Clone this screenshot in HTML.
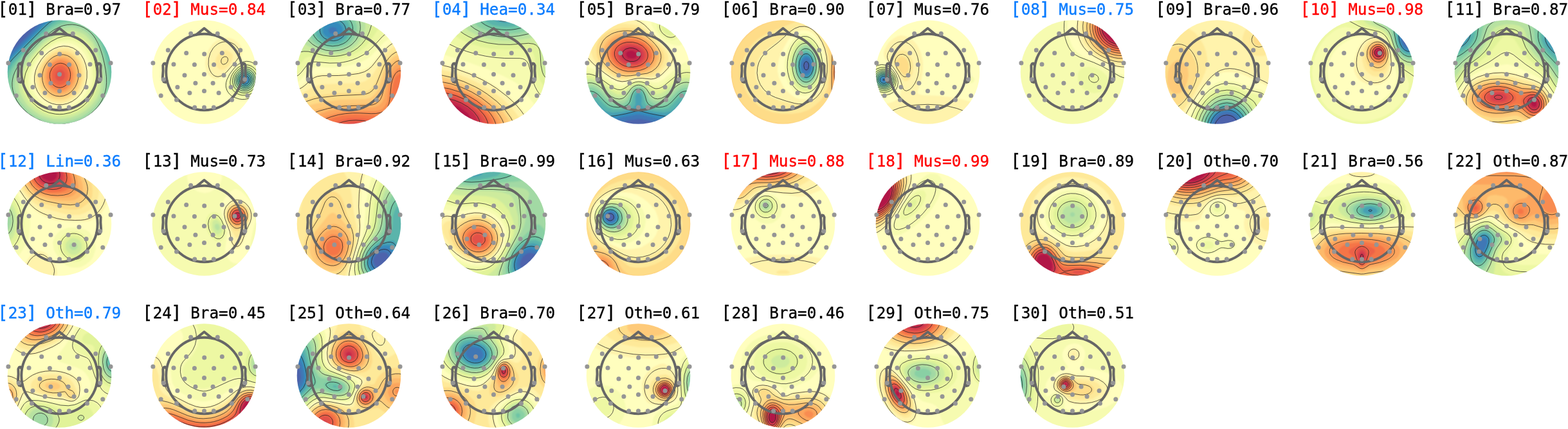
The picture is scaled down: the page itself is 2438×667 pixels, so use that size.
<!DOCTYPE html><html><head><meta charset="utf-8"><style>html,body{margin:0;padding:0;background:#fff;width:2438px;height:667px;overflow:hidden}svg{display:block}.t{font-family:"DejaVu Sans Mono",monospace;font-size:24.3px;stroke-width:0.35px}.b{font-size:27.5px}.ct{fill:none;stroke:#222;stroke-width:0.75}.hd{fill:none;stroke:#666;stroke-width:3.9;stroke-linejoin:round;stroke-linecap:round}.sn{fill:#959595}</style></head><body><svg width="2438" height="667" viewBox="0 0 2438 667"><defs><filter id="bl" x="-5%" y="-5%" width="110%" height="110%"><feGaussianBlur stdDeviation="1.3"/></filter></defs><clipPath id="c1"><circle cx="92.5" cy="112" r="80.8"/></clipPath><g clip-path="url(#c1)"><g filter="url(#bl)"><rect x="8.7" y="28.2" width="167.6" height="167.6" fill="#fffebe"/><path fill="#fff3ac" d="M93 72l9-1 7 1 8 3 6 6 6 6 4 9 2 9 1 10-1 11-2 9-4 7-6 8-6 6-8 4-7 3-9 1-8-1-7-2-8-4-6-5-5-7-4-7-2-8 0-7 0-8 3-9 4-7 5-8 5-6 8-6 7-5z"/><path fill="#f6fbb0" d="M10 28l167 0 0 168-168 0 0-168zM95 67l-8 3-8 4-7 5-8 8-6 9-5 9-3 9-2 9 1 9 2 7 4 8 6 7 6 6 8 4 7 3 9 1 9-1 9-2 9-5 8-6 6-8 4-8 3-9 1-11 0-12-3-10-4-10-6-8-7-6-8-4-9-1z"/><path fill="#fee999" d="M90 76l7-1 8 0 7 3 6 4 6 6 4 8 3 7 1 9 0 9-2 9-3 8-5 7-6 6-7 5-7 3-8 1-7-1-6-1-7-4-6-4-5-6-3-6-2-6-2-8 1-7 1-8 3-7 5-7 5-7 5-5 6-4z"/><path fill="#edf8a3" d="M10 28l167 0 0 168-168 0 0-168zM97 63l-9 2-9 5-9 7-8 8-7 9-6 11-4 10-1 9 0 9 2 8 5 8 6 8 7 6 8 4 9 4 9 1 10-1 9-2 10-4 8-7 7-7 5-9 4-10 2-11-1-12-2-13-4-11-6-10-8-7-8-4-10-2z"/><path fill="#fedc88" d="M93 79l7 0 6 1 6 3 5 4 5 6 3 6 2 7 1 9 0 8-2 7-3 8-5 6-6 5-6 4-6 2-7 1-8-1-6-2-5-3-5-5-3-4-4-6-1-6-1-8 0-6 2-7 4-8 4-6 5-5 6-5 6-3z"/><path fill="#e1f399" d="M10 28l167 0 0 168-168 0 0-168zM97 58l-10 4-9 5-9 7-9 9-9 11-6 11-4 10-2 9 0 9 3 9 4 9 6 8 8 7 9 5 9 3 10 2 12 0 11-3 10-4 9-7 8-8 5-9 4-10 2-11 0-13-3-15-4-14-7-10-8-8-9-5-10-2z"/><path fill="#feca79" d="M90 83l6-1 6 1 6 2 6 4 4 5 4 6 1 6 2 8-1 7-1 8-3 6-4 6-4 4-6 4-6 2-6 1-6 0-4-1-6-3-5-4-4-5-3-4-2-6-1-6 2-12 2-6 3-7 5-5 4-4 5-3z"/><path fill="#cdeb9d" d="M10 28l167 0 0 168-168 0 0-168zM97 54l-10 3-11 7-10 9-10 9-9 12-7 12-5 11-1 9 0 9 2 9 5 9 7 9 9 7 9 6 10 4 12 2 12-1 12-2 11-5 10-7 9-9 5-9 4-10 2-12 0-17-3-16-5-14-7-12-8-7-10-6-12-2z"/><path fill="#fdb96a" d="M91 86l6 0 5 1 4 1 5 3 4 5 3 6 2 6 1 6 0 7-2 6-2 6-3 5-4 4-5 4-5 2-6 1-6-1-4-1-5-2-4-4-4-5-2-4-2-11 0-6 1-6 5-10 8-8 5-3z"/><path fill="#b8e2a1" d="M10 28l167 0 0 168-168 0 0-168zM102 48l-11 3-10 6-11 7-12 12-12 14-9 13-6 11-2 10 0 11 2 9 5 10 6 9 9 8 10 7 11 4 12 3 13 0 12-2 12-4 12-7 9-8 8-10 5-10 2-12 1-15-3-18-5-18-6-14-8-9-4-4-6-3-12-4z"/><path fill="#fca55d" d="M94 90l5 0 4 1 5 3 3 3 3 4 2 5 2 11-2 10-5 9-5 4-4 3-9 2-5 0-4-2-8-6-5-8-1-11 2-10 5-9 8-7 5-2z"/><path fill="#a2d9a4" d="M10 28l167 0 0 168-168 0 0-168zM100 43l-10 4-11 6-12 10-13 13-14 15-9 14-5 10-3 11 0 10 3 11 5 10 9 11 9 8 12 7 12 4 12 3 14 0 13-3 14-5 11-7 10-9 7-10 6-12 2-12 0-17-4-21-5-18-8-15-9-10-10-6-12-3-6 0z"/><path fill="#f88c51" d="M90 94l4-1 5 1 7 3 3 3 2 5 3 9-1 9-1 4-3 5-6 6-4 2-5 1-7-1-7-4-4-6-3-9 1-9 3-7 5-7z"/><path fill="#89d0a4" d="M10 28l167 0 0 168-168 0 0-168zM108 37l-11 2-10 5-11 7-13 12-19 19-14 17-7 12-4 12-1 10 2 12 5 11 7 10 9 9 11 8 12 6 14 4 13 1 15-1 15-4 13-6 12-9 9-11 7-11 3-13 1-16-2-20-6-24-8-18-8-10-9-8-12-5-6-1z"/><path fill="#f57547" d="M90 98l7 0 6 2 5 6 2 8 0 9-4 7-5 5-7 2-6-1-5-3-4-4-2-8 0-7 2-7 5-5z"/><path fill="#6ec5a5" d="M10 28l167 0 0 168-64 0 13-4 12-6 10-8 8-8 7-10 4-10 3-12 1-12-2-17-5-22-6-18-7-14-7-9-9-7-12-5-12-2-11 2-10 3-11 7-12 10-25 25-16 18-8 12-4 12-1 11 2 12 4 12 8 11 9 10 11 9 13 6 12 4-63 0 0-168z"/><path fill="#ed6246" d="M90 103l6-1 4 2 4 4 2 6 0 6-2 6-4 4-6 2-4 0-5-3-3-3-1-5 0-6 1-5 3-4z"/><path fill="#5ab4ab" d="M10 28l94 0-11 3-11 6-10 8-14 13-27 29-11 12-7 12-3 6-1 7 0-96zM120 28l57 0 0 168-50 0 11-5 9-7 9-7 7-10 6-10 4-10 2-11 0-12-2-16-5-21-7-20-6-13-7-10-8-7-10-6zM9 139l2 9 4 9 4 8 6 7 7 8 8 6 9 6 9 4-49 0z"/><path fill="#e2514a" d="M91 109l3-1 3 1 3 3 1 3 0 5-2 3-2 2-3 1-3 0-3-2-2-4 0-3 1-4 1-2z"/><path fill="#47a0b3" d="M10 28l79 0-11 8-15 13-41 42-8 9-5 9 0-81zM135 28l42 0 0 76-10-32-8-19-5-8-6-6-7-6-7-5zM177 149l0 47-41 0 14-9 12-11 9-13zM9 154l6 12 10 12 11 10 13 8-40 0z"/><path fill="#358bbc" d="M10 28l72 0-16 14-48 48-9 11 0-73zM142 28l35 0 0 60-9-24-7-15-8-12zM177 161l0 35-33 0 10-7 9-8 8-10zM9 165l7 9 7 9 9 7 9 6-32 0 0-33z"/><path fill="#3f77b5" d="M10 28l65 0-66 67 0-67zM150 28l27 0 0 47-7-17-6-12-8-10-7-8zM177 169l0 27-26 0 14-12zM9 172l12 13 12 11-24 0 0-25z"/><path fill="#4e63ac" d="M10 28l58 0-29 32-30 28 0-60zM157 28l20 0 0 32-10-18-11-14zM177 179l0 17-17 0 9-8zM10 181l7 8 8 7-16 0 0-16z"/></g><path class="ct" d="M136.4 28.2l7.1 4.5 5.2 4.5 5.5 6.3 4.7 7.2 4.3 8.4 3.9 9.6 9.6 30.2M8.7 106.5l5.2-7.8 6.3-7.5 44-44.6 12-11.1 10.6-7.3M176.7 153.5l-2.9 6.7-3.3 6-4 6-4.8 5.9-4.5 4.7-6 5.2-12.2 8.2M46 196.2l-11.8-7.8-10.5-9.5-9-11.2-6-10.4M104.7 38.5l7.5-.4 6 .7 6 1.5 6 2.5 5.5 3.4 5 4.1 4.4 4.9 3.1 4.5 4.1 7.5 3.7 9 3.4 10.5 2.9 12 2 10.5 1.2 10.5.1 9-.6 7.5-1.2 6-2.1 6.8-3 6.7-3 5.2-3.9 5.3-5.1 5.6-5.6 4.9-4.9 3.6-6 3.6-6.8 3.3-6.7 2.5-7.5 2-13.5 1.7-7.5 0-7.5-.8-7.5-1.5-6-1.8-12-5.3-11.2-7.3-9.6-9-3.7-4.5-4.1-6-4.9-10.5-1.7-6-1-6-.1-6 .5-4.5 1.3-6 2.2-6 3.1-6 3.9-6 12.1-15 16.2-17.3 13.5-12.5 12-8.9 10.5-5.3 4.5-1.5 6-1.2M98.7 56.5l6-.7 4.5.1 6 .9 4.5 1.4 4.5 2.1 4.5 2.9 4.5 3.9 3.9 4.6 2.9 4.5 3.1 6 2.3 6 2.2 7.5 2.6 15 .4 7.5-.3 7.5-2 10.5-4.1 10.5-5.8 9-8.2 8.2-5 3.8-5 3-11 4.6-10.5 2.1-6 .3-6-.3-10.5-2.1-9-3.6-9-5.5-8.3-7.5-5.7-7.5-4.4-9-2.2-9-.1-9 2.3-10.5 4.6-10.5 6.5-10.5 8.8-11 9-9 10.5-8 10.5-5.5 9-2.7M98.7 71.6l7.5.6 7.5 2.5 6.8 4.5 5.6 6 4.4 7.5 3.2 9 1.5 9-.1 10.5-1.7 9-3.2 8.2-4.5 7.3-6 6.6-7.5 5.4-7.5 3.3-7.5 1.7-9 0-7.5-1.7-6-2.6-6.4-4.2-6-6-4.1-6-3.1-7.5-1.5-7.5.1-9 1.9-9 3.1-7.5 5.5-9 6-7.1 6-5.3 7.5-4.6 7.5-2.9 7.5-1.2M92.7 85.1l6-.2 6 1.5 4.5 2.5 4.4 3.8 3.4 4.5 2.9 6 1.6 6 .6 6-.6 7.5-1.6 6-2.7 6-3.5 4.9-4.2 4.1-4.8 3.2-6 2.2-6 .7-6-.7-4.5-1.6-4.5-2.7-4.5-4.1-3.3-4.5-2.2-4.5-1.6-6-.5-6 .5-6 1.6-6 2.5-5.5 3.3-5 4.2-4.6 4.5-3.5 4.5-2.3 6-1.7M91.2 98.6l3-.4 3 .4 3 1 3.2 2.1 2.7 3 1.7 3 1.4 4.4.4 3.1-.2 4.5-.6 3-2.8 6-2.8 3.3-3 2.2-3 1.4-3 .6-3 0-3-.8-3-1.4-2.8-2.3-2.3-3-1.5-3-1.3-6 .1-4.5.6-3 2.8-6 4.4-4.7 3-1.9 3-1"/></g><g class="hd"><circle cx="92.5" cy="112" r="59.2"/><path d="M80.1 54.11L92.5 43.92L104.9 54.11"/><path d="M151.34 101.64 152.88 98.65 153.83 98.54 155.24 99.04 156.66 101.64 156.44 109.95 157.26 121.89 155.49 127.08 152.88 128.04 150.4 125.53"/><path d="M33.66 101.64 32.12 98.65 31.17 98.54 29.76 99.04 28.34 101.64 28.56 109.95 27.74 121.89 29.51 127.08 32.12 128.04 34.6 125.53"/></g><g class="sn"><circle cx="71.7" cy="52.3" r="3.5"/><circle cx="113.3" cy="52.3" r="3.5"/><circle cx="36.3" cy="78" r="3.5"/><circle cx="148.7" cy="78" r="3.5"/><circle cx="64.7" cy="82.4" r="3.5"/><circle cx="92.7" cy="84" r="3.5"/><circle cx="120.3" cy="82.4" r="3.5"/><circle cx="12.9" cy="97.9" r="3.5"/><circle cx="172.1" cy="97.9" r="3.5"/><circle cx="45" cy="100" r="3.5"/><circle cx="77.4" cy="100.4" r="3.5"/><circle cx="107.6" cy="100.4" r="3.5"/><circle cx="140" cy="100" r="3.5"/><circle cx="62" cy="117" r="3.5"/><circle cx="92.5" cy="115.5" r="3.5"/><circle cx="123" cy="117" r="3.5"/><circle cx="29.2" cy="123.6" r="3.5"/><circle cx="155.8" cy="123.6" r="3.5"/><circle cx="78.9" cy="129.3" r="3.5"/><circle cx="106.1" cy="129.3" r="3.5"/><circle cx="50.9" cy="135.6" r="3.5"/><circle cx="134.1" cy="135.6" r="3.5"/><circle cx="92.5" cy="141.4" r="3.5"/><circle cx="69.9" cy="144.6" r="3.5"/><circle cx="115.1" cy="144.6" r="3.5"/><circle cx="25.2" cy="148.8" r="3.5"/><circle cx="159.8" cy="148.8" r="3.5"/><circle cx="49.5" cy="155.2" r="3.5"/><circle cx="135.5" cy="155.2" r="3.5"/><circle cx="77.7" cy="167.1" r="3.5"/><circle cx="92.5" cy="167.1" r="3.5"/><circle cx="107.3" cy="167.1" r="3.5"/></g><clipPath id="c2"><circle cx="317.5" cy="112" r="80.8"/></clipPath><g clip-path="url(#c2)"><g filter="url(#bl)"><rect x="233.7" y="28.2" width="167.6" height="167.6" fill="#fffebe"/><path fill="#fff3ac" d="M346 59l6 0 5 0 6 2 4 3 5 4 3 5 2 5 0 4-2 5-3 4-23 26-4 3-5 2-4 1-3 0-6-4-4-4-2-4-2-11 1-12 4-10 6-9 7-6z"/><path fill="#f6fbb0" d="M384 94l4 1 5 1 4 3 5 4 0 42-6 6-9 4-9 1-9-1-9-4-7-6-3-7 0-9 5-12 9-12 6-6 5-2 4-2z"/><path fill="#fee999" d="M346 79l6-1 6 3 4 4 0 5-2 6-5 7-6 5-4 1-4-1-3-3-2-5-1-4 1-6 3-5 3-3z"/><path fill="#edf8a3" d="M376 100l8-1 7 2 6 4 5 6 0 26-4 5-4 4-6 3-6 1-6 0-4-1-8-3-6-7-2-7 1-9 4-9 6-8 5-4z"/><path fill="#e1f399" d="M376 103l5-1 4 0 8 3 6 7 3 8 0 9-2 4-2 5-7 6-7 3-9 0-8-4-5-5-3-8 1-7 3-9 6-7z"/><path fill="#cdeb9d" d="M378 105l7-1 7 4 5 6 3 7-1 8-3 8-6 5-8 2-7 0-6-3-5-6-2-6 0-8 4-7 5-6z"/><path fill="#b8e2a1" d="M382 106l6 2 6 4 3 6 1 8-2 6-4 6-5 3-8 1-6-1-6-5-3-6 0-6 2-7 4-6 6-4z"/><path fill="#a2d9a4" d="M376 109l6-1 6 2 5 4 3 6 0 7-3 6-4 5-5 2-6 0-6-2-4-5-2-4 0-6 2-6 4-5z"/><path fill="#89d0a4" d="M378 110l6 0 4 2 4 3 2 6 0 6-2 5-4 4-4 2-6 0-5-2-3-3-2-4-1-6 2-5 3-4z"/><path fill="#6ec5a5" d="M378 112l4 0 5 1 4 4 2 4 0 5-2 4-3 4-4 2-5 1-4-2-4-3-2-5 0-4 2-5 2-3z"/><path fill="#5ab4ab" d="M379 113l5 1 3 1 3 3 1 5 0 4-2 3-2 3-5 2-4 0-3-2-3-3-1-4 0-5 2-3 2-3z"/><path fill="#47a0b3" d="M381 115l3 1 3 1 1 3 1 4 0 3-2 4-3 2-3 0-3 0-3-3-2-3-1-3 1-3 2-3 3-2z"/><path fill="#358bbc" d="M379 118l3-1 2 1 2 2 1 3 0 4-2 2-3 2-4-1-2-1-1-3 0-5 1-1z"/><path fill="#3f77b5" d="M379 121l3-1 3 3 0 3-3 2-3 0-2-2 0-3z"/></g><path class="ct" d="M380.7 122.1l-1 .6-.7 1.5.8 1.5.9.5 1.5-.3.7-1.7-.7-1.8-1.5-.3M379.2 117.5l-3 2.1-1 1.6-.6 1.5 0 3 1.4 3 1.6 1.5 1.6.7 3 .1 3-1.6 1.5-1.9.6-1.8.1-3-1.3-3-1.7-1.5-2.2-.9-3 .2M377.7 115.1l-3 2.1-1.8 2.5-1 3 .2 4.5 1.5 3 2.6 2.5 3 1.1 4.5-.3 3-1.7 2.4-3.1.9-3-.2-4.5-1.6-3.2-3-2.6-3-1-4.5.7M379.2 112.1l-3.9 1.6-3.2 3-2.3 4.5-.4 4.5 1.2 4.5 2.6 3.4 4.5 2.5 4.5.3 4.5-1.6 3.3-3.1 2.1-4.5.3-4.5-1.3-4.5-2.9-3.7-4.5-2.4-4.5 0M376.2 110.6l-4.5 3.1-3.2 4.5-1.1 3-.4 3 .4 4.5 2.1 4.5 3.7 3.6 4.5 1.9 3 .3 3-.4 5.2-2.4 2.3-2.2 1.6-2.3 1.3-3 .6-3-.5-6-1.2-3-1.8-2.6-4.5-3.5-4.5-1.1-3 .1-3 1M377.7 107.4l-3 1.2-3 2-4.1 4.6-2.6 6-.5 6 .6 3 1.2 3 3.9 4.7 3 2 3 1.1 6 .5 3-.6 3-1.3 3-2.1 2.5-2.8 1.8-3 1.1-3 .5-3-.2-4.5-.7-3-2-4.1-1.5-2-3-2.6-3-1.6-3-.8-3-.2-3 .5M377.7 104.6l-3 1.1-3.3 2-3.4 3-2.4 3-1.7 3-1.7 4.5-.6 4.5.1 3 1.9 6 2.1 3.2 3 2.8 3 1.9 3 1.2 3 .6 4.5.1 4.5-1.1 3-1.4 3-2.1 3-3.3 2.1-3.4 1.5-4.5.4-3-.1-4.5-1.1-4.5-1.3-3-2.1-3-3.1-3-3.8-2.3-3-.9-4.5-.4-3 .5M401.7 115.6l-3.4-6.4-2.6-3-3-2.4-3-1.6-4.5-1.3-4.5-.2-3 .5-3 1.1-4.5 2.7-5.8 5.7-3 4.5-2.1 4.5-1.5 7.5.1 3 1.1 4.5 1.4 3 2.2 3 3.1 2.9 3 2 4.5 1.8 3 .7 7.5-.1 3-.7 4.5-2 4.1-3.1 2.8-3 1.9-3 1.7-3.8M401.7 104.7l-3-3.2-3-2.3-4.5-2.4-3-1-4.5-.5-3 .3-3 .7-4.5 2-4.5 3.2-4.5 4.3-7.1 9.4-4.4 9-1.2 4.5-.3 4.5.3 3 1.5 4.5 1.8 3 2.6 3 2.3 2 4.5 2.7 7.5 2.5 4.5.6 4.5-.1 7.5-1.5 7.5-3.8 6-5.7M346.2 65.3l4.5-.5 4.5.3 4.5 1.4 4.5 2.4 3.2 2.8 3.4 4.5 1.7 4.5 0 4.5-1.8 4.5-3 4.5-15.5 17.9-4.5 3.9-3 1.8-4.5 1.3-3 0-3-.9-3-1.9-2.4-2.6-2.5-4.5-1.5-4.5-.7-4.5.3-9 2.7-9 4.5-7.5 2.8-3 4.3-3.3 3-1.6 4.5-1.5M349.2 88l3 .4 1.5 1.3.8 3-.7 3-1.6 2.3-1.5 1.2-3 1-1.5-.3-1.5-1.3-.7-1.4-.2-3 .9-2.8 1.3-1.7 3.2-1.7"/></g><g class="hd"><circle cx="317.5" cy="112" r="59.2"/><path d="M305.1 54.11L317.5 43.92L329.9 54.11"/><path d="M376.34 101.64 377.88 98.65 378.83 98.54 380.24 99.04 381.66 101.64 381.44 109.95 382.26 121.89 380.49 127.08 377.88 128.04 375.4 125.53"/><path d="M258.66 101.64 257.12 98.65 256.17 98.54 254.76 99.04 253.34 101.64 253.56 109.95 252.74 121.89 254.51 127.08 257.12 128.04 259.6 125.53"/></g><g class="sn"><circle cx="296.7" cy="52.3" r="3.5"/><circle cx="338.3" cy="52.3" r="3.5"/><circle cx="261.3" cy="78" r="3.5"/><circle cx="373.7" cy="78" r="3.5"/><circle cx="289.7" cy="82.4" r="3.5"/><circle cx="317.7" cy="84" r="3.5"/><circle cx="345.3" cy="82.4" r="3.5"/><circle cx="237.9" cy="97.9" r="3.5"/><circle cx="397.1" cy="97.9" r="3.5"/><circle cx="270" cy="100" r="3.5"/><circle cx="302.4" cy="100.4" r="3.5"/><circle cx="332.6" cy="100.4" r="3.5"/><circle cx="365" cy="100" r="3.5"/><circle cx="287" cy="117" r="3.5"/><circle cx="317.5" cy="115.5" r="3.5"/><circle cx="348" cy="117" r="3.5"/><circle cx="254.2" cy="123.6" r="3.5"/><circle cx="380.8" cy="123.6" r="3.5"/><circle cx="303.9" cy="129.3" r="3.5"/><circle cx="331.1" cy="129.3" r="3.5"/><circle cx="275.9" cy="135.6" r="3.5"/><circle cx="359.1" cy="135.6" r="3.5"/><circle cx="317.5" cy="141.4" r="3.5"/><circle cx="294.9" cy="144.6" r="3.5"/><circle cx="340.1" cy="144.6" r="3.5"/><circle cx="250.2" cy="148.8" r="3.5"/><circle cx="384.8" cy="148.8" r="3.5"/><circle cx="274.5" cy="155.2" r="3.5"/><circle cx="360.5" cy="155.2" r="3.5"/><circle cx="302.7" cy="167.1" r="3.5"/><circle cx="317.5" cy="167.1" r="3.5"/><circle cx="332.3" cy="167.1" r="3.5"/></g><clipPath id="c3"><circle cx="542.5" cy="112" r="80.8"/></clipPath><g clip-path="url(#c3)"><g filter="url(#bl)"><rect x="458.7" y="28.2" width="167.6" height="167.6" fill="#fffebe"/><path fill="#fff3ac" d="M621 63l6 0 0 133-168 0 0-58 4-1 5-2 18-16 7-3 8-1 22 0 17-1 16-3 11-3 6-3 6-6 17-21 8-8 8-5z"/><path fill="#f6fbb0" d="M460 28l167 0 0 26-11 0-10 5-9 7-20 21-7 5-8 4-15 5-16 3-15 1-21-1-6 1-4 1-4 3-13 15-5 3-4 1 0-100z"/><path fill="#fee999" d="M616 71l5-1 6 1 0 125-168 0 0-48 9-2 19-11 9-3 11-1 46-2 9-1 6-2 6-4 5-5 16-26 6-9 8-7z"/><path fill="#edf8a3" d="M460 28l167 0 0 14-12 1-6 2-6 4-9 7-21 22-9 7-9 5-14 5-15 2-13 1-23-3-6 1-4 2-3 3-12 14-6 3 0-90z"/><path fill="#fedc88" d="M621 78l6 0 0 118-168 0 0-37 9-2 19-7 11-2 24-3 39-1 7-1 5-2 4-3 5-6 13-29 8-13 4-5 5-4 4-2z"/><path fill="#e1f399" d="M460 28l167 0-9 1-8 1-7 3-6 3-8 8-13 19-7 9-10 8-10 5-14 5-15 2-12 0-21-4-7 0-6 3-11 12-4 2 0-77z"/><path fill="#feca79" d="M618 85l4-1 5 1 0 111-168 0 0-25 28-9 15-3 27-4 39-1 8-2 4-3 4-4 4-6 8-25 6-14 4-5 4-5z"/><path fill="#cdeb9d" d="M460 28l121 0-5 17-4 10-6 9-7 8-9 7-10 5-11 2-12 2-13-2-26-6-6 0-9 2-3-1-1-2 0-51z"/><path fill="#fdb96a" d="M622 91l5 1 0 104-168 0 0-12 21-9 13-5 17-4 18-3 46-2 6-2 5-2 4-4 3-6 8-29 5-13 4-6 4-4 5-3z"/><path fill="#b8e2a1" d="M466 29l0-1 101 0 1 8 0 7-2 9-5 9-6 8-6 5-9 5-9 3-11 1-10 0-11-2-11-5-12-6-7-5-3-7-2-9 0-10z"/><path fill="#fca55d" d="M619 99l5-1 3 1 0 97-163 0 10-7 12-7 12-5 12-4 13-3 15-2 41-1 6-1 4-2 5-5 3-6 6-29 4-12 6-9 3-3z"/><path fill="#a2d9a4" d="M477 28l81 0 3 11 0 6-1 6-3 7-5 7-6 6-8 4-7 3-9 2-9-1-9-1-9-3-9-6-6-5-5-6-2-7-1-8 2-9z"/><path fill="#f88c51" d="M621 106l3 0 3 1 0 89-145 0 7-6 10-6 11-4 11-3 11-2 14-2 36 0 7-1 5-2 4-4 4-7 4-29 4-12 5-8 3-3z"/><path fill="#89d0a4" d="M484 29l66-1 3 6 2 6 0 8-2 6-3 6-5 6-5 4-7 3-8 2-8 1-7-1-8-2-7-3-6-4-4-5-4-6-2-6 0-7 2-6z"/><path fill="#f57547" d="M621 115l3 0 3 1 0 80-131 0 8-6 7-4 9-3 11-3 21-2 36 2 6-1 6-3 5-4 3-6 1-7 1-20 2-10 3-9 3-3z"/><path fill="#6ec5a5" d="M492 29l51-1 4 6 3 8-1 7-1 6-4 5-4 5-6 4-6 2-6 1-8 0-7-1-6-2-5-3-5-5-3-4-3-6 0-6 1-6 3-6z"/><path fill="#ed6246" d="M622 131l2 0 1 3 1 5-1 7-1 3-2 1-1 0-2-3-1-6 1-6 2-3zM543 184l18 0 30 4 18 1 4 2 2 5-105 0 6-4 7-3 10-3z"/><path fill="#5ab4ab" d="M499 29l1-1 35 0 6 6 3 8 0 7-3 8-3 4-4 3-5 3-6 1-6 1-6-1-6-2-4-2-5-4-3-3-2-5-1-4 1-6 1-5 3-4z"/><path fill="#e2514a" d="M543 190l10-1 11 1 12 3 8 3-59 0 7-3z"/><path fill="#47a0b3" d="M510 29l5-1 10 1 7 4 4 4 3 6 0 8-3 6-5 4-9 3-9 0-9-3-6-6-2-7 1-8 2-4 3-3z"/><path fill="#358bbc" d="M514 34l6 0 5 1 4 3 3 4 1 4-1 6-3 4-4 3-6 1-8-1-6-4-3-4 0-6 2-5 4-4z"/><path fill="#3f77b5" d="M517 42l5 1 2 3 0 3-1 2-4 2-5-1-2-1-1-3 0-3 2-2z"/></g><path class="ct" d="M517.2 29.7l-4.5.5-3.5 1-4 2-3 2.4-2.5 3.1-1.5 3-.8 3-.1 3 .6 3 1.3 3.1 2.1 2.9 3.4 3 6.5 3 7.5.8 4.5-.7 3-.9 6-3.7 2.6-3 1.7-3 .9-3 .2-3-.4-3-1.1-3-1.9-3-3-3-3.5-2.2-3-1.2-7.5-1.1M493.6 28.2l-4.6 6-1.5 3-1.3 4.5-.3 4.5.2 3 1.2 4.5 1.5 3 4.8 6 7.1 5 7.5 2.9 9 1.2 9-1.1 7.5-2.8 3.7-2.2 3.6-3 4.7-6 1.4-3 1.3-4.5.3-3-.3-4.5-1.2-4.5-1.3-3-4.5-6M477.2 28.2l-3.2 9-.8 6 0 4.5 1.6 7.5 2.2 4.5 2.2 3 6.5 6 4.6 3 5.9 3 10.5 3.5 10.5 1.1 10.5-1 6-1.7 4.5-1.9 4.5-2.4 4.5-3.3 6.1-6.3 4.3-7.5 1.6-4.5.9-4.5.2-4.5-.4-4.5-1-4.5-1.6-4.5M458.7 78.9l1.5 1.8 3 .9 9-1.7 7.5.2 22.5 5.8 12 1.6 7.5-.1 7.5-.9 7.5-1.8 6-2.2 7.5-3.8 6-4.2 6.3-5.8 4.8-6 3.7-6 3.4-7.5 6.5-21M458.7 119.1l3-.9 3-1.8 4.1-4.2 8.2-10.5 3.6-3 3.6-1.7 3-.6 4.5-.2 21 1.9 13.5-.3 7.5-1 7.5-1.6 7.5-2.3 7.5-3 9-4.8 8-5.9 7-6.7 14.5-15.8 8-6.6 6-3.4 6-2.1 6-.9 6 0M458.7 140.3l4.9-1.1 5.6-2.8 4.5-3.3 12-10.5 3-1.9 4.5-1.8 7.5-1.2 25.5-.2 18-1.3 13.5-1.9 9-2.7 6-3.5 6-5.5 18-23 4.5-4.9 4.5-4 4.5-3.1 6-2.5 4.5-.9 6 .2M458.7 162.9l9-2.2 19.5-6.7 10.5-2.3 27-2.9 39-1.8 6-1 4.5-1.7 4.9-3.6 4.1-5.7 3-6.5 9.4-23.8 4-7.5 4.6-6.6 5.1-5.4 5.4-3.6 6-1.9 6 .4M458.7 189.9l13.3-7.2 12.7-6 11.5-4.2 13.5-3.7 13.5-2.5 13.5-1.5 37.5-1.1 6-1 4.5-1.8 4.7-3.7 2.2-3 2.1-4.5 1.8-6 5.5-24 3.2-8.8 3.3-6.2 4.2-5.5 4.5-3.6 4.5-1.6 3-.1 3 .7M489.4 196.2l7.2-6 7.8-4.5 9.8-4 12-3.3 10.5-1.7 12-1 10.5.1 18 .9 7.5-.2 7.1-1.3 4.9-2.3 4.5-4.2 1.6-2.5 1.8-4.5 1.4-7.5 2.3-22.5 1.4-6 2.1-6 2.9-5.1 2.3-2.4 2.2-1.5 1.5-.6 3-.1 3 1.2M518.5 196.2l7.7-4.4 7.5-2.5 9-1.8 10.5-.6 10.5.6 10.5 1.8 14.3 3.9 7.1 3"/></g><g class="hd"><circle cx="542.5" cy="112" r="59.2"/><path d="M530.1 54.11L542.5 43.92L554.9 54.11"/><path d="M601.34 101.64 602.88 98.65 603.83 98.54 605.24 99.04 606.66 101.64 606.44 109.95 607.26 121.89 605.49 127.08 602.88 128.04 600.4 125.53"/><path d="M483.66 101.64 482.12 98.65 481.17 98.54 479.76 99.04 478.34 101.64 478.56 109.95 477.74 121.89 479.51 127.08 482.12 128.04 484.6 125.53"/></g><g class="sn"><circle cx="521.7" cy="52.3" r="3.5"/><circle cx="563.3" cy="52.3" r="3.5"/><circle cx="486.3" cy="78" r="3.5"/><circle cx="598.7" cy="78" r="3.5"/><circle cx="514.7" cy="82.4" r="3.5"/><circle cx="542.7" cy="84" r="3.5"/><circle cx="570.3" cy="82.4" r="3.5"/><circle cx="462.9" cy="97.9" r="3.5"/><circle cx="622.1" cy="97.9" r="3.5"/><circle cx="495" cy="100" r="3.5"/><circle cx="527.4" cy="100.4" r="3.5"/><circle cx="557.6" cy="100.4" r="3.5"/><circle cx="590" cy="100" r="3.5"/><circle cx="512" cy="117" r="3.5"/><circle cx="542.5" cy="115.5" r="3.5"/><circle cx="573" cy="117" r="3.5"/><circle cx="479.2" cy="123.6" r="3.5"/><circle cx="605.8" cy="123.6" r="3.5"/><circle cx="528.9" cy="129.3" r="3.5"/><circle cx="556.1" cy="129.3" r="3.5"/><circle cx="500.9" cy="135.6" r="3.5"/><circle cx="584.1" cy="135.6" r="3.5"/><circle cx="542.5" cy="141.4" r="3.5"/><circle cx="519.9" cy="144.6" r="3.5"/><circle cx="565.1" cy="144.6" r="3.5"/><circle cx="475.2" cy="148.8" r="3.5"/><circle cx="609.8" cy="148.8" r="3.5"/><circle cx="499.5" cy="155.2" r="3.5"/><circle cx="585.5" cy="155.2" r="3.5"/><circle cx="527.7" cy="167.1" r="3.5"/><circle cx="542.5" cy="167.1" r="3.5"/><circle cx="557.3" cy="167.1" r="3.5"/></g><clipPath id="c4"><circle cx="767.5" cy="112" r="80.8"/></clipPath><g clip-path="url(#c4)"><g filter="url(#bl)"><rect x="683.7" y="28.2" width="167.6" height="167.6" fill="#fffebe"/><path fill="#fff3ac" d="M685 99l24 6 23 8 22 11 20 12 18 14 15 15 12 15 9 16-144 0 0-98z"/><path fill="#f6fbb0" d="M685 28l167 0 0 157-18-19-24-30-6-6-8-5-16-8-21-9-33-12-42-13 0-55z"/><path fill="#fee999" d="M685 108l21 5 21 8 21 10 18 11 16 12 14 14 10 13 7 15-129 0 0-88z"/><path fill="#edf8a3" d="M685 28l167 0 0 124-5-1-4-3-5-5-3-5-5-12-7-27-1-3-3-4-5-2-4-1-32 0-27-4-24-6-22-9-12-7-9-6 0-29z"/><path fill="#fedc88" d="M685 115l20 4 19 7 20 10 16 10 15 12 13 13 9 13 6 12-119 0 0-81z"/><path fill="#e1f399" d="M688 28l164 0 0 108-3-1-4-2-2-3-4-6-4-12-4-24-2-5-3-4-4-2-6-1-29 1-21-1-18-3-16-5-18-8-14-10-6-7-4-6-3-9z"/><path fill="#feca79" d="M685 120l18 4 18 7 18 8 17 10 13 11 12 12 8 12 6 12-111 0 0-76z"/><path fill="#cdeb9d" d="M702 28l150 0 0 94-5-3-4-7-2-10-2-23-2-6-3-3-5-2-7-1-29 2-18 0-16-2-15-4-17-7-13-8-5-5-4-6-3-6-1-3z"/><path fill="#fdb96a" d="M685 125l18 4 17 6 16 8 15 9 14 11 10 11 8 12 4 10-103 0 0-71z"/><path fill="#b8e2a1" d="M714 28l138 0 0 26-3 2-5 2-18 1-27 4-18 0-18-2-19-5-15-8-6-5-6-6-4-7 0-2z"/><path fill="#fca55d" d="M685 130l17 3 16 6 15 7 14 8 13 11 10 10 7 11 4 10-97 0 0-67z"/><path fill="#a2d9a4" d="M724 28l128 0 0 7-3 5-5 5-4 3-6 2-29 7-12 1-12 0-10-1-11-2-9-3-9-4-7-5-6-5-5-7-1-3z"/><path fill="#f88c51" d="M685 134l15 3 15 4 15 7 14 8 12 10 8 9 7 11 4 10-91 0 0-62z"/><path fill="#89d0a4" d="M733 28l111 0-2 5-3 4-5 4-7 4-8 3-11 3-10 1-11 1-19-2-17-6-7-3-5-5-5-6-2-3z"/><path fill="#f57547" d="M685 138l14 2 15 5 13 6 14 8 11 9 8 9 6 10 3 9-85 0 0-58z"/><path fill="#6ec5a5" d="M742 28l92 0-3 5-3 3-11 6-14 4-16 2-15-2-13-4-11-6-4-5z"/><path fill="#ed6246" d="M685 142l14 2 13 4 14 6 12 7 10 8 7 9 6 9 2 9-79 0 0-55z"/><path fill="#5ab4ab" d="M753 28l70 0-6 6-7 4-11 3-12 1-10-1-11-2-9-5-4-4-1-2z"/><path fill="#e2514a" d="M685 145l12 2 14 4 12 5 11 7 9 8 8 9 5 9 1 7-73 0 0-51z"/><path fill="#47a0b3" d="M765 28l45 0-3 3-6 3-6 1-8 1-7-1-6-1-6-3z"/><path fill="#d7414e" d="M685 150l11 1 12 3 12 4 10 7 9 7 7 9 4 8 0 7-66 0 0-46z"/><path fill="#c52c4b" d="M685 154l11 1 11 2 11 5 10 6 8 7 5 8 3 7-1 6-54 0-5-4 0-38z"/><path fill="#b11747" d="M687 162l7-1 9 1 11 4 7 5 7 6 4 6 2 6-2 4-3 3-26 0-12-6-7-6 0-21z"/></g><path class="ct" d="M769.6 28.2l2.6 1.8 4.5 1.9 4.5 1.1 6 .5 6-.4 4.5-1 4.5-1.8 3.2-2.1M743.8 28.2l2.9 4.3 3.3 3.2 4.4 3 5.8 2.9 6 2.1 6 1.4 7.5 1.1 7.5.4 7.5-.3 7.5-1 7.5-1.8 6-2.1 5.5-2.7 4.5-3 3.5-3.4 2.6-4.1M723.7 28.2l3 6 5 5.7 6.2 4.8 7.3 4 8.7 3.5 9.3 2.5 10.5 1.8 10.5.8 10.5-.2 12-1.3 13.5-2.8 13.6-3.8 5.9-2.5 4.9-3.5 4.1-4.8 3-5.8M701.2 28.2l2.2 6 2.6 4.5 3.7 4.5 5.5 5.2 6 4.3 7 4 8 3.6 7.5 2.7 15 3.8 16.5 2.2 18 .4 28.5-2.1 7.5.9 4.4 2 3.1 3 1.7 3 .9 3 .8 6 1 16.5 2.3 10.5 1.9 4.5 1.9 2.7 2.1 1.8 2.4 1M683.7 59.6l12 7.6 13.5 6.5 16.5 6.2 15 4.3 15 3.2 13.5 2 15 1.1 24 .2 4.5.7 3 1.2 3.7 3.1 2.5 4.5 7.2 27 2.8 7.5 3.2 6 3.1 4.6 4.5 4.7 4.5 2.9 4.5 1.4M683.7 100.6l13.5 3.1 10.5 3 22.5 8.1 21 9.9 10.5 6 10.5 6.7 16.5 12.6 7.9 7.2 7.3 7.5 6.3 7.5 6.4 9 4.4 7.5 3.4 7.5M683.7 116.3l18 4 19.5 6.6 18 8.3 9 5 9 5.8 15 11.5 7.5 7.1 5.6 6.1 8.7 12 4 7.5 2.3 6M683.7 126.8l16.5 3.2 16.5 5.4 16.5 7.5 15 9 13.5 10.5 5.5 5.3 5.4 6 4.4 6 3.6 6 2.6 6 1.4 4.5M683.7 135.5l15 2.5 15 4.7 15 6.7 12.9 7.8 11.3 9 4.5 4.5 5.1 6 4 6 2.3 4.5 1.7 4.5 1 4.5M683.7 143.8l12 1.4 13.5 3.6 13.5 5.7 12.1 7.2 9.3 7.5 8.1 9 2.9 4.5 2.1 4.5 1.4 4.5.5 4.5M683.7 152.8l10.5.3 11.8 2.6 11.4 4.5 10.2 6 9 7.5 5.8 7.5 2.3 4.5.9 3 .3 4.5-.6 3M687 196.2l-3.3-2.2"/></g><g class="hd"><circle cx="767.5" cy="112" r="59.2"/><path d="M755.1 54.11L767.5 43.92L779.9 54.11"/><path d="M826.34 101.64 827.88 98.65 828.83 98.54 830.24 99.04 831.66 101.64 831.44 109.95 832.26 121.89 830.49 127.08 827.88 128.04 825.4 125.53"/><path d="M708.66 101.64 707.12 98.65 706.17 98.54 704.76 99.04 703.34 101.64 703.56 109.95 702.74 121.89 704.51 127.08 707.12 128.04 709.6 125.53"/></g><g class="sn"><circle cx="746.7" cy="52.3" r="3.5"/><circle cx="788.3" cy="52.3" r="3.5"/><circle cx="711.3" cy="78" r="3.5"/><circle cx="823.7" cy="78" r="3.5"/><circle cx="739.7" cy="82.4" r="3.5"/><circle cx="767.7" cy="84" r="3.5"/><circle cx="795.3" cy="82.4" r="3.5"/><circle cx="687.9" cy="97.9" r="3.5"/><circle cx="847.1" cy="97.9" r="3.5"/><circle cx="720" cy="100" r="3.5"/><circle cx="752.4" cy="100.4" r="3.5"/><circle cx="782.6" cy="100.4" r="3.5"/><circle cx="815" cy="100" r="3.5"/><circle cx="737" cy="117" r="3.5"/><circle cx="767.5" cy="115.5" r="3.5"/><circle cx="798" cy="117" r="3.5"/><circle cx="704.2" cy="123.6" r="3.5"/><circle cx="830.8" cy="123.6" r="3.5"/><circle cx="753.9" cy="129.3" r="3.5"/><circle cx="781.1" cy="129.3" r="3.5"/><circle cx="725.9" cy="135.6" r="3.5"/><circle cx="809.1" cy="135.6" r="3.5"/><circle cx="767.5" cy="141.4" r="3.5"/><circle cx="744.9" cy="144.6" r="3.5"/><circle cx="790.1" cy="144.6" r="3.5"/><circle cx="700.2" cy="148.8" r="3.5"/><circle cx="834.8" cy="148.8" r="3.5"/><circle cx="724.5" cy="155.2" r="3.5"/><circle cx="810.5" cy="155.2" r="3.5"/><circle cx="752.7" cy="167.1" r="3.5"/><circle cx="767.5" cy="167.1" r="3.5"/><circle cx="782.3" cy="167.1" r="3.5"/></g><clipPath id="c5"><circle cx="992.5" cy="112" r="80.8"/></clipPath><g clip-path="url(#c5)"><g filter="url(#bl)"><rect x="908.7" y="28.2" width="167.6" height="167.6" fill="#fffebe"/><path fill="#fff3ac" d="M936 30l3-2 50 0 8 4 8 7 19 22 22 20 2 4 1 5-1 4-3 6-7 9-8 7-7 5-6 2-5 1-19-2-8 1-13 4-6 1-9-3-9-5-28-21-6-6-5-7 0-30 0-1 5-7 6-8 7-5z"/><path fill="#f6fbb0" d="M1012 30l0-2 56 0 3 8 2 9-1 9-3 7-6 7-7 3-9-1-9-3-11-8-8-10-6-10zM1065 97l6-1 6 0 0 100-168 0 0-93 7 2 8 3 31 21 6 2 5 1 6-1 13-6 8-1 7 0 15 4 8 0 9-5 24-21z"/><path fill="#fee999" d="M961 37l11 0 10 1 8 1 7 3 6 4 6 5 24 24 5 9 1 4 0 5-2 6-3 4-8 10-6 4-8 3-19 0-20 4-7 0-9-3-9-5-11-8-9-9-6-9-3-9 0-11 4-10 7-9 9-7 10-5z"/><path fill="#edf8a3" d="M1026 28l25 0 3 3 4 6 2 8-1 7-3 6-6 4-6 1-8-3-7-5-6-7-2-8 1-6zM1062 109l7-1 8 1 0 87-168 0 0-85 7 1 9 3 9 5 20 13 6 3 4 1 6-2 15-8 8-1 9 1 15 7 3 0 4 0 8-4 19-16z"/><path fill="#fedc88" d="M970 43l17 1 7 3 6 2 6 4 8 7 13 15 4 6 1 4 1 5-1 4-4 9-4 5-5 4-5 3-6 2-17 1-16 3-8 0-9-3-9-5-9-8-7-8-5-9-1-9 1-9 4-9 7-7 9-6 10-3z"/><path fill="#e1f399" d="M1035 34l4-1 5 1 3 3 3 3 1 5 0 3-1 3-3 3-5 1-4-1-5-3-3-3-1-5 0-3 3-4zM1060 116l9-1 8 2 0 79-168 0 0-78 9-1 9 3 9 6 16 12 6 3 5 1 4-1 3-1 14-10 9-2 6 0 4 2 14 9 3 1 4 0 8-3 18-15z"/><path fill="#feca79" d="M961 49l15-1 15 2 12 5 11 9 9 11 3 6 2 4 0 5-1 6-3 6-4 4-6 5-8 3-33 4-7-1-8-3-7-4-6-5-7-8-4-9-2-9 2-7 3-8 6-6 8-5z"/><path fill="#cdeb9d" d="M1065 121l6 0 6 2 0 73-168 0 0-73 9-1 9 3 9 5 15 12 9 5 4 0 5-2 13-12 5-2 6-1 4 0 5 2 4 3 9 9 3 2 5 0 4-1 6-3 15-13 6-4 6-3z"/><path fill="#fdb96a" d="M969 52l13 0 14 3 10 6 10 9 6 9 2 9-1 5-2 4-2 5-5 4-6 4-8 3-18 2-9 0-7-1-8-3-7-5-6-6-5-7-2-8-1-7 3-8 5-7 6-5 7-4z"/><path fill="#b8e2a1" d="M915 127l6 0 7 3 7 5 16 13 6 3 6 1 4-1 3-1 12-14 3-2 5-2 6 0 4 1 6 5 9 12 3 1 5 1 6-1 4-3 17-15 7-5 9-2 5 0 4 2 2 1 0 67-168 0 0-67z"/><path fill="#fca55d" d="M972 55l12 0 12 3 10 6 8 8 5 9 1 7-1 5-2 4-6 8-6 3-8 3-13 2-9 0-8-2-7-3-6-4-6-5-4-8-2-7 0-8 3-6 4-6 6-4 8-3z"/><path fill="#a2d9a4" d="M915 132l6 0 6 2 7 5 15 14 6 3 8 1 4-1 5-2 3-4 7-11 3-3 5-2 6 0 4 2 5 5 6 10 3 3 4 2 5 1 6-1 6-3 4-3 12-12 8-5 7-2 8 1 3 2 0 62-168 0 0-62z"/><path fill="#f88c51" d="M973 58l11 0 10 3 9 5 8 7 3 5 2 4 0 8-3 7-5 6-6 4-8 2-9 1-9 0-7-1-6-2-6-4-6-6-4-6-1-7 0-6 2-6 4-5 6-4 8-3z"/><path fill="#89d0a4" d="M916 136l6 0 6 3 6 5 11 11 4 3 6 3 8 0 6 0 4-3 3-3 7-14 4-4 4-1 6 0 4 3 3 5 5 11 3 3 5 3 6 0 7-1 7-3 5-4 11-11 6-4 7-2 6 1 5 3 0 56-168 0 0-57 3-2z"/><path fill="#f57547" d="M973 61l11 0 9 2 8 4 7 7 4 7 1 7-3 8-5 6-6 3-6 2-9 1-8 0-6-1-6-3-6-4-4-4-3-6-2-6 1-6 2-5 3-4 5-3 6-3z"/><path fill="#6ec5a5" d="M993 138l4 1 3 3 3 5 3 10 3 5 5 2 7 2 9-1 8-2 6-5 10-12 6-4 4-1 4 0 6 2 3 3 0 50-168 0 0-50 3-3 6-2 6 1 6 4 12 12 6 5 7 2 9 1 8-2 4-3 3-4 3-10 3-5 3-3z"/><path fill="#ed6246" d="M973 64l9 0 9 2 8 3 6 6 3 6 1 6-1 6-4 6-5 3-6 2-8 2-6 0-6-1-6-2-4-3-5-4-3-5-2-4 0-6 2-5 3-4 3-3 6-3z"/><path fill="#5ab4ab" d="M991 141l5 0 3 3 2 6 2 10 3 5 6 3 9 2 11 0 7-2 6-5 9-10 6-5 5-2 3 0 3 2 3 3 3 5 0 21-7 19-155 0-6-17 0-24 2-4 2-2 5-2 6 1 5 3 10 11 6 5 9 3 10 0 9-2 6-3 3-5 3-13 3-5z"/><path fill="#e2514a" d="M973 67l8 0 7 1 7 2 6 5 4 6 1 6-2 6-3 4-5 3-5 2-11 1-5-1-6-2-8-6-2-3-2-4 0-5 1-4 3-5 3-2z"/><path fill="#47a0b3" d="M991 144l3 1 3 3 1 5-1 9 2 4 7 5 14 3 13 1 9-2 6-4 12-13 5-2 3 1 2 2 1 3 1 9-3 11-6 16-141 0-6-15-3-10 0-9 2-4 1-2 5-2 3 2 4 3 9 10 6 4 9 2 14-1 13-3 7-5 2-4 0-12 1-3z"/><path fill="#d7414e" d="M975 70l7 0 6 1 6 2 5 4 3 5 0 5-1 4-4 5-7 4-5 0-6 0-9-2-6-5-3-6 0-5 1-3 2-3 3-3z"/><path fill="#358bbc" d="M987 173l4 0 5 0 30 6 25 3 2 2 1 3-1 9-121 0-1-6 0-4 2-3 1-1 24-2z"/><path fill="#c52c4b" d="M978 73l6 0 4 1 4 2 4 3 1 3 1 5-2 4-3 3-6 3-8 0-7-3-5-4-2-5 0-3 2-3 5-4z"/><path fill="#3f77b5" d="M981 180l9-2 6 0 25 6 9 2 6 3 3 3 2 4-98 0 3-5 7-4 11-4z"/><path fill="#b11747" d="M979 79l5 0 5 3 1 2 0 3-2 3-3 1-4 0-5-1-1-2-2-3 1-3 2-2z"/><path fill="#4e63ac" d="M985 186l11-1 12 2 12 5 5 4-65 0 3-3 5-3 9-3z"/></g><path class="ct" d="M1053 196.2l1-4.5.2-4.6-.8-2.9-2.2-1.9-16.5-1.5-9-1.3-15-2.9-13.5-3.5-4.5-.6-4.5.5-15 3.8-16.5 3.1-22.5 2.3-1.5.7-1.7 2.8-.2 4.5 1.2 6M1076.7 147.6l-3-3.2-4-2.2-3.5-.6-4.5.8-3 1.5-3 2.2-12 13-6 4.6-3 1.3-4.5 1.2-4.5.5-6-.2-7.4-1.8-4.4-3-2.6-4.5-2.5-9-2.6-5.5-1.7-2-2.8-1.9-1.5-.4-3-.1-2.3.9-2.2 1.5-2.3 3-2.1 4.5-3.1 10.4-3 4-3 1.9-3 1.1-9 1.2-7.5-.7-4.4-1.4-3.1-1.6-5.4-4.4-11.1-12-6-3.8-4.5-1.1-3 .3-4.5 2.1-3 3M908.7 195l.5 1.2M1075.8 196.2l.6-1.5.3-.8M1076.7 130.7l-4.5-2-4.5-.7-4.5.3-4.5 1.4-4.5 2.5-3.4 2.5-11.6 11.2-4.5 3.7-6 3.1-6 1.1-4.5-.6-4.5-2.6-3-3.7-5.1-7.7-2.8-3-2.6-1.9-4.5-1.8-3-.3-3 .4-4.5 1.9-3.9 3.2-8.1 11.2-3 2.9-3 1.5-4.5.7-6-.9-6-2.8-4.5-3.5-12-11-4.5-3.2-4.5-2.3-4.5-1.3-4.5-.3-4.5.8-3 1.3M1076.7 114l-4.5-1.1-4.5-.3-4.5.5-6 1.9-4.5 2.4-4.5 3-16.5 13.6-4.5 2.6-3 1-4.5.3-3-.8-14.5-8.4-5-1.4-4.5-.3-4.5.6-4.5 1.6-4.6 2.5-8.9 6.1-3 1.3-3 .5-4.5-.5-6-2.5-19.5-14-9-5-4.5-1.6-4.5-.9-7.5.2M1036.2 29.6l-3 .7-3 1.6-3.4 3.8-1.3 4.5.2 3 .9 3 1.6 3 2.3 3 5.7 4.3 3 1.2 3 .6 3-.2 3-.9 3-2.2 2.7-4.3.9-4.5-.2-3-.8-3-2.6-4.5-4.5-3.9-4.5-1.9-6-.3M970.4 28.2l10.3 1.2 9 2.2 6 2.7 6 4.1 4.5 4.3 16.5 17.8 19.6 18.7 2.1 3 1.4 3 .5 4.5-.4 3-1.7 4.5-5.8 9-8.7 9-4 3.1-4.5 2.6-4.5 1.6-4.5.5-13.5-1.3-7.5.1-6 1.1-12 3.4-6 .6-7.5-1.4-9-4.4-10.6-7.4-14.8-12-6.3-6-5-6-3.1-6-1.7-7.5-.1-4.5.6-4.5 2.7-9 4.1-7.5 6.3-7.5 6.9-5.7 9-4.8 9-2.9 11-1.6M961.2 49.2l7.5-1.2 7.5-.2 7.5.6 7.5 1.5 6 2.2 6 3.2 4.5 3.1 6 5.2 4.9 5.1 4.6 6 3.2 6 1.3 4.5.2 4.5-1.2 6-3.1 6-3.7 4.5-6.2 4.8-7.5 3.1-25.5 3.6-7.5.4-7.5-1.1-7.5-2.9-7.5-4.5-6-5-6.4-7.4-2.7-4.5-1.9-4.5-1-4.5-.3-4.5 1.2-7.5 3.6-7.5 3-3.8 3-2.8 7.5-4.8 4.5-1.9 6-1.7M970.2 58l6-.6 6 .2 6 .9 4.5 1.2 4.5 1.8 4.8 2.7 4.2 3.1 4.4 4.4 2.3 3 2.4 4.5 1.4 4.5.2 4.5-.8 4.5-1.3 3-2.6 4-3 3-6 3.9-7.5 2.6-10.5 1.7-9 .1-7.5-1.4-6-2.4-6-3.8-5.1-4.7-4.2-6-2.2-6-.5-4.5.2-3 1.8-6 4-5.8 4.5-3.8 7.5-3.8 7.5-1.8M974.7 65.7l9-.1 7.5 1.7 7.5 4 5 4.9 1.9 3 1.2 3 .5 3-.1 3-.8 3-1.5 3-4.3 4.5-4.9 2.9-6 1.9-6 .8-6-.3-6-1.3-4.5-2-4.5-3-3.4-3.5-2.7-4.5-1.2-4.5.1-4.5 1.7-4.5 2.5-3.5 4.5-3.5 4.5-2.1 6-1.4M979.2 74.5l4.5.2 4.5 1.3 3.1 1.7 2.9 3 1.4 3 .1 3.1-1.5 3.6-3 2.8-3 1.5-3 .8-6 0-6-2.2-3.9-3.6-1.8-4.5.3-3 .9-2 2.2-2.5 2.2-1.5 6.1-1.7"/></g><g class="hd"><circle cx="992.5" cy="112" r="59.2"/><path d="M980.1 54.11L992.5 43.92L1004.9 54.11"/><path d="M1051.34 101.64 1052.88 98.65 1053.83 98.54 1055.24 99.04 1056.66 101.64 1056.44 109.95 1057.26 121.89 1055.49 127.08 1052.88 128.04 1050.4 125.53"/><path d="M933.66 101.64 932.12 98.65 931.17 98.54 929.76 99.04 928.34 101.64 928.56 109.95 927.74 121.89 929.51 127.08 932.12 128.04 934.6 125.53"/></g><g class="sn"><circle cx="971.7" cy="52.3" r="3.5"/><circle cx="1013.3" cy="52.3" r="3.5"/><circle cx="936.3" cy="78" r="3.5"/><circle cx="1048.7" cy="78" r="3.5"/><circle cx="964.7" cy="82.4" r="3.5"/><circle cx="992.7" cy="84" r="3.5"/><circle cx="1020.3" cy="82.4" r="3.5"/><circle cx="912.9" cy="97.9" r="3.5"/><circle cx="1072.1" cy="97.9" r="3.5"/><circle cx="945" cy="100" r="3.5"/><circle cx="977.4" cy="100.4" r="3.5"/><circle cx="1007.6" cy="100.4" r="3.5"/><circle cx="1040" cy="100" r="3.5"/><circle cx="962" cy="117" r="3.5"/><circle cx="992.5" cy="115.5" r="3.5"/><circle cx="1023" cy="117" r="3.5"/><circle cx="929.2" cy="123.6" r="3.5"/><circle cx="1055.8" cy="123.6" r="3.5"/><circle cx="978.9" cy="129.3" r="3.5"/><circle cx="1006.1" cy="129.3" r="3.5"/><circle cx="950.9" cy="135.6" r="3.5"/><circle cx="1034.1" cy="135.6" r="3.5"/><circle cx="992.5" cy="141.4" r="3.5"/><circle cx="969.9" cy="144.6" r="3.5"/><circle cx="1015.1" cy="144.6" r="3.5"/><circle cx="925.2" cy="148.8" r="3.5"/><circle cx="1059.8" cy="148.8" r="3.5"/><circle cx="949.5" cy="155.2" r="3.5"/><circle cx="1035.5" cy="155.2" r="3.5"/><circle cx="977.7" cy="167.1" r="3.5"/><circle cx="992.5" cy="167.1" r="3.5"/><circle cx="1007.3" cy="167.1" r="3.5"/></g><clipPath id="c6"><circle cx="1217.5" cy="112" r="80.8"/></clipPath><g clip-path="url(#c6)"><g filter="url(#bl)"><rect x="1133.7" y="28.2" width="167.6" height="167.6" fill="#fffebe"/><path fill="#fff3ac" d="M1135 28l167 0 0 168-168 0 0-168zM1243 48l-6 3-6 5-6 7-5 9-5 9-4 12-2 9 0 9 2 9 3 7 4 8 6 7 7 6 6 4 6 2 8 0 7-1 6-4 6-5 6-8 4-9 2-9 1-10 0-11-1-12-3-10-5-11-5-7-6-6-6-3-8-1z"/><path fill="#f6fbb0" d="M1249 52l6 1 6 3 5 3 5 7 4 7 3 9 2 9 1 9 0 9-2 9-2 8-4 8-4 6-5 4-6 3-6 2-6-1-6-2-6-5-4-5-4-6-3-7-2-8-1-10 0-9 2-9 2-9 4-9 6-8 4-4 5-3z"/><path fill="#fee999" d="M1135 28l167 0 0 168-168 0 0-168zM1247 40l-8 2-8 4-21 18-15 11-7 6-6 6-4 7-2 8-2 9 1 10 4 10 5 8 8 8 8 5 10 4 20 5 12 2 9-1 9-3 7-5 6-6 6-9 4-9 2-10 2-12-1-14-1-12-4-12-5-10-7-9-6-6-8-4z"/><path fill="#edf8a3" d="M1246 58l5-1 6 1 6 3 4 5 5 7 3 8 2 7 1 9 1 9-1 8-2 7-3 8-4 6-5 5-4 3-6 1-5 0-6-2-4-3-4-4-4-6-3-6-2-8-1-7 0-9 0-8 5-15 3-6 4-6 5-4z"/><path fill="#fedc88" d="M1135 28l167 0 0 168-168 0 0-168zM1237 34l-45 18-13 8-8 7-7 9-6 11-4 10-1 12 1 14 3 12 5 11 8 10 10 9 11 6 12 4 13 2 15 0 14-2 12-4 10-7 9-8 7-11 4-10 2-20 0-25-2-15-5-14-4-7-6-8-5-5-6-4-6-3-6-1-6 0z"/><path fill="#e1f399" d="M1251 61l4 0 5 2 4 4 5 6 5 12 2 8 1 9-2 15-5 12-4 5-4 4-5 2-5 1-4-1-5-2-4-3-3-5-4-6-2-6-2-15 1-15 5-13 3-5 5-5 4-3z"/><path fill="#feca79" d="M1135 28l86 0-23 5-13 5-12 7-12 10-11 12-7 14-5 15-1 15 1 16 5 15 7 15 10 12 13 10 13 7 15 5 17 2 10-1 11-1 10-4 9-3 9-6 8-6 6-7 6-8 3-9 1-15 1-48-1-16-4-12-8-12-9-10-10-7 42 0 0 168-168 0 0-168z"/><path fill="#cdeb9d" d="M1248 66l4-1 5 1 4 2 4 4 6 10 2 8 2 7-1 15-4 12-3 5-4 5-5 2-4 1-5 0-4-2-7-6-5-11-2-12 0-13 3-12 6-10 3-3z"/><path fill="#fdb96a" d="M1135 28l40 0-13 8-12 10-9 11-7 12 0-41zM1273 28l29 0 0 168-42 0 15-9 11-10 6-9 2-9-1-44 2-45 0-10-2-8-5-7-7-9zM1134 156l8 12 10 11 11 10 12 7-41 0z"/><path fill="#b8e2a1" d="M1249 69l3-1 5 1 4 2 3 4 4 4 2 6 3 14-1 12-3 12-6 7-5 3-4 1-5 0-3-1-3-3-4-4-4-9-2-12 0-12 4-12 5-8 4-3z"/><path fill="#fca55d" d="M1135 28l18 0-10 9-9 10 0-19zM1287 28l15 0 0 168-20 0 8-7 6-7 3-7 2-7-5-32-1-22 1-24 5-29 0-7-1-6-3-6-4-6-8-8zM1134 177l9 10 10 9-19 0z"/><path fill="#a2d9a4" d="M1251 71l4 0 3 2 6 5 5 10 3 12-1 12-4 9-3 5-3 3-3 2-4 1-5-1-3-1-5-6-4-9-2-10 0-12 4-11 5-7z"/><path fill="#f88c51" d="M1135 28l2 0-3 3 0-3zM1299 28l3 0 0 4zM1302 75l0 74-2-5-2-9-2-21 2-23 1-9zM1302 192l0 4-4 0zM1134 193l3 3-3 0 0-3z"/><path fill="#89d0a4" d="M1251 74l4 0 3 2 6 5 4 9 2 10-1 11-3 9-3 4-3 3-6 2-6-1-6-5-3-8-3-10 1-11 3-9 5-7z"/><path fill="#f57547" d="M1302 84l0 57-3-11-1-18 1-17z"/><path fill="#6ec5a5" d="M1251 77l3 0 3 1 3 2 3 3 4 8 1 9 0 9-3 9-5 6-6 2-6-1-5-5-3-6-2-9 1-9 2-9 4-6z"/><path fill="#ed6246" d="M1302 91l0 43-2-10-1-12 1-12z"/><path fill="#5ab4ab" d="M1251 80l3 0 3 1 4 3 4 7 2 9-1 9-2 8-4 4-3 2-3 1-5-1-4-4-4-7-1-7 0-8 2-7 4-7z"/><path fill="#e2514a" d="M1302 99l0 27-2-14z"/><path fill="#47a0b3" d="M1251 83l4 0 5 3 4 7 1 7 0 8-2 6-5 6-4 1-5-1-3-3-3-5-1-7 0-8 2-6 2-4z"/><path fill="#358bbc" d="M1251 86l4 0 4 2 3 5 2 7-1 8-2 5-3 4-4 2-3-1-4-3-2-4-1-6 0-6 1-5 3-5z"/><path fill="#3f77b5" d="M1251 90l3-1 3 1 3 3 1 6 1 6-1 4-3 4-3 2-3 0-3-2-2-2-1-5-1-4 1-5 2-4z"/><path fill="#4e63ac" d="M1252 95l2 0 2 1 2 4 0 5-1 3-2 2-1 0-3-2-2-5 0-4z"/></g><path class="ct" d="M1253.7 95.7l-1.5.5-1.5 1.7-.9 3.8.9 4.9 1.5 1.7 1.5.5 1.5-.5 1.5-1.7.9-4.9-.9-3.7-1.5-1.7-1.5-.6M1252.2 83.6l-3 1.2-1.5 1.2-3 4.3-1.9 5.4-.6 7.5 1.3 7.5 2.7 5.4 3 3 1.5.8 3 .6 3-.7 1.5-.9 3.3-3.7 2.5-6 .9-7.5-1.2-7.5-2.5-5.6-1.5-1.9-3-2.4-1.5-.6-3-.1M1250.7 75.8l-3 1.3-2.6 2.1-1.9 2.1-2.3 3.9-1.8 4.5-1.1 4.5-.6 4.5 0 6 1.6 9 1.9 4.5 1.8 3 2 2.5 3 2.4 3 1.3 3 .4 3-.6 3-1.5 3-2.8 2.3-3.2 2.1-4.5 1.3-4.5.7-4.5.1-6-.7-6-1.2-4.5-1.9-4.5-2.7-4.2-3-3-3-1.7-3-.7-3 .2M1252.2 67.1l-4.5.9-3 1.7-3.8 3.5-3.1 4.5-2.8 6-1.8 6-1 6-.3 7.5.5 6 1.3 6 2.1 6 2.9 5.2 3.1 3.8 4.4 3.3 3 1.3 4.5.5 4.5-1.1 3-1.6 3-2.6 3.4-4.3 2.4-4.5 2-6 1.2-6 .5-7.5-.6-7.5-1.3-6-2.1-6-2.5-4.8-3.1-4.2-4.4-3.8-3-1.5-4.5-.8M1249.2 56.6l-3 .7-3 1.3-4.5 3.3-4.5 5.2-3.7 6.1-3 7.5-2 7.5-1.1 7.5-.3 9 .8 7.5 2.2 9 2.4 6 3.4 6 4.3 5 4.5 3.5 6 2.5 4.5.5 6-1.2 4.5-2.3 4.5-3.9 4.5-6.1 3.4-7 2.2-7.5 1.3-7.5.3-9-.7-7.5-1.9-9-2.7-7.5-4-7.5-4.9-6-5-3.9-4.5-1.9-6-.3M1243.2 41.4l-7.5 2.9-7.3 4.9-18.2 16.6-15.4 11.9-6.4 6-4.7 6-3.8 7.5-2.1 7.5-.7 9 1.4 9 3.7 9 5.5 7.7 7.5 6.5 4.5 2.8 6 2.8 17 5.7 13 3.5 6 .9 4.5 0 4.5-.4 4.5-1.1 7.5-3.4 7.5-6.1 5.6-6.9 4.8-9 3.5-10.5 1.9-12 .3-12-1-12-2.7-12-4.2-10.5-6.3-10.5-6.4-7.1-3-2.4-4.5-2.6-3-1.2-4.5-.9-7.5.4M1183.7 28.2l-9.5 4.5-7.4 4.5-7.6 5.8-6 5.6-6 6.7-5.4 7.4-4.4 7.5-3.7 8.1M1133.7 145.7l3.9 8.5 5.1 8.4 6 7.9 5.8 6.2 6.8 6 6.9 5 7.5 4.4 9.1 4.1M1251.4 196.2l8.3-3.7 7.5-4.3 7.5-5.4 6-5.3 6-6.7 3-4.5 1.9-4.6 1.2-6 .5-9-.2-37.5 1.2-34.5-.7-12-2.4-8-4.9-8.5-8.5-10.5-8.3-7.5M1301.7 144.8l-1.5-3.7-1.8-7.9-1-9-.5-10.5.3-10.5 1.1-10.5 1.9-8.9 1.5-3.9"/></g><g class="hd"><circle cx="1217.5" cy="112" r="59.2"/><path d="M1205.1 54.11L1217.5 43.92L1229.9 54.11"/><path d="M1276.34 101.64 1277.88 98.65 1278.83 98.54 1280.24 99.04 1281.66 101.64 1281.44 109.95 1282.26 121.89 1280.49 127.08 1277.88 128.04 1275.4 125.53"/><path d="M1158.66 101.64 1157.12 98.65 1156.17 98.54 1154.76 99.04 1153.34 101.64 1153.56 109.95 1152.74 121.89 1154.51 127.08 1157.12 128.04 1159.6 125.53"/></g><g class="sn"><circle cx="1196.7" cy="52.3" r="3.5"/><circle cx="1238.3" cy="52.3" r="3.5"/><circle cx="1161.3" cy="78" r="3.5"/><circle cx="1273.7" cy="78" r="3.5"/><circle cx="1189.7" cy="82.4" r="3.5"/><circle cx="1217.7" cy="84" r="3.5"/><circle cx="1245.3" cy="82.4" r="3.5"/><circle cx="1137.9" cy="97.9" r="3.5"/><circle cx="1297.1" cy="97.9" r="3.5"/><circle cx="1170" cy="100" r="3.5"/><circle cx="1202.4" cy="100.4" r="3.5"/><circle cx="1232.6" cy="100.4" r="3.5"/><circle cx="1265" cy="100" r="3.5"/><circle cx="1187" cy="117" r="3.5"/><circle cx="1217.5" cy="115.5" r="3.5"/><circle cx="1248" cy="117" r="3.5"/><circle cx="1154.2" cy="123.6" r="3.5"/><circle cx="1280.8" cy="123.6" r="3.5"/><circle cx="1203.9" cy="129.3" r="3.5"/><circle cx="1231.1" cy="129.3" r="3.5"/><circle cx="1175.9" cy="135.6" r="3.5"/><circle cx="1259.1" cy="135.6" r="3.5"/><circle cx="1217.5" cy="141.4" r="3.5"/><circle cx="1194.9" cy="144.6" r="3.5"/><circle cx="1240.1" cy="144.6" r="3.5"/><circle cx="1150.2" cy="148.8" r="3.5"/><circle cx="1284.8" cy="148.8" r="3.5"/><circle cx="1174.5" cy="155.2" r="3.5"/><circle cx="1260.5" cy="155.2" r="3.5"/><circle cx="1202.7" cy="167.1" r="3.5"/><circle cx="1217.5" cy="167.1" r="3.5"/><circle cx="1232.3" cy="167.1" r="3.5"/></g><clipPath id="c7"><circle cx="1442.5" cy="112" r="80.8"/></clipPath><g clip-path="url(#c7)"><g filter="url(#bl)"><rect x="1358.7" y="28.2" width="167.6" height="167.6" fill="#fffebe"/><path fill="#fff3ac" d="M1396 56l5-1 6 1 6 2 4 3 5 4 4 5 6 12 3 14 0 13-2 14-6 18-1 3 2 2 6 2 28 1 24 3 24 6 17 7 0 31-168 0 0-31 21-4 9-3 7-4 2-3 2-4 1-6 0-6-1-8-2-6-3-6-5-8-14-16-2-6 0-4 2-5 5-9 8-7z"/><path fill="#f6fbb0" d="M1366 100l5-1 4 1 8 3 7 8 6 10 1 9-2 8-5 6-7 4-6 1-6 0-6-2-6-2 0-42zM1507 119l5 0 3 3 0 4-3 3-5 0-3-3 0-4z"/><path fill="#fee999" d="M1398 79l6-1 6 2 5 7 4 7 1 11-1 9-4 7-2 3-3 2-3 0-2-1-3-4-10-16-4-8 0-4 2-6 3-5z"/><path fill="#edf8a3" d="M1372 103l8 2 6 4 5 6 3 9 0 8-3 6-5 4-8 3-6 0-4-1-5-1-4-3 0-32 7-4z"/><path fill="#fedc88" d="M1402 88l3 1 4 2 2 4 2 5 0 6-1 5-2 3-3 2-3-1-3-3-4-6-3-6 0-4 2-4 3-3z"/><path fill="#e1f399" d="M1369 106l8 0 6 2 5 6 3 6 2 7-2 6-4 5-6 4-6 1-6-1-6-2-4-4 0-24 4-4z"/><path fill="#cdeb9d" d="M1372 108l6 0 6 4 4 5 3 6 0 6-3 6-5 4-6 2-6-1-5-1-4-3-3-3 0-18 6-5z"/><path fill="#b8e2a1" d="M1368 110l4-1 6 1 5 2 4 5 2 6 0 6-2 4-4 4-6 2-8-1-6-3-4-5 0-2 0-8 0-2 4-4z"/><path fill="#a2d9a4" d="M1368 112l4-1 6 0 5 3 3 3 2 6 0 4-2 5-3 3-6 2-6 0-5-2-4-4-2-5 1-6 2-5z"/><path fill="#89d0a4" d="M1369 113l5-1 4 1 4 2 3 3 1 5 0 4-2 4-3 3-4 2-6-1-5-2-3-3-1-4 0-6 3-4z"/><path fill="#6ec5a5" d="M1374 114l4 0 4 3 2 3 1 4 0 3-2 4-3 2-5 1-4 0-4-2-3-3-1-5 1-4 2-3 3-2z"/><path fill="#5ab4ab" d="M1374 115l4 1 3 2 2 3 1 3-1 3-2 3-3 2-3 1-4-1-3-1-3-4 0-3 0-3 2-3 2-2z"/><path fill="#47a0b3" d="M1374 117l3 0 3 2 1 2 1 3-2 5-2 2-3 0-3 0-3-1-2-3-1-3 2-4 3-3z"/><path fill="#358bbc" d="M1371 119l4 0 3 1 1 1 1 5-2 2-4 2-3-1-2-2-1-4z"/><path fill="#3f77b5" d="M1374 121l3 1 1 2-1 2-2 1-3 0-1-3 1-3z"/></g><path class="ct" d="M1373.7 122.8l-.7 1.4.7.9 1.5-.2.4-.7-.4-.9-1.5-.5M1370.7 119.4l-1.5 1.5-.9 1.8.1 3 .8 1.5 1.6 1.5 2.9 1 3-.4 1.5-.9 1.8-2.7 0-3-.6-1.5-1.4-1.5-2.8-1.2-3 .2-1.5.7M1370.7 116.7l-3 2-1.6 2.5-.5 3 .7 3 2.4 3 2.9 1.5 3.6.4 3-.8 1.7-1.1 2.3-3 .6-3-.7-3-2.2-3-2.5-1.5-3.7-.7-3 .7M1369.2 115l-3 2.1-2.5 4.1-.3 4.5 1.1 3 2.6 3 3.6 2 4.5.5 4.5-1.3 3-2.4 1.8-3.3.2-4.5-1.1-3-2.4-3.1-4.5-2.3-4.5-.2-3 .9M1372.2 112l-4.5 1.4-4 3.3-2.3 4.5-.2 4.5 1.7 4.5 3.3 3.5 4.5 2.1 3 .5 3-.2 4.5-1.7 3.2-2.7 2.2-4.5.1-4.5-1.7-4.5-3.8-4-4.5-2-4.5-.2M1369.2 110.5l-3 1.3-2.7 1.9-3.4 4.5-1.1 3-.3 3 .4 3 1.1 2.8 1.5 2.4 2.2 2.3 5.3 2.9 6 .8 3-.5 3-1 4.5-3.4 2.1-3.3 1-4.5-.1-3-.9-3-1.6-3-2-2.4-4.5-3.2-4.5-1.2-3 0-3 .6M1358.7 132.5l1.7 2.2 2.8 2.5 4.5 2.4 4.5 1 6-.2 4.5-1.6 4.5-3.5 1.6-2.1 1.4-2.9.8-4.6-1.1-6-2.4-4.5-4.4-4.5-4.9-2.5-4.5-.7-6 1-4.5 2.3-4.5 4.7M1358.7 137.4l4.5 3.4 4.5 1.9 6 .9 6-.6 4.5-1.7 4.7-3.6 3.1-4.5 1.3-6-.7-6-2.6-6-4.3-5.2-4.5-3.3-6-1.9-6 .2-6 2.2-4.5 3.4M1358.7 143.3l6 3.1 6 1.4 7.5 0 6-1.7 4.5-2.5 4.4-4.4 2.3-4.5 1-6-.7-6-3.1-7.5-4.2-6-5.7-5.2-6-2.9-6-.7-6 1.2-6 3M1369.1 196.2l-.7-3 .4-4.5 1.3-3 2-3 6.1-5.4 9-5.1 10.5-4.1 12-3.1 16.5-2 16.5-.7 16.5.8 15 2.1 13.5 3.3 10.5 3.9 5.4 2.8 4.5 3 3.4 3 2.5 3 1.6 3 .9 3 .1 3-.7 3M1397.7 65.2l6-.6 4.5.9 4.5 2.2 4.5 3.6 4 4.9 3.2 6 2.2 6 1.6 7.5.6 7.5-.4 7.5-1.3 7.5-2 6-2.9 6-4.4 6-3.6 3.2-4.5 1.9-3-.7-1.5-1.4-1.5-3.1-3.7-11.9-3.4-7.5-4.9-8.1-9.6-12.9-1.6-3-.8-3-.1-3 1.2-4.5 4.1-7.5 5.3-5.6 4.5-2.8 3-1.1M1399.2 84.8l4.5-.5 4.5 1.8 2.2 2.1 2.2 3 2.3 6 .8 7.5-.9 6-1.1 3-1.7 3-2.3 2.1-1.5.7-3-.4-1.5-.9-3-3.1-5.9-8.9-2.6-6-.5-4.5 1.1-4.5 3.4-4.5 3-1.9"/></g><g class="hd"><circle cx="1442.5" cy="112" r="59.2"/><path d="M1430.1 54.11L1442.5 43.92L1454.9 54.11"/><path d="M1501.34 101.64 1502.88 98.65 1503.83 98.54 1505.24 99.04 1506.66 101.64 1506.44 109.95 1507.26 121.89 1505.49 127.08 1502.88 128.04 1500.4 125.53"/><path d="M1383.66 101.64 1382.12 98.65 1381.17 98.54 1379.76 99.04 1378.34 101.64 1378.56 109.95 1377.74 121.89 1379.51 127.08 1382.12 128.04 1384.6 125.53"/></g><g class="sn"><circle cx="1421.7" cy="52.3" r="3.5"/><circle cx="1463.3" cy="52.3" r="3.5"/><circle cx="1386.3" cy="78" r="3.5"/><circle cx="1498.7" cy="78" r="3.5"/><circle cx="1414.7" cy="82.4" r="3.5"/><circle cx="1442.7" cy="84" r="3.5"/><circle cx="1470.3" cy="82.4" r="3.5"/><circle cx="1362.9" cy="97.9" r="3.5"/><circle cx="1522.1" cy="97.9" r="3.5"/><circle cx="1395" cy="100" r="3.5"/><circle cx="1427.4" cy="100.4" r="3.5"/><circle cx="1457.6" cy="100.4" r="3.5"/><circle cx="1490" cy="100" r="3.5"/><circle cx="1412" cy="117" r="3.5"/><circle cx="1442.5" cy="115.5" r="3.5"/><circle cx="1473" cy="117" r="3.5"/><circle cx="1379.2" cy="123.6" r="3.5"/><circle cx="1505.8" cy="123.6" r="3.5"/><circle cx="1428.9" cy="129.3" r="3.5"/><circle cx="1456.1" cy="129.3" r="3.5"/><circle cx="1400.9" cy="135.6" r="3.5"/><circle cx="1484.1" cy="135.6" r="3.5"/><circle cx="1442.5" cy="141.4" r="3.5"/><circle cx="1419.9" cy="144.6" r="3.5"/><circle cx="1465.1" cy="144.6" r="3.5"/><circle cx="1375.2" cy="148.8" r="3.5"/><circle cx="1509.8" cy="148.8" r="3.5"/><circle cx="1399.5" cy="155.2" r="3.5"/><circle cx="1485.5" cy="155.2" r="3.5"/><circle cx="1427.7" cy="167.1" r="3.5"/><circle cx="1442.5" cy="167.1" r="3.5"/><circle cx="1457.3" cy="167.1" r="3.5"/></g><clipPath id="c8"><circle cx="1667.5" cy="112" r="80.8"/></clipPath><g clip-path="url(#c8)"><g filter="url(#bl)"><rect x="1583.7" y="28.2" width="167.6" height="167.6" fill="#fffebe"/><path fill="#fff3ac" d="M1675 28l77 0 0 77-14 0-15-5-22-11-13-10-8-10-5-14-2-13z"/><path fill="#f6fbb0" d="M1585 28l76 0-1 15 2 15 5 14 7 9 10 7 27 12 24 13 9 3 8 1 0 79-168 0 0-168z"/><path fill="#fee999" d="M1683 28l69 0 0 71-14 0-15-4-18-9-11-10-8-10-4-12-1-14 0-7z"/><path fill="#edf8a3" d="M1686 105l7-1 9 1 9 4 7 6 5 6 1 6-1 6-4 6-8 4-4 1-6 1-9-2-5-3-4-3-6-8-1-5 0-6 0-4 3-5 3-3z"/><path fill="#fedc88" d="M1687 30l1-2 64 0 0 66-14 0-13-3-14-6-12-10-7-9-5-12-1-12z"/><path fill="#feca79" d="M1692 29l0-1 60 0 0 62-14 1-12-3-13-6-11-9-6-9-5-12-1-12z"/><path fill="#fdb96a" d="M1696 28l56 0 0 59-14 0-12-2-12-6-9-8-7-10-4-10-1-12 2-8 1-3z"/><path fill="#fca55d" d="M1699 28l53 0 0 56-12 1-11-2-12-6-9-7-7-9-4-10 0-12z"/><path fill="#f88c51" d="M1702 28l50 0 0 53-12 1-11-2-10-5-9-7-6-8-4-11 0-10z"/><path fill="#f57547" d="M1705 28l47 0 0 51-12 1-11-3-10-5-8-6-6-9-2-9-1-11z"/><path fill="#ed6246" d="M1708 28l44 0 0 48-11 1-10-2-9-4-9-7-6-9-2-9 0-10 2-6z"/><path fill="#e2514a" d="M1710 30l0-2 42 0 0 46-11 1-9-2-9-3-7-7-5-6-3-9-1-9z"/><path fill="#d7414e" d="M1713 29l0-1 39 0 0 44-11 1-9-2-8-4-7-5-5-8-2-8 0-9z"/><path fill="#c52c4b" d="M1716 28l36 0 0 41-9 1-9-1-8-3-7-6-5-7-2-8 1-9z"/><path fill="#b11747" d="M1719 29l1-1 32 0 0 38-8 1-9-1-6-2-7-6-5-6-2-7 1-8z"/></g><path class="ct" d="M1697.7 114.9l-3 1.3-1.5 2-.4 3 1.1 3 2.3 2.4 3 1.4 3 .3 3-.9 1.9-1.7.8-1.5.3-1.5-.8-3-1-1.5-2.7-2.1-3-1.1-3-.1M1751.7 121.8l-6-1.4-4.5-1.7-27.4-15.5-13.1-6-22.5-8.5-6-3.4-3.9-3.1-4-4.5-2.8-4.5-2.7-6-2.4-7.5-1.4-7.5-.6-7.5.2-9 1-7.5M1751.7 104l-7.5 0-7.5-1.1-7.5-2.1-7.5-2.8-10.5-4.9-10.5-5.8-6-4-6-5.3-4-4.8-3.7-6-2.6-6-1.8-6-1.1-6-.4-7.5.5-7.5 1.1-6M1751.7 96l-7.5.4-6-.4-6-1.1-7.5-2.3-7.5-3.1-7.5-4-7-4.8-5.1-4.5-4-4.5-3.9-6-2.8-6-1.8-6-1.2-7.5-.2-6 .6-6 1.3-6M1751.7 90.4l-6 .5-7.5-.3-6-1-6-1.7-7.5-3.1-6-3.3-5.4-3.8-5-4.5-3.8-4.5-2.9-4.5-2.8-6-1.9-6-.9-6-.2-6 .6-6 1.5-6M1751.7 85.8l-6 .7-6-.1-6-.8-6-1.6-6-2.4-6-3.2-5.2-3.7-4.8-4.5-3.6-4.5-2.7-4.5-2.1-4.5-1.7-6-.9-6 .1-6 .9-6 1.3-4.5M1751.7 81.8l-6 .8-6-.1-6-.8-4.5-1.2-6-2.3-4.5-2.4-4.5-3.1-4.5-4.1-3.7-4.4-2.8-4.5-2-4.5-1.7-6-.7-6 .2-4.5 1-6 1.4-4.5M1751.7 78.2l-4.5.7-6 .2-6-.6-4.5-1.1-6-2.3-4.5-2.5-4.5-3.3-3.8-3.6-3.5-4.5-2.5-4.5-1.7-4.5-1.1-4.5-.5-4.5.4-6 .9-4.5 1.6-4.5M1751.7 74.8l-4.5.8-6 .2-9-1.4-4.5-1.6-4.5-2.2-4.5-3.1-3.6-3.3-2.5-3-2.8-4.5-1.9-4.5-1.2-4.5-.5-4.5.3-6 1-4.5 1.8-4.5M1751.7 71.5l-4.5.9-6 .3-9-1.5-4.5-1.8-4-2.2-6.5-5.6-2.7-3.4-2.5-4.5-2.2-7.5-.3-4.5.4-4.5 1.2-4.5 1.9-4.5M1751.7 68.1l-7.5 1.3-4.5-.1-4.5-.7-7.6-2.9-4.4-2.9-3.2-3.1-4.3-6.3-1.6-4.2-.9-4.5-.1-4.5.7-4.5 1.6-4.5 1.6-3"/></g><g class="hd"><circle cx="1667.5" cy="112" r="59.2"/><path d="M1655.1 54.11L1667.5 43.92L1679.9 54.11"/><path d="M1726.34 101.64 1727.88 98.65 1728.83 98.54 1730.24 99.04 1731.66 101.64 1731.44 109.95 1732.26 121.89 1730.49 127.08 1727.88 128.04 1725.4 125.53"/><path d="M1608.66 101.64 1607.12 98.65 1606.17 98.54 1604.76 99.04 1603.34 101.64 1603.56 109.95 1602.74 121.89 1604.51 127.08 1607.12 128.04 1609.6 125.53"/></g><g class="sn"><circle cx="1646.7" cy="52.3" r="3.5"/><circle cx="1688.3" cy="52.3" r="3.5"/><circle cx="1611.3" cy="78" r="3.5"/><circle cx="1723.7" cy="78" r="3.5"/><circle cx="1639.7" cy="82.4" r="3.5"/><circle cx="1667.7" cy="84" r="3.5"/><circle cx="1695.3" cy="82.4" r="3.5"/><circle cx="1587.9" cy="97.9" r="3.5"/><circle cx="1747.1" cy="97.9" r="3.5"/><circle cx="1620" cy="100" r="3.5"/><circle cx="1652.4" cy="100.4" r="3.5"/><circle cx="1682.6" cy="100.4" r="3.5"/><circle cx="1715" cy="100" r="3.5"/><circle cx="1637" cy="117" r="3.5"/><circle cx="1667.5" cy="115.5" r="3.5"/><circle cx="1698" cy="117" r="3.5"/><circle cx="1604.2" cy="123.6" r="3.5"/><circle cx="1730.8" cy="123.6" r="3.5"/><circle cx="1653.9" cy="129.3" r="3.5"/><circle cx="1681.1" cy="129.3" r="3.5"/><circle cx="1625.9" cy="135.6" r="3.5"/><circle cx="1709.1" cy="135.6" r="3.5"/><circle cx="1667.5" cy="141.4" r="3.5"/><circle cx="1644.9" cy="144.6" r="3.5"/><circle cx="1690.1" cy="144.6" r="3.5"/><circle cx="1600.2" cy="148.8" r="3.5"/><circle cx="1734.8" cy="148.8" r="3.5"/><circle cx="1624.5" cy="155.2" r="3.5"/><circle cx="1710.5" cy="155.2" r="3.5"/><circle cx="1652.7" cy="167.1" r="3.5"/><circle cx="1667.5" cy="167.1" r="3.5"/><circle cx="1682.3" cy="167.1" r="3.5"/></g><clipPath id="c9"><circle cx="1892.5" cy="112" r="80.8"/></clipPath><g clip-path="url(#c9)"><g filter="url(#bl)"><rect x="1808.7" y="28.2" width="167.6" height="167.6" fill="#fffebe"/><path fill="#fff3ac" d="M1810 28l167 0 0 111-5-5-6-3-37-17-8-1-9-1-7 0-6 1-8 4-7 5-8 8-7 9-10 15-10 17-7 13-5 12-28 0 0-168z"/><path fill="#f6fbb0" d="M1905 126l9 0 10 2 21 8 17 4 4 3 3 2 3 5 1 4-2 20 2 22-128 0 4-12 6-13 8-14 9-12 7-8 9-6 8-4z"/><path fill="#fee999" d="M1951 37l8-1 6 1 6 3 6 5 0 34-6 5-6 3-5 0-6 0-9-3-7-6-3-5-2-4-1-5 0-6 3-9 3-4 4-4zM1831 40l9 1 9 4 8 5 7 8 7 11 4 10 2 11 0 10-3 12-6 14-11 20-14 21-9 12-7 7-8 5-6 1-4-2 0-140 10-7 6-2z"/><path fill="#edf8a3" d="M1899 134l10-1 12 2 8 3 15 7 13 3 5 3 2 5-1 16 3 24-115 0 2-10 5-11 5-10 6-9 7-8 8-7 7-4z"/><path fill="#fedc88" d="M1954 53l5 0 3 1 2 1 2 3 1 3-1 4-1 3-3 2-3 1-5 0-3-2-2-3-1-5 1-3 2-3zM1830 72l6 0 6 2 6 4 4 5 4 7 3 7 2 8 0 7-2 9-3 9-4 9-6 10-6 8-6 5-6 3-4 1-5-1-3-2-4-4-3-5 0-65 4-7 5-5 6-4z"/><path fill="#e1f399" d="M1899 140l12-1 12 3 12 5 16 10 2 3 2 5 5 21 1 10-106 0 2-9 4-10 5-9 6-9 6-7 6-5 7-4z"/><path fill="#feca79" d="M1830 94l3-1 3 1 6 5 5 7 1 11-2 10-4 10-6 7-3 1-5 1-3-1-3-2-4-5-3-9 0-9 1-9 3-8 5-6z"/><path fill="#cdeb9d" d="M1900 145l11-1 10 2 11 5 10 8 5 6 4 7 4 12 2 12-98 0 2-9 3-9 5-9 5-7 7-7 6-5 6-3z"/><path fill="#b8e2a1" d="M1899 150l9-2 10 2 9 3 9 7 7 6 4 8 4 10 2 12-90 0 4-15 3-7 5-8 6-6 6-5 6-3z"/><path fill="#a2d9a4" d="M1903 153l8-1 9 2 7 4 8 5 5 6 4 8 4 9 2 10-84 0 2-9 3-7 4-8 4-6 5-4 6-5 6-2z"/><path fill="#89d0a4" d="M1899 157l7-1 9 1 8 2 7 5 7 7 5 7 3 9 2 9-78 0 3-13 7-12 9-9z"/><path fill="#6ec5a5" d="M1902 160l7-1 8 2 6 2 6 5 6 5 4 7 3 7 2 9-72 0 3-13 7-11 9-8z"/><path fill="#5ab4ab" d="M1902 163l6 0 7 1 6 2 6 4 5 5 4 6 3 8 2 7-67 0 4-12 6-9 4-5 5-3z"/><path fill="#47a0b3" d="M1903 166l6 0 6 1 6 2 5 4 4 4 4 6 2 6 2 7-61 0 3-10 6-9 8-8z"/><path fill="#358bbc" d="M1905 169l6 0 4 1 5 2 4 3 5 5 2 4 3 6 1 6-55 0 3-10 5-8 8-6z"/><path fill="#3f77b5" d="M1906 172l9 2 8 4 6 8 4 10-50 0 3-9 5-8 8-5z"/><path fill="#4e63ac" d="M1902 178l7-1 6 1 3 2 6 6 3 5 2 5-42 0 2-6 3-6 5-4z"/></g><path class="ct" d="M1926.8 196.2l-2.6-6.9-4.5-5.7-3-2.3-3-1.4-6-1.1-6 1-3 1.4-3 2.2-4.5 5.4-1.5 3-1.4 4.4M1933.9 196.2l-1.5-6-1.9-4.5-2.9-4.5-2.6-3-3.8-3.2-4.5-2.5-4.5-1.3-4.5-.5-4.5.4-4.5 1.4-4.5 2.5-3.9 3.2-2.6 3-2.9 4.5-1.9 4.5-1.6 6M1938.6 196.2l-1.3-6-2.3-6-3.3-5.7-4.2-4.8-4.8-3.8-4.5-2.4-4.5-1.5-6-.7-6 .7-4.5 1.5-4.5 2.4-4.7 3.8-4.3 5-3.3 5.5-2.3 6-1.4 6M1943.3 196.2l-1.5-7.5-2.2-6-3.4-6.3-4.5-5.7-4.5-4-6-3.7-6-2.1-7.5-1-6 .7-6 1.8-6 3.4-5.6 4.9-4.7 6-3.3 6-2.3 6-1.6 7.5M1948.2 196.2l-1.6-9-2.7-7.5-4.1-7.5-4.8-6-6.3-5.3-6-3.4-7.5-2.5-7.5-.8-7.5.9-6 2-6 3.3-6.8 5.8-4.9 6-4.3 7.5-2.9 7.5-1.9 9M1953.8 196.2l-1.8-10.5-2.9-9-3.7-7.5-4.7-6.3-6.4-5.7-8.6-5.2-9-3.2-9-1-9 1.2-7.5 2.8-7.5 4.8-5.5 5.1-5.9 7.5-5 9-3.3 9-1.8 9M1960.5 196.2l-1.6-10.5-4-16.5-1.9-6-2.8-4.5-3.3-3-4.6-3-15.1-8.4-9-3.1-6-.9-4.5-.2-9 1.1-9 3.4-7.5 4.8-6.8 6.3-7 9-5.9 10.5-4.1 10.5-2.3 10.5M1969.7 196.2l-2.8-22.5.2-4.5 1.5-9 .2-4.5-.9-4.5-1.8-3-2.9-2.6-3-1.5-15-3.4-19.5-8.3-7.5-2-9-.9-6 .4-4.5.8-9 3.3-9 5.9-7.5 7.2-8.9 11.6-7.1 12-5.8 13.5-3.2 12M1976.7 134l-4.5-3.6-4.5-2.7-13.6-6.5-14.9-7.9-10.5-4-9-2.1-7.5-.6-7.5.6-7.5 2.3-6 3.3-7.5 6.2-6 6.5-7.5 9.6-10.9 16.1-11 18-7.3 13.5-6 13.5M1808.7 84.5l3.8-5.3 3.7-3.9 3-2.4 4.5-2.5 4.5-1.4 4.5-.5 4.5.6 4.5 1.5 4.5 2.7 3.4 2.9 3.9 4.5 2.9 4.5 2.2 4.5 2.1 6 1.2 6 .5 6-.4 6-1.4 7.5-1.8 6-3.1 7.5-4.8 9-4.7 7.3-4.5 5.8-4.5 4.7-4.5 3.6-3 1.6-4.5 1.3-3 0-4.5-1.3-3-1.8-3-2.8-3-3.8M1957.2 50.6l4.5.8 3.5 2.3 1.4 1.5 1.6 3 .6 4.5-1.2 4.5-2.3 3-3.6 2.3-4.5.8-4.5-1.1-3-2-2.9-4.5-.6-4.5 1.3-4.5 2.2-3 3-2 4.5-1.1M1829.7 111.8l3-.7 1.5.6 1.8 2 1.4 4.5-.4 4.5-1.3 3.4-1.5 1.9-1.5 1-1.5.4-1.5-.3-1.5-1-1.5-2.4-.7-3-.1-3 .8-3.8 1.5-2.7 1.5-1.4"/></g><g class="hd"><circle cx="1892.5" cy="112" r="59.2"/><path d="M1880.1 54.11L1892.5 43.92L1904.9 54.11"/><path d="M1951.34 101.64 1952.88 98.65 1953.83 98.54 1955.24 99.04 1956.66 101.64 1956.44 109.95 1957.26 121.89 1955.49 127.08 1952.88 128.04 1950.4 125.53"/><path d="M1833.66 101.64 1832.12 98.65 1831.17 98.54 1829.76 99.04 1828.34 101.64 1828.56 109.95 1827.74 121.89 1829.51 127.08 1832.12 128.04 1834.6 125.53"/></g><g class="sn"><circle cx="1871.7" cy="52.3" r="3.5"/><circle cx="1913.3" cy="52.3" r="3.5"/><circle cx="1836.3" cy="78" r="3.5"/><circle cx="1948.7" cy="78" r="3.5"/><circle cx="1864.7" cy="82.4" r="3.5"/><circle cx="1892.7" cy="84" r="3.5"/><circle cx="1920.3" cy="82.4" r="3.5"/><circle cx="1812.9" cy="97.9" r="3.5"/><circle cx="1972.1" cy="97.9" r="3.5"/><circle cx="1845" cy="100" r="3.5"/><circle cx="1877.4" cy="100.4" r="3.5"/><circle cx="1907.6" cy="100.4" r="3.5"/><circle cx="1940" cy="100" r="3.5"/><circle cx="1862" cy="117" r="3.5"/><circle cx="1892.5" cy="115.5" r="3.5"/><circle cx="1923" cy="117" r="3.5"/><circle cx="1829.2" cy="123.6" r="3.5"/><circle cx="1955.8" cy="123.6" r="3.5"/><circle cx="1878.9" cy="129.3" r="3.5"/><circle cx="1906.1" cy="129.3" r="3.5"/><circle cx="1850.9" cy="135.6" r="3.5"/><circle cx="1934.1" cy="135.6" r="3.5"/><circle cx="1892.5" cy="141.4" r="3.5"/><circle cx="1869.9" cy="144.6" r="3.5"/><circle cx="1915.1" cy="144.6" r="3.5"/><circle cx="1825.2" cy="148.8" r="3.5"/><circle cx="1959.8" cy="148.8" r="3.5"/><circle cx="1849.5" cy="155.2" r="3.5"/><circle cx="1935.5" cy="155.2" r="3.5"/><circle cx="1877.7" cy="167.1" r="3.5"/><circle cx="1892.5" cy="167.1" r="3.5"/><circle cx="1907.3" cy="167.1" r="3.5"/></g><clipPath id="c10"><circle cx="2117.5" cy="112" r="80.8"/></clipPath><g clip-path="url(#c10)"><g filter="url(#bl)"><rect x="2033.7" y="28.2" width="167.6" height="167.6" fill="#fffebe"/><path fill="#fff3ac" d="M2134 58l6 0 6 1 6 4 5 6 3 6 2 7 2 21 0 6-1 6-3 5-3 4-9 6-6 2-6 0-6 0-6-2-6-3-5-3-3-4-3-5-2-6 0-6 0-7 2-8 3-9 4-7 4-5 4-4 6-3z"/><path fill="#f6fbb0" d="M2035 28l167 0 0 168-168 0 0-168zM2129 54l-11 1-14 4-10 5-8 5-7 6-7 9-4 9-3 9-1 10 1 11 3 10 5 9 7 8 8 6 9 5 10 3 9 1 11 0 10-3 9-5 9-6 8-8 5-8 3-9 1-8-2-9-7-30-5-11-6-8-6-4-7-2z"/><path fill="#fee999" d="M2137 61l5 0 4 1 5 2 3 3 4 8 3 10 0 15-3 9-3 4-3 3-4 2-5 1-4 0-5-1-7-5-4-4-2-4-3-11 0-12 2-6 2-4 6-7 5-3z"/><path fill="#edf8a3" d="M2035 28l167 0 0 168-168 0 0-168zM2086 43l-6 2-6 3-12 10-9 12-7 14-5 15-1 15 2 15 5 15 8 13 9 11 12 9 14 7 14 4 15 1 15-2 15-5 9-4 9-7 8-7 6-8 5-9 4-9 1-8-2-6-2-4-9-11-5-7-4-10-9-24-5-8-4-5-6-3-8-2-19-3-20-4-6-1z"/><path fill="#fedc88" d="M2136 64l7-1 5 2 3 1 5 7 3 8 0 10-3 11-2 4-3 3-6 2-8 0-6-4-5-7-3-9 0-9 2-7 5-7z"/><path fill="#e1f399" d="M2035 28l38 0-12 8-11 9-9 10-7 12 0-39zM2104 28l98 0 0 86-17-7-4-3-5-5-6-11-12-28-3-5-3-3-7-4-18-5-8-3-7-4zM2202 157l0 39-40 0 12-7 11-10 9-10zM2034 159l7 10 9 11 11 9 12 7-39 0 0-39z"/><path fill="#feca79" d="M2139 65l6 0 6 3 4 5 3 8 0 9-3 7-4 5-6 3-6 0-6-4-5-7-3-7 1-8 2-6 5-5z"/><path fill="#cdeb9d" d="M2035 28l11 0-12 12 0-12zM2121 28l81 0 0 76-12-1-6-3-5-3-4-5-4-7-11-27-5-7-7-5-16-6-6-3-5-4-1-5zM2034 184l12 12-12 0zM2202 183l0 13-13 0z"/><path fill="#fdb96a" d="M2139 67l6 0 6 3 4 5 2 6 0 7-3 6-3 4-6 3-6-1-5-2-4-5-2-6-1-6 2-6 4-5z"/><path fill="#b8e2a1" d="M2131 28l71 0 0 70-8 1-6-1-6-3-4-4-5-5-3-6-9-25-3-5-6-6-18-8-4-5 0-3z"/><path fill="#fca55d" d="M2139 69l6-1 4 2 5 5 1 4 1 6-2 6-3 4-5 3-6 0-4-2-5-5-1-4-1-6 1-5 4-4z"/><path fill="#a2d9a4" d="M2140 28l62 0 0 66-8 1-6-1-6-3-4-3-4-6-4-6-7-22-3-6-5-6-13-8-3-3 0-3z"/><path fill="#f88c51" d="M2139 70l4-1 5 1 4 4 2 5 1 6-2 5-2 3-5 3-4 0-5-1-4-4-2-4 0-6 1-5 2-3z"/><path fill="#89d0a4" d="M2151 28l51 0 0 62-8 2-6-1-6-3-5-4-4-6-3-6-6-24-4-6-10-9 0-3z"/><path fill="#f57547" d="M2139 71l4-1 5 2 3 3 2 4 1 5-1 4-2 3-5 3-3 0-4-1-3-2-3-4-1-5 1-4 3-5z"/><path fill="#6ec5a5" d="M2163 29l1-1 38 0 0 58-8 3-6-1-6-3-6-6-3-5-2-7-5-21-6-12 1-3z"/><path fill="#ed6246" d="M2142 72l4 0 3 2 3 4 1 3 0 4-2 3-2 3-4 2-5-1-3-1-2-3-2-4 0-5 2-3 3-3z"/><path fill="#5ab4ab" d="M2173 30l4-2 17 0 8 4 0 51-2 1-7 2-6-1-7-4-5-8-3-10-4-26 1-4z"/><path fill="#e2514a" d="M2140 73l3 0 3 0 3 2 2 4 1 5-1 3-2 2-3 2-4 0-3-1-3-2-1-3-1-4 1-3 2-3z"/><path fill="#47a0b3" d="M2185 31l9 1 8 5 0 42-8 4-7-1-6-4-5-7-3-10-1-16 1-8 2-2 3-2z"/><path fill="#d7414e" d="M2140 74l3 0 3 0 3 2 1 3 1 3-1 3-2 3-2 2-3 0-3 0-2-2-2-3-1-3 1-3 1-3z"/><path fill="#358bbc" d="M2184 35l4 0 5 1 4 2 5 4 0 34-3 2-5 2-6 0-6-4-4-6-2-6-1-10 1-11 3-5z"/><path fill="#c52c4b" d="M2140 76l5-1 3 2 1 2 0 6-3 3-3 1-3-1-3-3 0-3 0-3z"/><path fill="#3f77b5" d="M2185 40l5-1 4 2 5 3 3 3 0 24-3 4-5 2-4 0-6-2-3-4-3-7-1-7 1-9 3-5z"/><path fill="#b11747" d="M2140 78l5-1 1 1 2 2 0 4-3 3-3 0-3-3-1-3z"/><path fill="#4e63ac" d="M2187 46l4 0 5 2 3 3 2 6 0 6-2 4-2 3-4 3-5-1-3-2-3-4-1-3 0-5 1-6 2-4z"/></g><path class="ct" d="M2201.7 42.1l-4.5-4-6-2.6-6-.3-4.5 1.5-3 2.8-1.5 3.2-1 5-.4 7.5.7 7.5 1.8 6 2.4 4.5 4 4.3 4.5 2.2 4.5.4 4.5-1.2 4.5-3.1M2166.3 28.2l-2.3 1.5-1.3 1.5-.6 3 5.1 13.3 2.8 15.2 1.6 6 1.7 4.5 2.5 4.5 2.2 3 3 3 2.7 1.9 4.5 1.9 3 .5 4.5-.3 6-2.1M2133.6 28.2l.3 3 2.1 3 4.4 3 13.3 6.7 3 2.4 2.5 2.9 3 6 4.7 15 3.3 8.2 3 5.6 4.5 5.9 4.5 3.6 6 2.8 6 .9 7.5-.9M2033.7 83.5l4.5-10.8 6-10.3 7.5-9.6 8.4-8.1 9.6-6.9 9-4.3 4.5-1.4 4.5-.7 4.5.1 3 .5 4.5 1.7 12.2 6.5 5.8 2.5 7.5 2.2 18 4 4.5 1.8 4.5 3.1 3.7 4.4 3.8 6.9 3.5 8.1 5.5 15.2 3 6.3 3 4.9 3 3.8 4.5 4.3 15.7 10.5 2.6 3 1.2 2.5M2201.7 137.7l-2.9 9-4.6 9.4-6 9.1-7.2 8.5-7.8 7.1-9 6.4-9 4.9-10.4 4.1M2090.2 196.2l-10-3.9-9-4.9-8.9-6.2-6.8-6-6.8-7.5-6-8.4-5.3-9.6-3.7-9.2M2131.2 59.5l4.5-1 6 .1 4.5 1.2 4.5 2.7 4.5 4.5 2.9 4.7 2.5 6 1.7 7.5 1.3 18-.7 6-1.7 5.2-3 4.9-4.5 4.3-6 3.3-6 1.6-4.5.3-6-.8-6-2.2-4.8-3.1-4.5-4.5-3-4.5-1.9-4.5-1.5-6-.4-6 .6-7.5 1.3-6 2.9-7.5 3.4-6 3.8-4.5 4.1-3.3 6-2.9M2138.7 65.4l3-.3 3 .3 3 1 3 1.8 2.2 2 2.3 3.2 1.4 2.8 1.3 4.5.3 4.5-.4 4.5-2.6 7.1-1.5 2.4-3 3.2-3 1.9-3 .9-3 .2-3-.7-3-1.4-3-2.3-3-3.5-1.9-3.3-1.7-4.5-.6-3 .3-7.5 2.3-6 2.3-3 2.3-2.1 3-1.7 3-1M2138.7 69.7l3-.7 3 .2 4.5 1.9 3.4 3.6 2 4.5.3 6-1.4 4.5-2.8 3.8-4.5 2.7-4.5.3-4.5-1.5-4.1-3.8-2.3-4.5-.6-3 .1-3 1.3-4.5 2.6-3.7 4.5-2.8M2140.2 72.6l4.5-.2 3 1.2 2.7 2.6 1.4 3 .4 4.5-1.5 4.1-3 3-3 1.2-4.5-.4-3-1.8-2.4-3.1-1-3 .2-4.5 1.4-3 1.8-1.9 3-1.7M2140.2 76.2l3-.7 1.5.2 3.1 2 1.3 3 .1 1.7-.9 2.8-2.1 2.1-2.6.9-1.9-.2-2.3-1.3-1.3-1.5-.9-2.3-.1-2.2 1.4-3 1.7-1.5"/></g><g class="hd"><circle cx="2117.5" cy="112" r="59.2"/><path d="M2105.1 54.11L2117.5 43.92L2129.9 54.11"/><path d="M2176.34 101.64 2177.88 98.65 2178.83 98.54 2180.24 99.04 2181.66 101.64 2181.44 109.95 2182.26 121.89 2180.49 127.08 2177.88 128.04 2175.4 125.53"/><path d="M2058.66 101.64 2057.12 98.65 2056.17 98.54 2054.76 99.04 2053.34 101.64 2053.56 109.95 2052.74 121.89 2054.51 127.08 2057.12 128.04 2059.6 125.53"/></g><g class="sn"><circle cx="2096.7" cy="52.3" r="3.5"/><circle cx="2138.3" cy="52.3" r="3.5"/><circle cx="2061.3" cy="78" r="3.5"/><circle cx="2173.7" cy="78" r="3.5"/><circle cx="2089.7" cy="82.4" r="3.5"/><circle cx="2117.7" cy="84" r="3.5"/><circle cx="2145.3" cy="82.4" r="3.5"/><circle cx="2037.9" cy="97.9" r="3.5"/><circle cx="2197.1" cy="97.9" r="3.5"/><circle cx="2070" cy="100" r="3.5"/><circle cx="2102.4" cy="100.4" r="3.5"/><circle cx="2132.6" cy="100.4" r="3.5"/><circle cx="2165" cy="100" r="3.5"/><circle cx="2087" cy="117" r="3.5"/><circle cx="2117.5" cy="115.5" r="3.5"/><circle cx="2148" cy="117" r="3.5"/><circle cx="2054.2" cy="123.6" r="3.5"/><circle cx="2180.8" cy="123.6" r="3.5"/><circle cx="2103.9" cy="129.3" r="3.5"/><circle cx="2131.1" cy="129.3" r="3.5"/><circle cx="2075.9" cy="135.6" r="3.5"/><circle cx="2159.1" cy="135.6" r="3.5"/><circle cx="2117.5" cy="141.4" r="3.5"/><circle cx="2094.9" cy="144.6" r="3.5"/><circle cx="2140.1" cy="144.6" r="3.5"/><circle cx="2050.2" cy="148.8" r="3.5"/><circle cx="2184.8" cy="148.8" r="3.5"/><circle cx="2074.5" cy="155.2" r="3.5"/><circle cx="2160.5" cy="155.2" r="3.5"/><circle cx="2102.7" cy="167.1" r="3.5"/><circle cx="2117.5" cy="167.1" r="3.5"/><circle cx="2132.3" cy="167.1" r="3.5"/></g><clipPath id="c11"><circle cx="2342.5" cy="112" r="80.8"/></clipPath><g clip-path="url(#c11)"><g filter="url(#bl)"><rect x="2258.7" y="28.2" width="167.6" height="167.6" fill="#fffebe"/><path fill="#fff3ac" d="M2325 112l15 0 15 2 30 10 6 2 6 4 6 6 4 6 12 24 3 4 5 2 0 24-168 0 0-29 3-2 3-4 10-20 6-10 8-7 7-5 14-4z"/><path fill="#f6fbb0" d="M2260 28l167 0 0 134-5-2-3-4-15-23-4-6-6-5-9-5-26-12-9-4-7-1-9 1-12 3-21 7-11 6-9 8-16 25-6 6 0-128z"/><path fill="#fee999" d="M2320 118l15 0 17 2 34 9 6 3 5 3 6 6 5 9 4 10 3 15 3 5 3 3 6 2 0 11-168 0 0-14 6-2 4-5 1-4 6-23 3-7 4-6 7-7 8-4 10-4z"/><path fill="#edf8a3" d="M2260 28l167 0 0 126-5-2-3-3-16-25-8-9-23-16-19-16-4-3-5-1-4 0-5 2-20 15-22 12-6 4-7 8-15 22-6 5 0-119z"/><path fill="#fedc88" d="M2317 122l15 0 15 1 23 7 16 3 6 2 5 3 4 4 4 6 3 8 2 7-1 14-5 19-105 0 1-1-1-2-12-11-6-9-2-5-1-6 1-11 4-10 4-5 5-4 10-6z"/><path fill="#e1f399" d="M2260 28l167 0 0 119-5-2-4-5-14-22-5-7-20-17-7-7-6-8-12-19-5-3-5-1-4 0-5 3-4 5-12 15-7 8-28 21-7 7-11 17-4 5-3 2 0-111z"/><path fill="#feca79" d="M2319 126l12-1 12 1 25 7 18 3 8 3 4 3 4 5 3 6 2 6 0 6 0 6-2 6-2 5-3 3-5 4-4 2-6 0-8-2-13-7-5-2-6 0-19 3-14 0-13-3-12-5-7-6-4-7-1-9 3-9 4-6 8-6 9-4z"/><path fill="#cdeb9d" d="M2260 28l167 0 0 112-5-2-4-5-11-19-6-8-17-16-7-8-5-9-7-17-3-5-6-4-9-2-12 1-4 2-4 3-4 5-8 16-5 7-9 9-20 15-6 7-10 16-3 3-3 2 0-103z"/><path fill="#fdb96a" d="M2319 129l10-1 12 1 9 2 17 5 18 2 7 2 7 7 5 9 1 10-1 6-2 5-4 4-3 3-4 2-6 1-8-2-12-8-6-2-6 0-18 3-12 0-12-2-12-5-6-5-4-6-1-7 1-8 5-6 6-4 8-4z"/><path fill="#b8e2a1" d="M2260 28l167 0 0 104-3-1-3-3-15-23-18-18-6-8-5-10-5-18-3-6-4-3-3-2-10-2-11 0-9 2-6 2-4 3-5 6-7 16-6 10-8 8-18 14-5 6-10 14-4 3 0-94z"/><path fill="#fca55d" d="M2317 132l11-1 10 0 11 3 16 5 18 1 8 2 4 3 3 3 4 8 1 9-2 9-3 4-4 3-5 2-4 0-8-2-12-8-6-3-4 0-17 3-10 1-14-2-10-3-6-4-4-5-2-6 1-6 3-6 5-4 7-4z"/><path fill="#a2d9a4" d="M2260 28l97 0-26 4-6 2-6 3-6 7-7 20-7 11-7 7-17 14-12 12-4 2 0-82zM2367 28l60 0 0 96-3-1-3-3-12-18-17-18-5-8-6-12-3-18-2-6-3-6-7-6z"/><path fill="#f88c51" d="M2325 133l9 0 9 2 22 8 17-1 4 0 5 2 6 5 3 7 1 9-2 7-2 4-3 3-5 2-4 0-5-1-3-2-12-9-4-3-5 0-16 4-11 1-12-1-10-4-6-4-4-5-1-6 2-5 4-5 6-4 8-2z"/><path fill="#89d0a4" d="M2260 28l48 0 1 3-7 29-3 6-4 6-8 8-19 15-5 3-4 1 0-71zM2389 29l1-1 37 0 0 87-3-2-3-2-11-14-15-16-6-11-3-10-1-15 1-9 1-3z"/><path fill="#f57547" d="M2322 136l10 0 11 1 7 3 14 7 4 0 12-3 5 0 4 1 6 5 4 6 1 7-2 7-2 4-4 3-3 1-4 1-5-1-4-3-11-11-4-2-5 0-15 5-9 1-10-1-11-3-4-2-5-5-1-4 0-5 3-4 4-3 6-3z"/><path fill="#6ec5a5" d="M2260 28l36 0 3 5 1 6-1 9-1 9-3 7-4 6-7 7-10 8-8 4-6 2-1-1 0-62zM2401 30l3-2 23 0 0 77-3-1-3-2-19-20-7-9-3-7-2-11 2-12 3-7z"/><path fill="#ed6246" d="M2320 139l12-1 12 3 6 3 4 3 3 4 0 3-2 3-5 3-12 4-12 1-10-2-5-3-3-3-2-3 0-4 1-3 3-3 5-3zM2379 146l6 0 4 1 5 4 3 5 1 6-1 6-3 5-5 3-6 0-6-2-6-6-5-9 0-3 1-3 6-4z"/><path fill="#5ab4ab" d="M2260 28l25 0 4 3 3 4 1 5 1 5-1 7-1 6-3 6-3 5-5 5-6 4-6 4-6 1-4 0 0-55zM2415 31l6 0 6 1 0 64-3 0-5-3-13-12-6-9-4-11 0-10 2-6 2-5 6-5z"/><path fill="#e2514a" d="M2320 142l11-1 10 2 4 2 4 3 1 3-1 3-5 5-7 2-9 1-9-2-6-4-2-2-1-3 1-3 3-3zM2382 148l4 0 5 2 3 4 2 5 0 6-1 4-3 3-4 2-6 0-5-3-4-5-2-6 0-4 1-3 4-3z"/><path fill="#47a0b3" d="M2268 30l9 1 7 5 2 3 2 4 0 9-3 9-5 8-9 6-5 2-4 0-3-1 0-44zM2416 37l6 0 5 1 0 50-3 0-3-1-8-6-8-9-4-9 0-9 2-8 6-6z"/><path fill="#d7414e" d="M2323 145l6-1 8 1 4 3 2 2 0 3-3 3-5 2-6 0-7-1-4-3-1-3 2-4zM2379 151l4-1 5 1 3 1 2 4 2 4 0 5-3 4-3 3-3 0-4 0-4-3-3-4-2-5 1-3 1-3z"/><path fill="#358bbc" d="M2263 37l8 0 5 2 4 4 2 6-1 7-3 6-5 5-7 3-4-1-3-1 0-29zM2415 45l6-2 6 2 0 34-5 1-6-4-5-6-3-6-1-6 1-6 3-4z"/><path fill="#c52c4b" d="M2382 152l3 0 3 1 3 2 2 4 0 3-1 4-1 2-3 2-3 0-3-1-3-2-2-4-1-3 1-3 2-3z"/><path fill="#3f77b5" d="M2265 47l4 0 2 1 1 3 0 4-1 2-3 2-3 0-2-1-2-3 0-4zM2419 53l5 1 3 2 0 11-3 2-5-1-2-2-1-3-1-3 1-3z"/><path fill="#b11747" d="M2382 157l3-1 1 0 3 3 0 4-1 3-3 0-3-1-2-5z"/></g><path class="ct" d="M2426.7 39.7l-4.5-1-4.5 0-4.5 1.3-3.1 1.7-3.3 3-2.6 4.2-1.5 4.8-.3 4.5.6 4.5 1.5 4.5 2.5 4.5 3.4 4.5 4.3 4.3 4.5 3.3 4.5 1.7 3-.3M2258.7 73.6l4.5 1.2 4.5-.6 4.5-1.9 5.2-3.6 4.2-4.5 2.7-4.5 1.6-4.5.6-6-.6-4.5-1.6-4.5-3.1-4-3-2.3-4.5-1.8-4.5-.6-6 .7-4.5 1.8M2407.2 28.2l-4.5 2.2-3.3 2.3-2.9 3-2.6 4.5-1.7 6-.8 6 .1 6 1.1 6 1.6 4.5 2.3 4.5 6.7 9 16 16.8 4.5 3.3 3 .6M2258.7 88.9l3 .2 3-.6 4.5-2 6-3.8 10.5-8.1 4-4.4 3.2-4.5 2.2-4.5 1.9-6 1.5-12 0-4.5-.8-4.5-1.4-3-2.4-3M2372.3 28.2l-.2 1.5.5 1.5 3.1 5.3 2.1 5.2 1.1 4.5 2.6 16.5 1.9 6 2.8 6 6.4 9 16.1 17.4 12 17.9 3 2.9 3 1.2M2258.7 109.2l1.5-.4 3-1.9 11.2-11.2 17.3-14 6.8-7 3.3-4.5 3.2-6 6.8-19.5 2.4-4.1 3-3.3 4.5-3.2 4.5-2.1 6-1.6 12.7-2.2M2258.7 131.2l3-1.8 3-3.1 10.5-16 5.9-7.1 5.1-4.5 14.5-10.7 8.9-8.8 5.4-7.5 8.2-15.9 3.8-5.1 3.7-2.7 4.5-1.8 6-1.1 6-.2 4.5.5 4.5 1.3 3 1.6 3 2.7 3 5.2 6.7 17 5.5 9 6.4 7.5 17.4 16.5 5.5 7.5 8 14.1 3.5 5.4 4 4.3 4.5 2.2M2258.7 147.9l3-2 3-3.2 15-22.2 3-3.6 4.5-4.3 7.5-5 19.4-10.4 19.6-13 4.5-2.1 4.5-.8 4.5.8 6 3.1 19 15 17 11.3 6 4.7 7.5 8.4 16.5 24.9 3 2.9 4.5 2.3M2258.7 169.6l3-1.9 3.7-4.5 8.9-19.5 5.2-9 4.7-5.8 4.5-4.1 7.5-4.5 12-4 13.5-2.6 13.5-.7 10.5 1 10.5 2.1 28.5 8.7 9 4.2 6.9 5.7 5.9 7.5 4.1 7.5 5.6 13.4 3 5.7 3 3.1 4.5 1.9M2376.7 196.2l-13-7.6-6-1.7-4.5 0-15 2.3-9 .6-10.5-.5-9-1.5-9-2.8-6-2.9-6-4.3-4.5-5.2-2.6-4.9-1.4-4.5-.5-4.5.1-4.5.9-4.5 1.6-4.5 2.4-4.5 3.5-4.5 3.5-3.2 4.2-2.8 9.3-4 12-2.7 12-.8 9 .5 7.5 1.1 24 6.5 16.5 2.9 7.5 3.1 3 2.1 3.4 3.3 4.2 6 3.1 7.5 1.6 9-.2 7.5-1.7 7.5-3.6 7.5-3.8 4.7-5.7 4.3M2315.7 130.2l12-1.3 12 .9 9 2 18 5.9 16.5.9 4.5.9 4.5 1.9 3 2 3.3 3.3 2.9 4.5 1.8 4.5.9 4.5.1 6-.9 4.5-1.8 4.5-3.3 4.6-4.5 3.5-4.5 1.6-4.5.3-3-.4-4.5-1.6-4.5-2.6-7.5-5.4-3-1.5-3-.8-4.5 0-18 2.9-10.5.3-6-.5-7.5-1.3-6-1.8-4.5-2-6.5-4.3-2.8-3-1.9-3-1.2-3-.5-3 .7-6 3.1-6 2.7-3 3.4-2.7 7.5-3.8 9-2.5M2321.7 134.7l9-.4 10.5 1.3 7.5 2.3 12 5.7 4.5 1.3 3 0 13.5-1.9 4.5.4 3 1 3 1.5 3 2.6 2.1 2.7 2.2 4.5.8 3 .3 4.5-.6 4.5-1.1 3-2.2 3.6-3 2.9-4.5 2.1-4.5.4-4.5-1-3.9-2-3.8-3-7.3-7.1-4.5-2.4-4.5 0-15 4-10.5 1.1-10.5-.7-6-1.4-4.5-1.8-6-3.7-3.8-4.5-1.4-4.5.6-4.5 2.7-4.5 5.6-4.5 6.8-2.9 7.5-1.6M2321.7 140.4l4.5-.7 6 .1 5.8.9 4.7 1.5 5.4 3 3.1 3 1.4 3-.5 3-2.4 3-2.5 1.7-4.5 2.1-6 1.7-4.5.5-6-.1-6-1-4.5-1.7-3-1.7-3-3-1.3-3 .1-3 1.5-3 3.2-3 4-2 4.5-1.3M2378.7 147.7l6-.5 4.5 1.3 3.8 2.7 3 4.5 1.3 6-.3 3-.8 3-3 4.5-4 2.5-4.5.6-3-.6-3-1.5-3-2.5-2.6-3-3.3-6-.9-4.5.2-1.5 1.5-3 3.6-3 4.5-2M2327.7 148l4.5.2 3 1.5.7 1.5-.5 1.5-2.5 1.5-2.2.4-4.3-.4-1.7-.9-1.4-2.1.7-1.5 3.7-1.7M2380.2 152.2l4.5-.8 3 .8 3 2 1.5 2.1 1.3 3.9 0 3-1.3 3.8-3 3-3 .9-2.6-.2-1.9-.7-3-2.2-2.2-3.1-1.3-4.5.4-3 1.7-3 2.9-2"/></g><g class="hd"><circle cx="2342.5" cy="112" r="59.2"/><path d="M2330.1 54.11L2342.5 43.92L2354.9 54.11"/><path d="M2401.34 101.64 2402.88 98.65 2403.83 98.54 2405.24 99.04 2406.66 101.64 2406.44 109.95 2407.26 121.89 2405.49 127.08 2402.88 128.04 2400.4 125.53"/><path d="M2283.66 101.64 2282.12 98.65 2281.17 98.54 2279.76 99.04 2278.34 101.64 2278.56 109.95 2277.74 121.89 2279.51 127.08 2282.12 128.04 2284.6 125.53"/></g><g class="sn"><circle cx="2321.7" cy="52.3" r="3.5"/><circle cx="2363.3" cy="52.3" r="3.5"/><circle cx="2286.3" cy="78" r="3.5"/><circle cx="2398.7" cy="78" r="3.5"/><circle cx="2314.7" cy="82.4" r="3.5"/><circle cx="2342.7" cy="84" r="3.5"/><circle cx="2370.3" cy="82.4" r="3.5"/><circle cx="2262.9" cy="97.9" r="3.5"/><circle cx="2422.1" cy="97.9" r="3.5"/><circle cx="2295" cy="100" r="3.5"/><circle cx="2327.4" cy="100.4" r="3.5"/><circle cx="2357.6" cy="100.4" r="3.5"/><circle cx="2390" cy="100" r="3.5"/><circle cx="2312" cy="117" r="3.5"/><circle cx="2342.5" cy="115.5" r="3.5"/><circle cx="2373" cy="117" r="3.5"/><circle cx="2279.2" cy="123.6" r="3.5"/><circle cx="2405.8" cy="123.6" r="3.5"/><circle cx="2328.9" cy="129.3" r="3.5"/><circle cx="2356.1" cy="129.3" r="3.5"/><circle cx="2300.9" cy="135.6" r="3.5"/><circle cx="2384.1" cy="135.6" r="3.5"/><circle cx="2342.5" cy="141.4" r="3.5"/><circle cx="2319.9" cy="144.6" r="3.5"/><circle cx="2365.1" cy="144.6" r="3.5"/><circle cx="2275.2" cy="148.8" r="3.5"/><circle cx="2409.8" cy="148.8" r="3.5"/><circle cx="2299.5" cy="155.2" r="3.5"/><circle cx="2385.5" cy="155.2" r="3.5"/><circle cx="2327.7" cy="167.1" r="3.5"/><circle cx="2342.5" cy="167.1" r="3.5"/><circle cx="2357.3" cy="167.1" r="3.5"/></g><clipPath id="c12"><circle cx="92.5" cy="348" r="80.8"/></clipPath><g clip-path="url(#c12)"><g filter="url(#bl)"><rect x="8.7" y="264.2" width="167.6" height="167.6" fill="#fffebe"/><path fill="#fff3ac" d="M15 264l143 0 7 12 3 12 1 14-2 12-4 9-6 9-7 6-9 5-12 2-27-1-12-1-9-2-11-4-9-5-7-5-8-8-10-14-12-18-7-14zM57 391l6-1 6 2 4 3 6 7 6 9 3 8 1 7-2 6-49 0-1-4-1-6 1-6 2-6 4-6 4-6 5-4z"/><path fill="#f6fbb0" d="M10 281l6 6 8 9 14 24 7 16 2 8 0 7-1 9-2 11-3 7-6 11-7 10-7 8-6 5-6 2 0-134zM106 354l14 0 6 1 6 2 6 3 4 5 5 9 1 6 1 6-2 7-2 6-4 6-5 4-4 3-6 3-6 1-6 0-6-1-6-3-6-5-4-5-4-6-4-7-1-6-1-6 2-6 2-5 4-4 4-4 6-2z"/><path fill="#fee999" d="M24 264l117 0 7 12 5 11 1 12-2 10-4 9-7 8-9 5-9 3-11 0-10-1-33-9-9-4-8-5-7-7-6-7-7-10-4-9-4-10z"/><path fill="#edf8a3" d="M10 293l5 3 6 5 5 8 5 8 5 15 2 15-1 9-2 9-2 7-4 8-5 7-5 5-4 3-6 2 0-105zM111 360l9 0 9 4 6 7 4 7 0 9-4 9-6 7-5 3-4 1-9 0-5-2-4-2-4-4-4-4-3-9 0-9 4-8 7-6z"/><path fill="#fedc88" d="M30 264l101 0 8 12 4 11 1 10-1 9-4 8-6 5-7 5-8 2-9 0-9-1-22-6-12-3-9-5-6-4-6-5-5-6-5-8-4-9-2-9 0-6z"/><path fill="#e1f399" d="M10 302l5 2 4 4 7 10 4 14 2 13-2 15-2 8-3 6-7 8-5 3-4 1 0-85zM109 366l8-1 7 3 5 4 3 6 1 8-2 6-5 6-6 3-8 0-6-2-6-5-3-7 0-7 2-6 4-5z"/><path fill="#feca79" d="M34 264l90 0 8 14 3 9 1 9-1 7-3 6-5 5-6 3-7 1-9 1-12-2-18-4-11-3-7-4-6-4-5-5-5-6-4-7-2-8-2-9 0-3z"/><path fill="#cdeb9d" d="M10 310l6 4 6 9 4 10 1 12-2 12-4 11-3 4-3 3-6 3 0-69zM112 370l6 1 5 2 3 4 1 4 0 5-2 4-4 4-4 2-5 0-4-2-4-4-2-4 0-5 1-4 5-5z"/><path fill="#fdb96a" d="M37 265l0-1 82 0 6 12 3 9 1 8-1 7-3 5-4 3-5 3-7 1-9 0-13-1-12-2-9-3-6-2-6-4-9-10-4-6-2-6-2-6z"/><path fill="#b8e2a1" d="M10 318l5 3 4 7 3 8 0 9-1 9-3 8-5 5-4 2 0-52zM111 378l4-1 3 1 2 1 1 5-3 4-4 1-3-1-2-2-1-2 0-3z"/><path fill="#fca55d" d="M42 264l73 0 4 11 2 9 1 6-1 6-3 4-3 3-6 3-6 1-9 0-10 0-9-2-9-2-6-3-6-4-8-9-3-6-2-6 0-9 0-2z"/><path fill="#a2d9a4" d="M10 327l3 3 2 3 1 5 1 6-1 5-2 5-2 4-3 2 0-33z"/><path fill="#f88c51" d="M45 264l66 0 4 15 1 6-1 6-3 5-3 3-4 2-6 1-8 1-9 0-7-1-8-2-10-6-5-4-3-5-3-6-2-6 0-7 0-2z"/><path fill="#f57547" d="M48 264l59 0 2 8 2 6 0 6-2 4-1 3-3 3-5 3-6 2-13 1-8-1-6-2-9-6-7-8-4-10 0-7 0-2z"/><path fill="#ed6246" d="M51 264l53 0 1 6 1 6-1 9-2 3-3 4-4 2-5 2-12 0-10-2-9-5-6-7-3-4-1-6 0-8z"/><path fill="#e2514a" d="M54 264l46 0 2 9 0 5-1 4-4 6-7 4-11 1-10-2-8-4-6-8-3-9 1-6z"/><path fill="#d7414e" d="M57 264l40 0 2 8-1 7-4 6-6 4-9 1-9-1-7-5-5-6-3-8 1-6z"/><path fill="#c52c4b" d="M60 264l33 0 2 8-1 6-3 4-6 4-7 1-8-2-6-4-4-5-2-7 1-5z"/><path fill="#b11747" d="M64 264l24 0 1 6-1 6-3 3-3 2-4 1-6-2-5-3-3-4-1-4z"/></g><path class="ct" d="M8.7 365.6l2.4-.9 2.1-1.4 3.5-4.6 2.5-6.8 1-8.2-.7-7.5-2.5-7.5-3.8-5.4-1.5-1.1-3-1.3M8.7 390.2l4.5-1.1 4.5-2.6 4.5-4.4 4.5-6.6 2.9-6.3 2.4-7.5 1.4-7.5.6-9-.4-7.5-1.3-7.5-2.3-7.5-3.3-7.1-4.5-7.1-4.5-5.1-4.5-3.6-4.5-2M112.2 363.1l-4.5 1-3 1.2-3.6 2.4-2.9 3-1.9 3-1.7 4.5-.4 3 .3 4.5 1.3 4.5 1.5 3 2.9 3.8 3 2.7 3 1.8 4.5 1.6 3 .5 4.5-.2 4.5-1.3 3-1.6 3.5-2.8 2.5-3 1.7-3 1.5-4.5.3-3-.2-4.5-1.4-4.5-1.6-3-2.4-3-2.4-2.1-3-1.8-4.5-1.7-4.5-.6-3 .1M153.3 264.2l4.8 7.5 2.9 6 2.5 7.5 1.1 6 .4 7.5-.5 6-1.7 7.5-2.4 6-3.4 6-4.3 5.5-4.5 4.3-5.3 3.7-5.2 2.3-6 1.6-6 .7-9 .2-16.5-.7-12-2.2-9-2.9-12-4.7-6-2.9-6-3.9-6-5.2-6-6.6-6-7.9-6.6-9.8-4.5-7.5-4.6-9-2.9-7.5-1.8-7.5M44.2 432.2l-2.3-4.5-1.3-6 .5-6 2.1-6.2 3.6-5.8 5.4-5.1 4.5-2.4 6-.9 3 .4 3 1.1 4.5 3 4.5 4.9 4.1 6.5 2.3 6 .5 4.5-1 6-2.5 4.5M124.5 264.2l6.6 12 3.7 9 1.1 4.5.5 4.5-1 7.5-1.8 4.5-1.9 3-2.9 3-3.1 2.3-3 1.6-4.5 1.6-9 1-15-1.5-21-4.2-10.5-3.6-9-5.1-4.5-3.7-4.5-4.7-6.1-9.2-2.1-4.5-1.9-6-1-6-.1-6M111.4 264.2l3.4 9 1.9 9 .1 6-1.7 6-3.8 4.5-5.1 2.9-7.5 1.8-9 .7-10.5-.6-9-2-7.5-3-7.5-5-5.1-5.3-4.4-7.5-2.2-7.5-.5-4.5.2-4.5M101.5 264.2l1.8 6 .7 6-.5 4.5-1.8 4.8-3 3.6-4.5 3-6 1.9-6 .6-7.5-.6-6-1.7-6-3.2-4.5-3.8-3.5-4.6-2.5-5.7-.9-4.8.2-6M91.4 264.2l1.3 3.6.5 3.9-.5 3.9-1.6 3.6-2.8 3-2.5 1.5-3.6 1.2-4.5.4-3-.4-4.5-1.4-3-1.8-3-2.6-2.8-4.4-1-3-.4-3 .6-4.5"/></g><g class="hd"><circle cx="92.5" cy="348" r="59.2"/><path d="M80.1 290.11L92.5 279.92L104.9 290.11"/><path d="M151.34 337.64 152.88 334.65 153.83 334.54 155.24 335.04 156.66 337.64 156.44 345.95 157.26 357.89 155.49 363.08 152.88 364.04 150.4 361.53"/><path d="M33.66 337.64 32.12 334.65 31.17 334.54 29.76 335.04 28.34 337.64 28.56 345.95 27.74 357.89 29.51 363.08 32.12 364.04 34.6 361.53"/></g><g class="sn"><circle cx="71.7" cy="288.3" r="3.5"/><circle cx="113.3" cy="288.3" r="3.5"/><circle cx="36.3" cy="314" r="3.5"/><circle cx="148.7" cy="314" r="3.5"/><circle cx="64.7" cy="318.4" r="3.5"/><circle cx="92.7" cy="320" r="3.5"/><circle cx="120.3" cy="318.4" r="3.5"/><circle cx="12.9" cy="333.9" r="3.5"/><circle cx="172.1" cy="333.9" r="3.5"/><circle cx="45" cy="336" r="3.5"/><circle cx="77.4" cy="336.4" r="3.5"/><circle cx="107.6" cy="336.4" r="3.5"/><circle cx="140" cy="336" r="3.5"/><circle cx="62" cy="353" r="3.5"/><circle cx="92.5" cy="351.5" r="3.5"/><circle cx="123" cy="353" r="3.5"/><circle cx="29.2" cy="359.6" r="3.5"/><circle cx="155.8" cy="359.6" r="3.5"/><circle cx="78.9" cy="365.3" r="3.5"/><circle cx="106.1" cy="365.3" r="3.5"/><circle cx="50.9" cy="371.6" r="3.5"/><circle cx="134.1" cy="371.6" r="3.5"/><circle cx="92.5" cy="377.4" r="3.5"/><circle cx="69.9" cy="380.6" r="3.5"/><circle cx="115.1" cy="380.6" r="3.5"/><circle cx="25.2" cy="384.8" r="3.5"/><circle cx="159.8" cy="384.8" r="3.5"/><circle cx="49.5" cy="391.2" r="3.5"/><circle cx="135.5" cy="391.2" r="3.5"/><circle cx="77.7" cy="403.1" r="3.5"/><circle cx="92.5" cy="403.1" r="3.5"/><circle cx="107.3" cy="403.1" r="3.5"/></g><clipPath id="c13"><circle cx="317.5" cy="348" r="80.8"/></clipPath><g clip-path="url(#c13)"><g filter="url(#bl)"><rect x="233.7" y="264.2" width="167.6" height="167.6" fill="#fffebe"/><path fill="#fff3ac" d="M364 310l5 0 4 0 5 2 4 4 4 4 3 4 2 5 1 6-2 10-7 15-5 17-5 7-3 2-3 1-4-2-3-5-4-21-6-18-2-9 1-8 4-6 5-5z"/><path fill="#f6fbb0" d="M235 264l57 0-1 6 0 6 1 6 3 6 5 5 6 4 6 2 6 1 7-1 6-3 5-3 5-5 2-4 2-6 0-8-2-6 59 0 0 168-168 0 0-168zM361 296l-6 4-6 9-4 9-1 8 2 9 6 18 2 7-1 9-3 17 0 7 4 8 4 5 5 3 6 1 4-1 5-4 4-6 4-9 3-10 4-20 4-16 0-11-1-6-2-7-5-8-8-9-6-6-5-2-4-1z"/><path fill="#fee999" d="M363 315l4-1 5 0 7 3 7 7 2 5 1 4-1 8-3 7-12 18-4 4-3-1-3-5-10-19-2-9 0-6 2-6 4-5z"/><path fill="#edf8a3" d="M330 330l6 0 4 3 5 7 5 13 1 7-2 8-3 5-4 2-6 0-6-4-6-8-3-7-1-9 1-8 4-6z"/><path fill="#fedc88" d="M367 317l8 1 6 3 4 6 2 8-1 7-4 8-7 7-6 2-5-1-6-7-4-9-2-7 1-6 3-6 5-4z"/><path fill="#e1f399" d="M331 337l5-1 4 3 3 3 4 8 1 6 0 6-2 4-4 3-5 0-4-3-4-4-2-6-1-6 0-5 2-4z"/><path fill="#feca79" d="M364 319l8 0 6 2 5 6 2 6-1 8-3 6-5 5-6 3-3 0-3-1-4-4-4-6-2-6 0-6 1-5 4-4z"/><path fill="#cdeb9d" d="M334 342l3 0 3 2 3 4 2 3 0 5 0 4-2 2-3 2-3 0-3-2-2-3-2-5 0-7 1-3z"/><path fill="#fdb96a" d="M364 321l6-1 6 2 5 4 2 6 0 6-2 6-3 5-6 3-5 0-4-2-5-4-3-7 0-6 1-4 4-5z"/><path fill="#b8e2a1" d="M336 348l3 0 2 3 1 3-2 4-3 0-3-4 0-4z"/><path fill="#fca55d" d="M364 323l6-1 5 1 4 4 3 5 0 6-1 4-5 6-4 2-5 0-4-2-4-4-2-5-1-6 2-4 3-4z"/><path fill="#f88c51" d="M364 324l5-1 4 1 5 3 2 5 1 6-2 4-3 4-4 2-5 1-3-2-4-3-2-5 0-4 1-5 2-4z"/><path fill="#f57547" d="M364 326l3-2 5 1 4 2 3 3 1 5-1 4-2 5-4 2-4 1-3 0-3-2-3-4-1-5 0-4 2-4z"/><path fill="#ed6246" d="M369 326l4 1 3 2 2 3 1 3-1 4-2 3-3 3-4 1-3-1-3-2-2-4-1-3 1-4 1-3 4-3z"/><path fill="#e2514a" d="M367 327l3 0 3 1 3 2 1 3 0 5-1 3-3 2-3 1-3 0-3-2-3-4 0-3 1-3 2-3z"/><path fill="#d7414e" d="M367 329l5 0 2 1 2 3 0 3-1 3-2 2-3 2-4-1-3-5-1-2 1-3z"/><path fill="#c52c4b" d="M369 330l2 0 2 2 2 3-2 4-3 2-3 0-1-1-2-4 1-4z"/><path fill="#b11747" d="M369 333l2 0 1 2 0 1-2 2-2 0-1-2 0-2z"/></g><path class="ct" d="M331.2 334.5l-2.9 1.7-1.4 1.5-2.3 4.5-.9 6 1 7.5 2.5 6 1.9 3 2.7 3 2.4 1.8 3 1.5 4.5.2 3.5-2 2.9-4.5 1.1-6-1.1-7.5-3.4-8.3-4.5-6.3-1.5-1.1-3-1.4-4.5.4M362.7 311.8l4.5-.9 4.5.2 4.5 1.5 4.5 2.7 3.2 2.9 3.5 4.5 2.1 4.5 1.3 6-.1 6-1.5 6-7.2 15-5.5 15-3.3 5.3-1.5 1.5-3 1.4-3-.3-1.5-.9-3-4-1.5-4.5-2.3-13.5-7.4-19.5-1.4-7.5.5-6 2.5-6 5.1-5.8 3-2.1 3-1.5M364.2 319.3l3-.7 4.5.1 3 .9 3 1.7 3 2.6 2.3 3.3 1.9 6 0 4.5-.6 3-2.9 6-2.2 2.8-3 2.7-3 1.8-3 1-3 0-3-1.1-4.5-3.8-4.1-6.4-1.7-6 0-6 1.5-4.5 3.4-4.5 2.4-1.9 3-1.5M364.2 323.9l3-1 3-.1 4.5 1.3 3.7 3.1 2.3 4.5.6 3-.2 3-1.6 4.5-3.3 4.1-4.5 2.4-4.5.2-4.5-2.1-3-3.4-1.9-4.2-.5-4.5 1-4.5 2.9-4.2 3-2.1M365.7 327.1l3-.7 3 .3 3 1.7 2.4 3.3.8 3-.8 4.5-2.4 3.4-3 1.8-3 .5-3-.8-2.4-1.9-1.9-3-.7-4.5.7-3 2.1-3 2.2-1.6M367.2 331.2l3-.4 1.9.9 1.2 1.5.4 3-.5 1.7-1.5 1.6-3 .7-2.3-1-1.1-1.5-.5-3 .9-2.2 1.5-1.3"/></g><g class="hd"><circle cx="317.5" cy="348" r="59.2"/><path d="M305.1 290.11L317.5 279.92L329.9 290.11"/><path d="M376.34 337.64 377.88 334.65 378.83 334.54 380.24 335.04 381.66 337.64 381.44 345.95 382.26 357.89 380.49 363.08 377.88 364.04 375.4 361.53"/><path d="M258.66 337.64 257.12 334.65 256.17 334.54 254.76 335.04 253.34 337.64 253.56 345.95 252.74 357.89 254.51 363.08 257.12 364.04 259.6 361.53"/></g><g class="sn"><circle cx="296.7" cy="288.3" r="3.5"/><circle cx="338.3" cy="288.3" r="3.5"/><circle cx="261.3" cy="314" r="3.5"/><circle cx="373.7" cy="314" r="3.5"/><circle cx="289.7" cy="318.4" r="3.5"/><circle cx="317.7" cy="320" r="3.5"/><circle cx="345.3" cy="318.4" r="3.5"/><circle cx="237.9" cy="333.9" r="3.5"/><circle cx="397.1" cy="333.9" r="3.5"/><circle cx="270" cy="336" r="3.5"/><circle cx="302.4" cy="336.4" r="3.5"/><circle cx="332.6" cy="336.4" r="3.5"/><circle cx="365" cy="336" r="3.5"/><circle cx="287" cy="353" r="3.5"/><circle cx="317.5" cy="351.5" r="3.5"/><circle cx="348" cy="353" r="3.5"/><circle cx="254.2" cy="359.6" r="3.5"/><circle cx="380.8" cy="359.6" r="3.5"/><circle cx="303.9" cy="365.3" r="3.5"/><circle cx="331.1" cy="365.3" r="3.5"/><circle cx="275.9" cy="371.6" r="3.5"/><circle cx="359.1" cy="371.6" r="3.5"/><circle cx="317.5" cy="377.4" r="3.5"/><circle cx="294.9" cy="380.6" r="3.5"/><circle cx="340.1" cy="380.6" r="3.5"/><circle cx="250.2" cy="384.8" r="3.5"/><circle cx="384.8" cy="384.8" r="3.5"/><circle cx="274.5" cy="391.2" r="3.5"/><circle cx="360.5" cy="391.2" r="3.5"/><circle cx="302.7" cy="403.1" r="3.5"/><circle cx="317.5" cy="403.1" r="3.5"/><circle cx="332.3" cy="403.1" r="3.5"/></g><clipPath id="c14"><circle cx="542.5" cy="348" r="80.8"/></clipPath><g clip-path="url(#c14)"><g filter="url(#bl)"><rect x="458.7" y="264.2" width="167.6" height="167.6" fill="#fffebe"/><path fill="#fff3ac" d="M460 264l110 0-6 18-3 20-1 19 1 29-1 12-3 12-11 39-2 10 0 9-85 0 0-168z"/><path fill="#f6fbb0" d="M585 264l42 0 0 168-77 0-1-1-1-11 2-13 5-15 9-27 2-11 3-36 3-19 5-20 4-9z"/><path fill="#fee999" d="M495 265l37-1 3 4 4 7 5 14 3 14 3 27 5 24 0 12-1 11-4 13-14 42-70 0-7-9 0-77 7-17 7-29 4-12 8-13z"/><path fill="#edf8a3" d="M595 265l1-1 31 0 0 168-72 0-2-6-1-7 0-8 2-9 4-15 11-24 3-9 2-10 2-30 5-20 6-16z"/><path fill="#fedc88" d="M513 298l6 0 4 1 5 4 3 4 3 7 6 21 9 21 2 12-1 9-2 12-5 13-5 12-4 7-6 6-6 3-6 1-8-1-9-3-7-4-6-5-6-7-4-7-3-9-1-8 1-9 3-10 3-8 13-22 9-27 4-8 4-3z"/><path fill="#e1f399" d="M609 265l1-1 17 0 0 168-68 0-3-6-1-6 0-7 1-9 6-18 12-24 3-9 2-9 3-27 4-17 4-12 5-9 6-8z"/><path fill="#feca79" d="M516 331l3 0 4 3 8 7 7 9 7 12 1 6 1 6-1 9-2 9-3 9-4 8-5 6-4 4-6 2-6 1-6-1-6-2-6-3-6-5-5-6-3-6-2-6-1-7 2-12 3-8 4-6 17-21 4-5z"/><path fill="#cdeb9d" d="M621 270l6 1 0 159-3 2-61 0-3-6-3-7 0-8 1-9 6-16 14-23 4-9 2-9 3-28 4-15 6-13 7-10 8-6 4-2z"/><path fill="#fdb96a" d="M519 348l4 1 5 2 4 3 5 5 5 9 1 6 0 6-1 7-2 8-3 7-3 5-3 3-5 3-4 2-6 0-6-1-5-1-5-3-4-5-4-4-2-6-2-11 1-6 2-6 7-11 4-5 6-4 6-3z"/><path fill="#b8e2a1" d="M621 279l6 0 0 145-9 8-51 0-5-7-2-9 0-11 3-10 5-12 14-20 4-7 2-9 4-30 3-9 3-9 5-8 6-6 6-4z"/><path fill="#fca55d" d="M516 357l4 0 5 1 7 4 3 4 3 5 2 9-1 6-1 6-6 10-3 3-4 3-8 2-4-1-5-1-7-6-5-7-2-9 2-9 4-9 8-8z"/><path fill="#a2d9a4" d="M619 288l8 0 0 129-7 9-7 6-41 0-6-6-4-9 0-9 2-10 6-14 16-19 4-8 3-9 4-28 2-9 4-8 3-5 4-5 5-3z"/><path fill="#f88c51" d="M516 364l7 1 6 3 5 6 1 6-1 9-3 7-5 5-3 2-4 1-6-1-7-4-4-5-2-7 1-7 3-7 5-5z"/><path fill="#89d0a4" d="M619 297l5 0 3 0 0 113-4 7-5 6-5 5-6 4-30 0-7-6-5-8-1-10 2-10 3-8 4-6 17-18 4-6 3-9 3-24 4-13 6-11 5-4z"/><path fill="#f57547" d="M516 372l4 0 5 1 3 4 2 4 0 6-2 4-3 4-5 2-4 0-5-2-2-3-2-5 0-4 1-5 3-3z"/><path fill="#6ec5a5" d="M618 308l4-2 5 1-1 94-2 7-4 8-4 6-6 5-6 3-5 2-16 0-8-4-4-4-2-4-3-9 1-10 4-9 5-7 6-7 12-10 6-8 3-9 2-19 2-9 5-10z"/><path fill="#5ab4ab" d="M621 319l3 0 3 2 0 45-2 9-2 21-2 11-3 6-4 6-4 4-4 3-5 3-6 1-6 0-6-1-8-4-2-3-3-5-2-9 2-9 4-8 6-7 6-5 14-10 7-6 3-7 1-20 2-7 3-6z"/><path fill="#47a0b3" d="M603 375l4-1 5 0 3 3 2 3 1 6 1 7 0 8-2 7-3 6-3 5-8 6-5 2-6 1-9-2-7-4-4-6-1-8 1-9 4-7 7-8 9-5z"/><path fill="#358bbc" d="M598 381l8 0 3 2 3 3 2 4 1 5-1 10-4 9-4 5-3 3-8 3-4 0-5-1-6-2-4-5-3-7 1-8 3-7 5-6 7-5z"/><path fill="#3f77b5" d="M597 386l6 0 3 2 2 2 2 4 1 4 0 7-4 8-5 6-7 3-7 0-6-3-4-5-2-6 1-6 3-7 5-4 6-4z"/><path fill="#4e63ac" d="M591 393l4-1 6 1 3 4 1 5-1 6-3 5-4 3-5 1-4 0-4-3-2-3-1-4 0-5 2-3 3-4z"/></g><path class="ct" d="M592.2 388.4l-6 2.9-4.5 4.3-3 5.1-1.2 6 .3 3 .9 3 3 4.3 4.5 2.7 4.5.9 3-.2 3-.8 3-1.4 3.3-2.5 2.6-3 1.7-3 1.4-3.9.5-3.6-.5-6-1.5-3.3-2.3-2.7-2.2-1.5-3-.9-3-.2-4.5.8M602.7 376.6l-9 2.7-9 5.1-4.5 3.8-3 3.5-4.1 7.5-1.5 7.5.2 4.5.9 3.4 2.1 4.1 2.4 2.9 3 2.4 3 1.5 4.5 1.3 4.5.2 4.5-.6 4.6-1.7 4.4-2.7 3.7-3.3 3.4-4.5 2.3-4.5 1.9-6 .9-7.5-.3-6-1.5-6-1.4-3-3-3.3-4.5-1.5-4.5.2M626.7 309.6l-3-.9-4.5.5-4.4 3-3.1 4-2.5 5-2 6.7-1.2 6.8-2 18-2.5 7.5-2.9 4.5-2.9 3-12.5 10.2-6.5 6.3-5.3 7.5-3.2 7.3-1.4 6.2-.2 4.5.9 6 1.8 4.5 3.1 4.5 3.3 3 4.5 2.7 5.8 1.8M596.6 432.2l5.3-1.5 5.3-2.6 4.6-3.4 4.3-4.5 3.2-4.5 3.1-6 2.2-6 2.1-8.7M626.7 289.1l-3-.6-3 .1-3 .7-3 1.3-3 2-3 2.8-4.5 6.2-3.7 7.6-2.8 9-2 10.5-2.3 19.5-2.5 9-4.4 7.5-10.8 12.5-4.5 5.9-3.4 5.6-2.8 6-1.9 6-.8 4.5-.4 6 .4 4.5 1.2 4.5 2.1 4.5 2.6 3.7 4 3.8M612.2 432.2l7.3-6 3.9-4.5 3.3-4.9M626.7 270.5l-6-.3-4.5.9-4.5 1.9-4.5 3.2-4.5 4.4-3.5 4.6-3.5 6-3.4 7.5-2.9 9-2.1 9-3.4 28.5-2.1 9-4.1 9-9.5 14.8-4.1 7.7-3.4 8.1-2.4 8.4-1.3 9 .4 7.5 2.2 7.5 3.7 6M624.2 432.2l2.5-2.4M595 264.2l-4.3 6-4.2 7.5-3.3 7.5-3.2 9-2.3 9-2 10.5-2.8 31.5-1.6 9-3 9-10.1 24-4.6 15-1.8 9-.4 7.5.8 7.5 2 6M565.7 264.2l-2.9 9-1.7 7.5-1.5 9-1.2 12-.7 19.5 1.8 30-.6 12-2.9 13.5-11.2 39-1.8 9-.5 7.5M515.7 305.9l4.5.5 3 1.8 3 3.1 2.4 3.9 7.6 19.5 8 15.3 3 6.8 2 7.9.4 7.5-.9 9-3 12-4.5 12.3-4.5 8.8-4.5 6.1-3 2.7-3 2-6 2.2-6 .5-7.5-1.2-7.5-2.8-7.5-4.8-5.1-4.8-4.6-6-3.7-7.5-2.1-7.5-.7-9 1.2-9 3-9 3.8-7.5 12.6-21 8.9-22.5 1.8-3 2.9-3.3 3-2 3-1M514.2 352.6l4.5-.6 4.5.6 4.5 1.9 4.5 3.1 4 4.1 2.8 4.5 1.8 4.5 1 6-.2 6-1 6-2.4 7.2-3 5.8-3 4.1-4.5 4-4.5 2.2-4.5 1-4.5-.1-6-1.5-4.5-2.3-4.5-3.6-3-3.5-2.6-4.3-1.7-4.5-1.1-6 .2-6 1-4.5 2.3-6 2.7-4.5 3.7-4.6 4.5-4.2 4.5-3 4.5-1.8M518.7 367.6l3 .3 3 1 4.5 3.4 1.9 2.9 1.1 2.7.6 6.3-1.3 6-1.5 3-2.3 3.1-4.5 3.3-3 .9-3 .2-3-.5-3-1.2-4.5-3.9-2.6-4.9-.9-6 1.4-6 3.6-5.5 4.5-3.5 3-1.1 3-.5"/></g><g class="hd"><circle cx="542.5" cy="348" r="59.2"/><path d="M530.1 290.11L542.5 279.92L554.9 290.11"/><path d="M601.34 337.64 602.88 334.65 603.83 334.54 605.24 335.04 606.66 337.64 606.44 345.95 607.26 357.89 605.49 363.08 602.88 364.04 600.4 361.53"/><path d="M483.66 337.64 482.12 334.65 481.17 334.54 479.76 335.04 478.34 337.64 478.56 345.95 477.74 357.89 479.51 363.08 482.12 364.04 484.6 361.53"/></g><g class="sn"><circle cx="521.7" cy="288.3" r="3.5"/><circle cx="563.3" cy="288.3" r="3.5"/><circle cx="486.3" cy="314" r="3.5"/><circle cx="598.7" cy="314" r="3.5"/><circle cx="514.7" cy="318.4" r="3.5"/><circle cx="542.7" cy="320" r="3.5"/><circle cx="570.3" cy="318.4" r="3.5"/><circle cx="462.9" cy="333.9" r="3.5"/><circle cx="622.1" cy="333.9" r="3.5"/><circle cx="495" cy="336" r="3.5"/><circle cx="527.4" cy="336.4" r="3.5"/><circle cx="557.6" cy="336.4" r="3.5"/><circle cx="590" cy="336" r="3.5"/><circle cx="512" cy="353" r="3.5"/><circle cx="542.5" cy="351.5" r="3.5"/><circle cx="573" cy="353" r="3.5"/><circle cx="479.2" cy="359.6" r="3.5"/><circle cx="605.8" cy="359.6" r="3.5"/><circle cx="528.9" cy="365.3" r="3.5"/><circle cx="556.1" cy="365.3" r="3.5"/><circle cx="500.9" cy="371.6" r="3.5"/><circle cx="584.1" cy="371.6" r="3.5"/><circle cx="542.5" cy="377.4" r="3.5"/><circle cx="519.9" cy="380.6" r="3.5"/><circle cx="565.1" cy="380.6" r="3.5"/><circle cx="475.2" cy="384.8" r="3.5"/><circle cx="609.8" cy="384.8" r="3.5"/><circle cx="499.5" cy="391.2" r="3.5"/><circle cx="585.5" cy="391.2" r="3.5"/><circle cx="527.7" cy="403.1" r="3.5"/><circle cx="542.5" cy="403.1" r="3.5"/><circle cx="557.3" cy="403.1" r="3.5"/></g><clipPath id="c15"><circle cx="767.5" cy="348" r="80.8"/></clipPath><g clip-path="url(#c15)"><g filter="url(#bl)"><rect x="683.7" y="264.2" width="167.6" height="167.6" fill="#fffebe"/><path fill="#fff3ac" d="M736 330l8 0 7 1 8 3 7 4 6 5 5 5 3 6 2 6 1 8-1 7-3 8-4 7-4 6-6 6-6 3-8 3-9 1-9-2-9-2-7-4-10-8-14-12-6-7-3-7 0-25 4-6 6-2 11 2 6 0z"/><path fill="#f6fbb0" d="M685 264l167 0 0 168-168 0 0-53 4 5 7 6 13 10 10 6 8 3 7 2 8 1 7 0 8-2 6-3 6-4 6-6 4-7 5-9 2-9 1-7 0-6-2-6-6-10-9-9-12-6-9-2-9-1-28 4-18-3-5 1-4 3 0-66z"/><path fill="#fee999" d="M735 335l7-1 6 1 8 2 6 3 6 4 4 4 4 6 2 6 2 6-1 8-2 7-3 6-4 6-5 5-6 4-6 2-9 1-9-1-9-2-8-5-9-7-11-12-6-9-3-7-1-6 0-5 2-3 3-3 3-1 13-2 17-5z"/><path fill="#edf8a3" d="M685 264l167 0 0 168-168 0 0-43 6 5 9 6 12 7 10 5 9 3 8 1 7 0 8-1 7-2 6-4 6-6 5-6 5-8 4-9 3-9 1-8-1-6-1-6-5-10-9-10-12-7-9-3-9-1-9 0-21 2-6-1-15-4-5 0-4 2 0-55z"/><path fill="#fedc88" d="M732 339l7-1 6 0 6 1 6 2 6 4 5 4 3 4 3 6 2 6 1 6-1 6-2 6-4 6-4 4-4 4-6 3-8 2-7 0-9-1-8-4-7-5-7-6-6-9-4-8-1-4-1-5 1-3 2-3 18-10z"/><path fill="#e1f399" d="M685 264l167 0 0 168-168 0 0-33 9 6 16 8 11 5 9 2 10 2 9 0 8-2 7-4 6-5 5-5 10-16 8-18 2-7 0-6-2-12-6-12-9-10-11-7-9-3-9-2-10-1-23 2-6-1-16-5-5 0-4 1 0-45z"/><path fill="#feca79" d="M735 342l6-1 6 1 10 3 9 7 4 5 2 5 1 4 1 6-2 6-1 5-3 5-4 4-5 4-5 2-6 1-7 0-8-1-6-2-6-4-5-5-4-6-4-7-1-6 0-5 2-4 2-3 5-5 6-4 7-3z"/><path fill="#cdeb9d" d="M685 264l167 0 0 168-168 0 0-19 9 5 18 7 19 5 9 1 9 0 8-2 6-4 6-5 6-7 13-23 10-21 2-7 0-8 0-6-2-7-6-14-8-10-9-7-8-3-10-2-14-1-25 0-8-1-16-5-9-1 0-33z"/><path fill="#fdb96a" d="M738 345l10 0 10 5 7 6 3 4 2 5 1 4-1 6-3 9-7 7-9 5-6 1-6 0-6-2-6-3-5-3-4-5-3-4-2-6-1-5 0-4 2-5 3-4 5-5 5-3z"/><path fill="#b8e2a1" d="M685 264l167 0 0 168-81 0 6-16 23-45 6-15 0-9 0-9-5-20-3-9-2-3-3-3-6-2-6-2-18-2-46-1-12-2-21-7 0-23z"/><path fill="#fca55d" d="M741 348l9 1 9 5 6 7 3 8-1 9-5 8-6 5-9 3-11-1-9-4-7-8-2-4-1-5 0-4 1-5 5-7 4-3 5-3z"/><path fill="#a2d9a4" d="M685 264l160 0 2 5 1 6-3 13 0 5 2 4 5 8 0 127-71 0 0-1 0-11 4-15 10-18 16-27 4-9 2-9 1-21 5-18 0-3-2-3-2-2-5-2-13-2-20 0-49 1-12-1-9-2-15-5-10-6-2-3 0-10z"/><path fill="#f88c51" d="M736 352l9 0 8 2 6 5 4 6 2 7-2 7-4 6-6 4-9 2-9-2-8-4-5-7-1-7 1-8 5-6 5-3z"/><path fill="#89d0a4" d="M696 265l125-1 3 3 0 3-1 5-4 3-6 2-8 2-46 4-30 2-17-3-7-2-6-4-4-3-2-4 0-3zM835 349l3 0 3 2 5 5 6 10 0 66-64 0-2-9 0-9 3-10 6-12 7-12 9-10 17-16z"/><path fill="#f57547" d="M738 356l7-1 6 2 6 5 3 4 1 6-1 6-3 5-6 4-7 1-8-1-6-4-4-6-1-8 2-6 5-5z"/><path fill="#6ec5a5" d="M705 266l1-2 93 0 2 2 1 3-1 3-2 1-14 5-32 5-23 1-13-2-6-2-5-2-3-3-1-3 0-3zM831 366l6 1 4 2 6 5 5 6 0 52-58 0-4-9 0-9 2-10 5-11 7-10 9-9 9-5z"/><path fill="#ed6246" d="M738 360l4-1 6 1 5 3 3 3 1 5 0 4-3 5-3 3-6 2-6-1-5-3-4-4-1-6 1-5 3-4z"/><path fill="#5ab4ab" d="M715 266l3-2 56 0 3 2 1 1 0 2 0 1-4 3-12 3-17 3-15 1-10-2-7-3-1-2-1-3 2-3zM825 374l7-1 8 3 6 5 5 8 1 1 0 35-6 7-46 0-4-6-3-7 1-9 2-9 5-9 7-9 8-6z"/><path fill="#e2514a" d="M741 364l6 1 3 2 1 2 1 3-1 3-1 3-3 1-5 1-3-1-3-2-1-3-1-3 2-3 2-2z"/><path fill="#47a0b3" d="M730 267l6-1 8 1 6 2 0 1-1 2-7 2-6 1-6-1-4-1-2-1 0-2 2-1zM820 380l9-2 8 3 7 6 6 9 2 8-1 12-4 9-7 7-35 0-4-4-3-6-1-6 0-6 1-6 3-6 4-7 5-5 4-3z"/><path fill="#358bbc" d="M820 384l5-1 4 0 8 3 6 6 4 9 1 9-2 9-5 7-8 6-21 0-7-5-2-4-2-4-1-5 0-6 4-10 7-9 5-3z"/><path fill="#3f77b5" d="M825 387l7 2 7 4 4 8 1 9-1 7-5 8-7 4-9 2-8-2-6-4-4-8-1-7 2-8 5-7 7-6z"/><path fill="#4e63ac" d="M823 393l6 1 5 2 4 6 1 6-1 6-3 6-6 4-6 1-5 0-5-4-3-4-2-6 2-7 3-5 5-4z"/></g><path class="ct" d="M833.4 432.2l3.3-1.9 3.3-2.6 2.7-3 2.8-4.5 2.4-7.5.3-4.5-.4-4.5-2.3-7.5-2.7-4.5-2.7-3-3.4-2.7-3-1.6-3-1-4.5-.5-4.5.5-3 1-4.5 2.3-3 2.3-3 2.9-3.3 4.3-2.5 4.5-1.6 4.5-.9 4.5-.1 4.5.8 4.5 1.2 3 1.7 3 2.5 3 3.7 3 2.6 1.5M708.4 264.2l-3.3 3-1.3 3 .4 3 .9 1.5 2.6 2.5 4.5 2.5 6 1.9 7.5 1.2 7.5.4 12-.6 15-1.8 18-2.9 9-2.2 6.4-2.5 3.6-3 .6-1.5-.2-1.5-2.8-3M851.7 382l-4.5-5.8-4.5-4.1-4.5-2.7-6-1.5-4.5.2-6 1.8-6 3.3-6 4.7-6 6.5-5.1 7.3-4.6 9-2.6 7.5-1.1 7.5.4 6 1.9 6 2.6 4.5M851 432.2l.7-.9M683.7 282.8l16.5 6.8 13.5 3.6 13.5 1.3 39 0 19.5 1 7.5 1.2 6 1.9 3 1.7 2.9 2.9 1.5 3 .9 4.5 2.3 27 .1 9-1.1 7.5-1.9 6-2.7 6-15.5 28.5-7.9 16.5-4.1 12-.8 4.5-.1 4.5M683.7 313.2l4.5-1.6 4.5-.1 4.5 1 12 4 6 .8 19.5-1.7 10.5.1 9 1.4 9 3 6 3 6 4.1 4.5 4.1 4.5 5.4 3.4 5.5 2.6 6 1.5 6 .6 6-.7 7.5-2.5 9-3.8 9-5.8 10.5-5.8 8.1-6 6.3-6 4.2-6 2.7-7.5 1.6-7.5.4-9-1-7.5-1.8-9-3.4-12-6.1-12-6.8-7.5-5.8M683.7 345.9l1.5-3.7 2.1-3 2.4-1.9 3-1.1 3-.2 10.5 1.1 4.5-.3 18-4.6 9-1.3 7.5.2 6 1 6 1.8 6 2.9 6 4.2 4.5 4.4 3.2 4.3 3 6 1.7 6 .5 6-.9 7.5-3.2 9-4.3 7.5-5.1 6-5.6 4.5-7.3 3.6-7.5 1.8-7.5.2-7.5-1.1-7.5-2.3-7.5-3.8-8.5-5.9-11.9-10.5-7.1-7.5-4.1-6-2.9-7.5M734.7 342.1l6-.6 6 .3 6 1.5 4.5 1.9 4.5 2.7 4.5 4 3.9 5.3 2.1 4.5 1.1 4.5.3 6-1.1 6-1.8 4.5-3 4.9-3.7 4.1-5.3 3.9-4.5 2.1-6 1.5-7.5.2-7.5-1.4-6-2.4-6-3.9-4.9-4.5-4.6-6-3.7-7.5-1.3-6 .2-4.5 1.7-4.5 2.2-3 4.7-4.5 6.8-4.5 6.4-2.9 6-1.7M739.2 351l4.5-.1 4.5.7 4.5 1.6 3 1.7 3 2.3 2.7 3 1.8 3 1.5 4.1.5 3.4-.3 4.5-1.5 4.5-1.7 2.9-4.5 4.7-3 1.9-4.5 1.8-4.5.7-4.5-.1-4.5-1-4.5-1.9-4.4-3-2.9-3-2.1-3-1.9-4.5-.7-4.5.2-3 1.3-4.3 1.9-3.2 2.6-3 4.5-3.3 4.5-1.9 4.5-1M737.7 362.9l3-1 4.5.1 3.5 1.2 3.6 3 1.6 3 .4 4.5-1.1 3-2.6 3-3.9 1.9-4.5.4-4.5-1.4-3.1-2.4-1.4-1.9-1-2.6 0-4.5 1-2.2 1.5-2 3-2.1"/></g><g class="hd"><circle cx="767.5" cy="348" r="59.2"/><path d="M755.1 290.11L767.5 279.92L779.9 290.11"/><path d="M826.34 337.64 827.88 334.65 828.83 334.54 830.24 335.04 831.66 337.64 831.44 345.95 832.26 357.89 830.49 363.08 827.88 364.04 825.4 361.53"/><path d="M708.66 337.64 707.12 334.65 706.17 334.54 704.76 335.04 703.34 337.64 703.56 345.95 702.74 357.89 704.51 363.08 707.12 364.04 709.6 361.53"/></g><g class="sn"><circle cx="746.7" cy="288.3" r="3.5"/><circle cx="788.3" cy="288.3" r="3.5"/><circle cx="711.3" cy="314" r="3.5"/><circle cx="823.7" cy="314" r="3.5"/><circle cx="739.7" cy="318.4" r="3.5"/><circle cx="767.7" cy="320" r="3.5"/><circle cx="795.3" cy="318.4" r="3.5"/><circle cx="687.9" cy="333.9" r="3.5"/><circle cx="847.1" cy="333.9" r="3.5"/><circle cx="720" cy="336" r="3.5"/><circle cx="752.4" cy="336.4" r="3.5"/><circle cx="782.6" cy="336.4" r="3.5"/><circle cx="815" cy="336" r="3.5"/><circle cx="737" cy="353" r="3.5"/><circle cx="767.5" cy="351.5" r="3.5"/><circle cx="798" cy="353" r="3.5"/><circle cx="704.2" cy="359.6" r="3.5"/><circle cx="830.8" cy="359.6" r="3.5"/><circle cx="753.9" cy="365.3" r="3.5"/><circle cx="781.1" cy="365.3" r="3.5"/><circle cx="725.9" cy="371.6" r="3.5"/><circle cx="809.1" cy="371.6" r="3.5"/><circle cx="767.5" cy="377.4" r="3.5"/><circle cx="744.9" cy="380.6" r="3.5"/><circle cx="790.1" cy="380.6" r="3.5"/><circle cx="700.2" cy="384.8" r="3.5"/><circle cx="834.8" cy="384.8" r="3.5"/><circle cx="724.5" cy="391.2" r="3.5"/><circle cx="810.5" cy="391.2" r="3.5"/><circle cx="752.7" cy="403.1" r="3.5"/><circle cx="767.5" cy="403.1" r="3.5"/><circle cx="782.3" cy="403.1" r="3.5"/></g><clipPath id="c16"><circle cx="992.5" cy="348" r="80.8"/></clipPath><g clip-path="url(#c16)"><g filter="url(#bl)"><rect x="908.7" y="264.2" width="167.6" height="167.6" fill="#fffebe"/><path fill="#fff3ac" d="M910 264l167 0 0 168-168 0 0-168zM964 299l-12 2-10 4-9 7-6 6-4 8-2 9 0 9 2 9 5 9 6 8 8 6 10 5 12 5 11 2 10-1 11-2 7-4 7-4 6-6 4-6 3-8 1-7 0-8-2-7-3-8-6-7-6-6-8-6-9-5-9-3-8-1z"/><path fill="#f6fbb0" d="M952 306l8-1 7 0 8 2 6 2 7 4 5 5 5 6 3 6 3 8 0 6-1 7-2 6-3 6-4 5-5 4-7 4-7 2-8 1-7-1-9-3-8-4-7-6-6-7-4-7-3-7 0-8 2-7 2-6 4-6 6-5 8-4z"/><path fill="#fee999" d="M910 264l167 0 0 168-168 0 0-168zM963 291l-12 4-11 6-10 8-7 9-4 11-2 10 1 11 5 12 5 9 8 7 33 18 7 4 9 2 11 0 10-3 9-3 10-6 7-7 7-9 4-9 2-11 0-10-2-11-3-9-6-9-7-7-7-6-9-5-12-4-12-2-12-1z"/><path fill="#edf8a3" d="M948 311l6-1 7-1 6 2 6 2 6 3 5 4 6 9 3 10 0 6-1 6-3 6-3 5-5 4-5 3-6 2-7 1-6-1-8-2-6-3-6-4-5-5-4-6-2-6-1-6 0-6 2-6 4-6 5-4 6-4z"/><path fill="#fedc88" d="M910 264l167 0 0 168-168 0 0-168zM978 279l-15 3-14 5-12 8-10 10-7 10-5 12-2 12 1 14 5 15 3 6 4 4 6 5 16 7 7 5 20 17 6 3 7 1 9 0 9-1 12-4 12-6 11-9 8-10 7-12 3-12 2-14-2-13-3-12-6-12-9-11-11-9-10-6-14-4-13-2z"/><path fill="#e1f399" d="M946 314l11-1 10 2 9 6 6 8 3 9 0 4-1 6-1 5-3 4-4 4-4 3-6 2-6 1-6-1-6-1-6-3-5-3-4-5-3-4-2-6-1-6 1-6 1-5 3-4 4-4 4-3z"/><path fill="#feca79" d="M910 264l167 0 0 168-168 0 0-72 3 12 6 9 6 5 18 6 10 6 7 7 8 13 5 5 4 3 6 2 8 1 9 0 15-3 13-5 14-8 10-9 9-12 7-14 5-15 1-15-1-15-4-13-6-14-9-12-11-10-12-8-13-5-15-3-15-1-17 3-15 5-13 7-12 9-9 11-7 12-5 14 0-64z"/><path fill="#cdeb9d" d="M951 315l9 1 9 4 6 7 4 8 0 9-2 7-4 5-3 2-7 4-5 1-6 0-6-2-4-2-8-6-3-5-2-4 0-5 0-6 1-4 3-5 4-4 5-3z"/><path fill="#fdb96a" d="M910 264l45 0-15 8-12 9-10 12-9 14 0-43zM1030 264l47 0 0 48-8-15-11-13-13-11zM1077 384l0 48-48 0 15-8 13-11 11-14zM910 386l3 3 3 2 21 4 6 2 6 4 5 4 2 5 7 18 3 4-57 0 0-48z"/><path fill="#b8e2a1" d="M946 318l9-1 8 3 6 5 4 7 2 7-1 8-4 6-3 3-4 2-9 2-9-2-5-2-4-3-5-8-1-4 0-5 2-7 5-7 5-3z"/><path fill="#fca55d" d="M910 264l25 0-14 12-12 14 0-26zM1050 264l27 0 0 28-12-15zM910 399l5 0 18-1 6 1 6 3 5 5 3 7 2 6 0 12-46 0 0-34zM1077 404l0 28-28 0 8-6 8-7z"/><path fill="#a2d9a4" d="M946 320l8-1 7 3 6 5 3 6 1 8-1 6-4 5-6 4-8 1-9-2-6-4-5-7 0-8 2-7 5-6z"/><path fill="#f88c51" d="M910 264l11 0-12 12 0-12zM1065 264l12 0 0 13-13-13zM925 404l6-2 6 1 5 2 4 4 3 5 0 5 0 6-3 7-37 0 0-22 4 0zM1077 419l0 13-14 0z"/><path fill="#89d0a4" d="M948 321l7 0 6 3 4 5 3 6 0 7-2 6-5 4-6 3-7 0-6-2-6-6-3-6 0-6 3-7 4-4z"/><path fill="#f57547" d="M1077 264l0 1-1-1zM931 408l5 0 3 1 3 2 1 3 1 6-4 7-4 3-4 2-23 0 0-6 6 3 3-1 2-9 2-5 5-4zM1077 431l0 1-1 0z"/><path fill="#6ec5a5" d="M948 323l6 0 6 3 4 4 2 6 0 6-2 5-4 4-6 2-6 0-6-2-5-4-2-6-1-6 3-6 5-4z"/><path fill="#5ab4ab" d="M948 324l6 1 4 2 4 5 2 4-1 6-2 4-4 4-5 1-6 0-4-2-4-4-2-6 0-6 3-4 4-4z"/><path fill="#47a0b3" d="M948 326l4 0 5 2 3 4 2 4 0 5-3 4-3 3-4 2-6-1-4-2-3-3-2-5 0-4 2-5 4-3z"/><path fill="#358bbc" d="M948 327l4 0 3 2 3 3 2 4 0 5-2 3-3 3-4 1-5 0-3-2-3-3-2-4 1-4 1-3 3-3z"/><path fill="#3f77b5" d="M949 329l3 0 4 3 1 3 1 3-1 3-1 3-4 2-3 0-4-1-2-1-2-3-1-3 0-3 2-3 3-2z"/><path fill="#4e63ac" d="M948 331l3 1 2 1 2 5-1 3-1 1-4 2-4-2-2-2 0-2 0-3 1-2z"/></g><path class="ct" d="M946.2 332.4l-1.5.9-1.7 2.9.1 3 .9 1.5 1.5 1.5 2.2.8 1.5.1 2.8-.9 1.5-1.5.6-1.5.3-1.5-.7-3-1.3-1.5-1.7-.9-1.5-.4-3 .5M944.7 326.8l-3 1.7-1.5 1.4-2 3.3-.9 4.5 1 4.5 1.9 3 4.5 3.3 4.5.9 3-.2 2.7-1 3.3-2.4 2.3-3.6.8-4.5-1-4.5-2.1-3.3-4.5-3.1-4.5-.9-4.5.9M944.7 322.4l-3 1.3-2.8 2-3.5 4.5-1.3 3-.5 3 .2 4.5.9 3 1.7 3 2.3 2.8 4.5 3.1 6 1.6 4.5-.1 3-.8 3-1.4 2.8-2.2 3.3-4.5 1-3 .5-3-.9-6-1.4-3-2.2-3-4.6-3.6-6-1.9-4.5 0-3 .7M950.7 316.6l-4.5.7-4.5 1.6-4.5 2.8-3 3.1-2.5 3.9-1.6 4.5-.5 4.5.5 4.5 1.5 4.5 1.7 3 2.4 3 4.5 3.8 4.5 2.3 4.5 1.3 6 .5 4.5-.6 4-1.3 3.5-1.9 3.2-2.6 2.4-3 1.7-3 1.4-4.5.3-4.5-.6-4.5-1.7-4.5-1.7-3-2.5-3-3.5-3-3.5-2.1-4.5-1.7-7.5-.8M953.7 309.2l-6 1.1-7.5 3-5.1 3.4-4.4 4.5-3.6 6-1.8 6-.5 6 1.4 7.5 2.6 6 3.9 5.5 6 5.5 6 3.8 7.5 3.1 7.5 1.7 7.5.1 6-1.3 6-2.7 4.5-3.3 4.5-4.9 2.7-4.5 1.7-4.5 1.2-6 0-6-1.2-6-2.5-6-2.9-4.5-4.2-4.5-5.3-3.9-6-2.9-6-1.7-6-.7-6 .2M970.2 291.2l-12 2-6 1.9-6 2.7-6 3.5-4.5 3.3-4.5 4-4.5 5-3.1 4.6-2.4 4.5-1.7 4.5-1.4 6-.5 6 .4 6 2.6 10.5 2.5 6 3.5 6 3.4 4.5 4.2 4 7.5 5 28.5 14.8 9 3.3 9 1.1 10.5-.9 10.5-2.8 10.2-5 7.8-6 6.6-7.5 5.3-9 3.1-9 1.4-10.5-.7-10.5-2.4-9-4.3-8.9-5.5-7.6-6.5-6.3-9-6.2-10.5-4.8-12-3.5-12-1.7-10.5 0M962.8 264.2l-9.1 3.6-9 4.6-7.5 4.9-7.5 6-6.4 6.4-5.6 6.9-5.2 8.1-3.8 7.5M1076.7 320.7l-3.9-10-4.9-9-6.2-8.9-6-6.8-7.5-6.8-8.4-6-9.6-5.3-9.2-3.7M908.7 378.9l2.3 3.8 2.2 2.6 4.5 3.2 4.5 1.6 12 2.4 6 1.8 6 2.9 4.5 3.3 4.4 4.7 2.9 4.5 6.2 14.8 1.5 2.7 3 3.4 2.3 1.6M1019.8 432.2l10.4-4.1 9-4.9 8.5-6 8-7.2 6.8-7.8 5.2-7.5 4.9-9 4.1-10.4M914.7 264.2l-6 6M1076.7 270.8l-6.5-6.6M908.7 417.7l3-.2 1.5-.7 7.8-7.1 5.7-3.6 3-1 3-.3 3 .2 3 .9 3.6 2.3 2.4 2.8 1.5 3.2.5 3-.2 4.5-.9 3-4.4 7.5M1069.7 432.2l7-7"/></g><g class="hd"><circle cx="992.5" cy="348" r="59.2"/><path d="M980.1 290.11L992.5 279.92L1004.9 290.11"/><path d="M1051.34 337.64 1052.88 334.65 1053.83 334.54 1055.24 335.04 1056.66 337.64 1056.44 345.95 1057.26 357.89 1055.49 363.08 1052.88 364.04 1050.4 361.53"/><path d="M933.66 337.64 932.12 334.65 931.17 334.54 929.76 335.04 928.34 337.64 928.56 345.95 927.74 357.89 929.51 363.08 932.12 364.04 934.6 361.53"/></g><g class="sn"><circle cx="971.7" cy="288.3" r="3.5"/><circle cx="1013.3" cy="288.3" r="3.5"/><circle cx="936.3" cy="314" r="3.5"/><circle cx="1048.7" cy="314" r="3.5"/><circle cx="964.7" cy="318.4" r="3.5"/><circle cx="992.7" cy="320" r="3.5"/><circle cx="1020.3" cy="318.4" r="3.5"/><circle cx="912.9" cy="333.9" r="3.5"/><circle cx="1072.1" cy="333.9" r="3.5"/><circle cx="945" cy="336" r="3.5"/><circle cx="977.4" cy="336.4" r="3.5"/><circle cx="1007.6" cy="336.4" r="3.5"/><circle cx="1040" cy="336" r="3.5"/><circle cx="962" cy="353" r="3.5"/><circle cx="992.5" cy="351.5" r="3.5"/><circle cx="1023" cy="353" r="3.5"/><circle cx="929.2" cy="359.6" r="3.5"/><circle cx="1055.8" cy="359.6" r="3.5"/><circle cx="978.9" cy="365.3" r="3.5"/><circle cx="1006.1" cy="365.3" r="3.5"/><circle cx="950.9" cy="371.6" r="3.5"/><circle cx="1034.1" cy="371.6" r="3.5"/><circle cx="992.5" cy="377.4" r="3.5"/><circle cx="969.9" cy="380.6" r="3.5"/><circle cx="1015.1" cy="380.6" r="3.5"/><circle cx="925.2" cy="384.8" r="3.5"/><circle cx="1059.8" cy="384.8" r="3.5"/><circle cx="949.5" cy="391.2" r="3.5"/><circle cx="1035.5" cy="391.2" r="3.5"/><circle cx="977.7" cy="403.1" r="3.5"/><circle cx="992.5" cy="403.1" r="3.5"/><circle cx="1007.3" cy="403.1" r="3.5"/></g><clipPath id="c17"><circle cx="1217.5" cy="348" r="80.8"/></clipPath><g clip-path="url(#c17)"><g filter="url(#bl)"><rect x="1133.7" y="264.2" width="167.6" height="167.6" fill="#fffebe"/><path fill="#fff3ac" d="M1135 264l167 0 0 8-7 9-8 8-12 7-14 6-10 3-9 1-12-2-32-6-7 0-6 1-6 2-5 4-13 15-8 7-9 4-7 1-3 0 0-68zM1200 396l24 0 22 1 23 3 18 5 8 3 7 4 0 20-168 0 0-20 3-2 12-5 13-4 17-3z"/><path fill="#f6fbb0" d="M1185 303l9-1 9 2 7 5 4 8 2 9-2 9-6 7-4 3-4 2-9 1-9-2-7-5-5-8-1-4 0-5 3-9 5-8z"/><path fill="#fee999" d="M1135 264l137 0-5 8-6 6-7 5-9 5-12 4-11 2-31 0-11 2-7 4-15 13-6 3-6 1-6-1-6-2 0-50zM1213 420l10 0 4 2 1 1-1 2-5 1-10 0-4-1-1-2 1-1z"/><path fill="#edf8a3" d="M1185 306l6-1 7 1 5 3 4 6 1 8-2 6-3 4-6 4-6 1-6-1-6-5-3-5-1-6 1-6 4-6z"/><path fill="#fedc88" d="M1135 264l126 0-4 6-5 5-7 5-9 4-9 3-11 2-31 2-8 1-6 4-15 12-4 2-5 1-7-2-6-4 0-41z"/><path fill="#e1f399" d="M1189 308l5 0 4 2 4 4 2 4-1 6-2 4-4 4-5 1-4 0-5-2-3-4-2-4 0-6 3-5 4-3z"/><path fill="#feca79" d="M1135 264l118 0-3 5-5 5-6 4-8 3-9 3-10 2-30 2-8 1-7 4-12 10-3 2-5 0-4-1-3-1-3-3-3-5 0-31z"/><path fill="#cdeb9d" d="M1188 310l4 0 3 1 3 2 2 4 1 4-1 3-2 3-4 3-5 0-3-1-3-2-2-4 0-5 1-3 2-3z"/><path fill="#fdb96a" d="M1135 264l112 0-3 5-5 4-6 4-8 3-18 4-28 1-8 1-7 4-11 8-6 2-3-1-3-2-3-5z"/><path fill="#b8e2a1" d="M1188 313l3-1 3 1 3 4 1 3-1 3-3 3-3 1-3-1-4-3-1-3 1-3z"/><path fill="#fca55d" d="M1141 264l101 0-4 5-5 4-14 6-18 3-33 1-6 2-9 6-4 1-3-1-2-4-2-12-2-11z"/><path fill="#a2d9a4" d="M1189 316l3 0 2 2 0 3-2 2-3 0-2-2 0-3z"/><path fill="#f88c51" d="M1146 264l91 0-3 4-4 3-11 5-13 3-15 1-33 0-5 0-3-3-2-4-3-9z"/><path fill="#f57547" d="M1150 264l83 0-7 6-10 5-12 2-13 1-21-1-11-2-4-2-3-3-3-6z"/><path fill="#ed6246" d="M1155 264l74 0-5 5-9 4-11 2-12 1-15-1-13-2-7-4-3-5z"/><path fill="#e2514a" d="M1159 264l66 0-6 4-7 4-9 2-11 0-12 0-10-3-8-3-4-4z"/><path fill="#d7414e" d="M1164 264l56 0-4 3-7 3-8 2-9 1-9-1-9-2-7-3-4-3z"/><path fill="#c52c4b" d="M1168 264l48 0-5 3-5 2-14 2-14-2-5-2z"/><path fill="#b11747" d="M1176 264l33 0-9 3-8 1-7-1z"/></g><path class="ct" d="M1189.2 316.3l-1.8 1.9-.3 1.5.3 1.5 1.8 1.7 3 0 1.7-1.7.4-1.5-.3-1.5-1.8-1.9-1.5-.3-1.5.3M1187.7 310.3l-3.4 1.9-2.4 3-1.1 3 .2 4.5 2.2 4 3 2.3 3 1 4.5-.3 4.2-2.5 2.1-3 .9-3-.5-4.5-2.2-3.7-3-2.2-3-.9-4.5.4M1189.2 304.6l-3 .6-3 1.3-3 2.1-2.1 2.1-1.9 3-1.3 3-.7 4.5.1 3 .7 3 1.4 3 2.3 3 3 2.6 3 1.6 3 .9 6 .2 6-2.1 3-2.1 2.3-2.6 1.8-3 1.1-3 .5-3-.2-4.5-.9-3-1.5-3-4.4-4.5-3.2-1.8-3-1-6-.3M1290.3 264.2l-1.8 4.5-2.7 4.5-3.6 4.5-4.7 4.5-5.8 4.4-6 3.8-12 5.5-12 3.5-10.5 1.1-13.5-.6-22.5-2.5-6 .1-4.5.7-4.5 1.5-4.5 2.6-4.3 3.9-10.7 11.8-7.5 5.2-4.5 1.9-6 1-4.5-.3-4.5-1.2M1158.4 432.2l-5.6-4.5-1.7-3-.1-3 1.4-3 1.4-1.5 6.6-4.5 10.8-4.1 13.5-3 16.5-2 16.5-.6 18 .8 15 1.9 13.5 3 10.4 4 6.6 4.5 1.3 1.5 1.5 3-.1 3-1.7 3-5.6 4.5M1258.2 264.2l-3.9 6-6.7 6-8.9 5.2-9 3.5-9 2.3-9 1.4-27 1.4-7.7 1.2-4.1 1.5-3.2 1.9-12 10.7-3 1.8-4.5 1.5-4.5.3-4.5-.9-4.5-2.6-3-3M1245.1 264.2l-3.5 4.5-4.4 3.8-6 3.6-7.5 3.1-9 2.5-9 1.4-10.5.8-18 .2-7.5 1-4.5 1.6-2.7 1.5-9.3 7.6-4.5 1.4-3-.4-2-1.1-1.6-1.5-1.6-3-.9-4.5-.6-12-1.9-10.5M1235.3 264.2l-2.7 3-4.4 3.4-4.7 2.6-5.8 2.3-12 2.8-15 1-27-1.3-7.5-1.2-3-1.7-1.9-1.9-2.6-4.2-1.9-4.8M1226.4 264.2l-5.8 4.5-7.4 3.3-10.5 2.4-10.5.8-12-.7-12-2.3-4.5-1.7-3-1.7-2-1.6-2.4-3M1217.3 264.2l-4.9 3-5.2 1.9-7.5 1.6-7.5.4-7.5-.4-7.5-1.4-6.2-2.1-4.7-3"/></g><g class="hd"><circle cx="1217.5" cy="348" r="59.2"/><path d="M1205.1 290.11L1217.5 279.92L1229.9 290.11"/><path d="M1276.34 337.64 1277.88 334.65 1278.83 334.54 1280.24 335.04 1281.66 337.64 1281.44 345.95 1282.26 357.89 1280.49 363.08 1277.88 364.04 1275.4 361.53"/><path d="M1158.66 337.64 1157.12 334.65 1156.17 334.54 1154.76 335.04 1153.34 337.64 1153.56 345.95 1152.74 357.89 1154.51 363.08 1157.12 364.04 1159.6 361.53"/></g><g class="sn"><circle cx="1196.7" cy="288.3" r="3.5"/><circle cx="1238.3" cy="288.3" r="3.5"/><circle cx="1161.3" cy="314" r="3.5"/><circle cx="1273.7" cy="314" r="3.5"/><circle cx="1189.7" cy="318.4" r="3.5"/><circle cx="1217.7" cy="320" r="3.5"/><circle cx="1245.3" cy="318.4" r="3.5"/><circle cx="1137.9" cy="333.9" r="3.5"/><circle cx="1297.1" cy="333.9" r="3.5"/><circle cx="1170" cy="336" r="3.5"/><circle cx="1202.4" cy="336.4" r="3.5"/><circle cx="1232.6" cy="336.4" r="3.5"/><circle cx="1265" cy="336" r="3.5"/><circle cx="1187" cy="353" r="3.5"/><circle cx="1217.5" cy="351.5" r="3.5"/><circle cx="1248" cy="353" r="3.5"/><circle cx="1154.2" cy="359.6" r="3.5"/><circle cx="1280.8" cy="359.6" r="3.5"/><circle cx="1203.9" cy="365.3" r="3.5"/><circle cx="1231.1" cy="365.3" r="3.5"/><circle cx="1175.9" cy="371.6" r="3.5"/><circle cx="1259.1" cy="371.6" r="3.5"/><circle cx="1217.5" cy="377.4" r="3.5"/><circle cx="1194.9" cy="380.6" r="3.5"/><circle cx="1240.1" cy="380.6" r="3.5"/><circle cx="1150.2" cy="384.8" r="3.5"/><circle cx="1284.8" cy="384.8" r="3.5"/><circle cx="1174.5" cy="391.2" r="3.5"/><circle cx="1260.5" cy="391.2" r="3.5"/><circle cx="1202.7" cy="403.1" r="3.5"/><circle cx="1217.5" cy="403.1" r="3.5"/><circle cx="1232.3" cy="403.1" r="3.5"/></g><clipPath id="c18"><circle cx="1442.5" cy="348" r="80.8"/></clipPath><g clip-path="url(#c18)"><g filter="url(#bl)"><rect x="1358.7" y="264.2" width="167.6" height="167.6" fill="#fffebe"/><path fill="#fff3ac" d="M1360 264l57 0 1 11-1 10-5 12-26 45-6 8-6 6-8 6-7 3 0-100z"/><path fill="#f6fbb0" d="M1446 270l6 0 6 1 4 4 3 6 0 7-2 9-3 9-5 9-7 11-9 10-10 10-9 7-9 6-9 5-7 2-3 0-3-1-2-1-1-4 1-9 6-15 9-17 12-18 14-18 9-8 4-3z"/><path fill="#fee999" d="M1366 265l1-1 42 0 3 9 0 9-2 9-4 12-9 17-10 14-6 8-7 8-8 5-7 3 0-86z"/><path fill="#edf8a3" d="M1432 296l3 0 2 1 2 3 1 3-2 8-5 9-8 10-9 7-9 5-3 0-3 0-2-4 1-6 4-9 6-9 6-8 6-6 6-3z"/><path fill="#fedc88" d="M1372 265l2-1 29 0 3 5 2 6 0 6 0 7-3 9-4 11-7 12-8 13-8 8-6 5-6 4-7 3 0-76 6-6z"/><path fill="#e1f399" d="M1422 310l3 1 0 1 0 3-1 3-7 8-3 2-3 0-1-2 3-8 4-5z"/><path fill="#feca79" d="M1378 265l3-1 15 0 4 3 3 5 2 7 0 8-1 7-3 8-4 10-7 11-6 8-6 7-6 5-7 4-6 2 0-68 9-9z"/><path fill="#fdb96a" d="M1383 267l6-1 4 1 3 2 3 4 3 6 0 6 0 6-2 8-3 9-5 9-11 15-6 6-6 4-6 3-4 1 0-61 6-7 6-5 6-4z"/><path fill="#fca55d" d="M1381 270l5-1 5 1 4 2 3 4 1 5 1 6 0 6-2 7-7 15-4 8-7 7-5 5-6 4-6 3-4 1 0-55 10-11 6-4z"/><path fill="#f88c51" d="M1380 273l4-1 5 1 4 2 2 3 2 4 1 6-1 6-1 8-6 13-10 14-6 5-5 3-6 2-4 1 0-49 4-6 6-6 6-4z"/><path fill="#f57547" d="M1378 276l5-1 4 0 3 2 3 3 2 4 1 6-2 12-6 13-10 13-6 5-4 2-5 2-4 0 0-44 9-10 6-5z"/><path fill="#ed6246" d="M1381 278l5 0 3 1 3 3 1 3 1 9-3 12-7 12-9 10-9 6-4 1-3-1 0-38 4-6 6-6 6-4z"/><path fill="#e2514a" d="M1378 281l5-1 3 1 3 2 2 2 1 5 0 4-3 12-6 12-8 8-4 4-5 1-4 1-3-1 0-32 4-6 5-6 6-4z"/><path fill="#d7414e" d="M1377 283l4-1 3 1 3 2 2 2 1 7-2 11-5 10-8 9-7 5-5 1-3-1-1-1 0-26 7-11 5-4z"/><path fill="#c52c4b" d="M1380 285l3 0 2 2 3 4 0 8-2 8-5 8-7 8-6 3-3 1-3-1-3-2 0-18 1-3 4-7 5-6 5-3z"/><path fill="#b11747" d="M1375 290l3-1 3 0 3 3 1 5-1 8-4 9-6 6-5 3-3 0-3 0-3-3 0-3 0-6 2-6 6-10 4-4z"/></g><path class="ct" d="M1424.7 304.3l-3 1.4-4.5 3.4-4.5 4.9-3 4.2-3.2 6-1.5 4.5.2 4 1.5 1.4 1.5.2 3-.6 6-3.4 6-5.4 5.1-6.7 2.7-6 .5-4.5-.8-2.2-1.5-1.2-1.5-.4-3 .4M1439.7 280.3l-3 .9-4.5 2.3-4.5 3.3-4.5 4.4-9 11-10.5 15.8-7.5 13.7-4.9 12-1 4.5-.1 3.6.7 2.4.8 1.3 1.5 1 4.5.5 7.5-2.2 7.5-4 7.5-5.2 7.5-6.3 7.5-7.6 5-6 6.3-9 4.1-7.5 2.9-7.5 1.3-6 0-6-1.6-4.5-3-3.3-4.5-1.8-6 .2M1415.4 264.2l1 4.5.4 6-.5 6-.8 4.5-3.8 10.5-7 13.5-15.3 25.5-9.7 13.6-4.5 4.8-6 5-4.5 2.8-6 2.6M1358.7 266.5l2.3-2.3M1405.4 264.2l2.3 4.5 1.2 4.5.7 6-.3 6-2.3 10.5-5.8 13.5-11 18.4-5.1 7.1-5.4 6.5-4.5 4.4-6 4.6-6 3.1-4.5 1.5M1358.7 275.4l6-6.1 6.3-5.1M1395.5 264.2l3.7 2.6 2.6 3.4 2 4.5.9 4.5.3 6-.6 6-1.5 6-2.7 7.5-3.6 7.5-5.2 9-5.7 8.1-6 7.1-6 5.5-4.5 3.1-4.5 2.3-6 1.7M1358.7 281.2l4.5-5 6-5.3 6-4.1 5.7-2.6M1358.7 285.8l7.5-8.2 7.5-5.7 7.5-3.5 6-.9 3 .4 3 1 3 2.2 1.5 1.7 1.9 3.4 1 3 .8 7.5-1.1 9-2.8 9-5.1 10.5-6.7 10.2-6 7.1-7.5 6.6-7.5 4-6 1.3M1358.7 290l6-7.2 6-5.3 7.5-4.3 6-1.5 3 .1 3 .8 3 1.8 1.5 1.6 2.5 4.7 1.1 7.5-.7 7.5-2.6 9-4.2 9-6.6 10.1-6 6.8-7.5 6-6 2.8-6 .9M1358.7 293.9l6-7.7 6-5.4 6-3.7 6-1.6 3 0 2.5.7 2 1.1 2 1.9 2.5 5.1.8 6.9-1 7.5-2.4 7.5-4.5 9-5.2 7.5-5.7 6.2-6 4.5-6 2.6-3 .5-3-.1M1358.7 297.9l4.6-6.7 5.9-6.1 6-4.1 6-2 4.5.4 2.5 1.3 1.6 1.5 2.3 4.5.7 6-1 7.5-2.5 7.5-4 7.5-5.6 7.5-4.5 4.5-6 4-6 1.8-4.5-.6M1358.7 302.4l3.9-6.7 5.1-6.2 6-4.7 4.5-1.9 4.5-.4 3 1.1 1.5 1.3 2 3.3 1 6-.7 6-2.5 7.5-4 7.5-4.8 6.1-4.9 4.4-5.6 3.1-4.5.7-3-.7-1.5-.9M1358.7 308.7l2.8-7 3.2-5.1 4.8-5.4 5.7-3.8 4.5-1.2 2.9.5 1.6 1 1.5 1.6.9 1.9.8 4.5-.8 6-2.4 6.9-4.5 7.4-4.5 4.9-4.6 3.3-2.9 1.1-3 .5-1.5-.3-2.6-1.3-1.9-2.6"/></g><g class="hd"><circle cx="1442.5" cy="348" r="59.2"/><path d="M1430.1 290.11L1442.5 279.92L1454.9 290.11"/><path d="M1501.34 337.64 1502.88 334.65 1503.83 334.54 1505.24 335.04 1506.66 337.64 1506.44 345.95 1507.26 357.89 1505.49 363.08 1502.88 364.04 1500.4 361.53"/><path d="M1383.66 337.64 1382.12 334.65 1381.17 334.54 1379.76 335.04 1378.34 337.64 1378.56 345.95 1377.74 357.89 1379.51 363.08 1382.12 364.04 1384.6 361.53"/></g><g class="sn"><circle cx="1421.7" cy="288.3" r="3.5"/><circle cx="1463.3" cy="288.3" r="3.5"/><circle cx="1386.3" cy="314" r="3.5"/><circle cx="1498.7" cy="314" r="3.5"/><circle cx="1414.7" cy="318.4" r="3.5"/><circle cx="1442.7" cy="320" r="3.5"/><circle cx="1470.3" cy="318.4" r="3.5"/><circle cx="1362.9" cy="333.9" r="3.5"/><circle cx="1522.1" cy="333.9" r="3.5"/><circle cx="1395" cy="336" r="3.5"/><circle cx="1427.4" cy="336.4" r="3.5"/><circle cx="1457.6" cy="336.4" r="3.5"/><circle cx="1490" cy="336" r="3.5"/><circle cx="1412" cy="353" r="3.5"/><circle cx="1442.5" cy="351.5" r="3.5"/><circle cx="1473" cy="353" r="3.5"/><circle cx="1379.2" cy="359.6" r="3.5"/><circle cx="1505.8" cy="359.6" r="3.5"/><circle cx="1428.9" cy="365.3" r="3.5"/><circle cx="1456.1" cy="365.3" r="3.5"/><circle cx="1400.9" cy="371.6" r="3.5"/><circle cx="1484.1" cy="371.6" r="3.5"/><circle cx="1442.5" cy="377.4" r="3.5"/><circle cx="1419.9" cy="380.6" r="3.5"/><circle cx="1465.1" cy="380.6" r="3.5"/><circle cx="1375.2" cy="384.8" r="3.5"/><circle cx="1509.8" cy="384.8" r="3.5"/><circle cx="1399.5" cy="391.2" r="3.5"/><circle cx="1485.5" cy="391.2" r="3.5"/><circle cx="1427.7" cy="403.1" r="3.5"/><circle cx="1442.5" cy="403.1" r="3.5"/><circle cx="1457.3" cy="403.1" r="3.5"/></g><clipPath id="c19"><circle cx="1667.5" cy="348" r="80.8"/></clipPath><g clip-path="url(#c19)"><g filter="url(#bl)"><rect x="1583.7" y="264.2" width="167.6" height="167.6" fill="#fffebe"/><path fill="#fff3ac" d="M1585 264l167 0 0 168-168 0 0-168zM1656 288l-9 3-10 5-7 6-7 8-5 8-2 9-1 11 2 9 4 7 5 6 16 11 14 8 6 2 7 1 9-1 8-2 9-4 7-5 7-7 5-7 4-8 2-9 0-9-2-9-3-7-5-8-8-7-7-5-9-4-9-2-11-1z"/><path fill="#f6fbb0" d="M1660 296l9-1 8 1 7 2 8 4 6 4 5 6 4 6 3 8 1 7-1 8-2 7-4 6-5 6-5 5-7 4-7 2-9 2-8-1-7-1-8-3-9-6-7-6-4-6-3-8-1-7 1-8 2-7 5-8 5-6 7-5 7-3z"/><path fill="#fee999" d="M1585 264l167 0 0 168-168 0 0-168zM1654 276l-13 4-12 6-11 9-8 10-6 12-3 13 0 14 3 10 3 5 4 2 24 11 9 6 13 11 6 2 9 1 14-1 13-2 9-3 8-6 7-8 5-9 4-10 2-11 0-10-2-11-4-10-5-9-7-8-9-7-9-5-11-4-10-2-12-1z"/><path fill="#edf8a3" d="M1663 302l8-1 6 1 6 2 6 4 5 4 4 5 3 6 2 6 0 6 0 6-3 6-2 4-5 5-5 4-7 4-6 1-7 1-6-1-8-2-6-2-6-5-5-5-3-6-2-6 0-7 1-6 2-6 4-6 5-5 6-3 6-3z"/><path fill="#fedc88" d="M1585 264l24 0-14 12-11 14 0-26zM1726 264l26 0 0 26-12-14zM1609 372l11-1 6 1 6 3 10 6 14 14 7 3 9 1 62 0 10-1 8-2 0 36-168 0 0-43 14-12 5-3z"/><path fill="#e1f399" d="M1662 308l10-1 11 4 4 3 5 4 2 5 2 4 1 5 0 6-4 9-7 7-9 5-6 1-6 0-11-3-5-3-5-4-3-5-2-4-1-5 0-6 2-6 2-4 4-5 5-4z"/><path fill="#feca79" d="M1612 376l5-1 6 0 10 4 9 7 11 12 3 3 4 1 35 1 18 1 19 3 20 5 0 20-164 0-2-6-1-6 4-13 4-12 3-6 5-6 5-4z"/><path fill="#cdeb9d" d="M1662 313l9 0 7 2 8 6 4 6 1 8-3 7-4 6-7 4-9 2-9-1-8-5-5-7-1-5-1-4 3-8 6-6 4-3z"/><path fill="#fdb96a" d="M1614 379l4-1 6 1 9 3 8 6 10 14 6 3 8 1 33 1 24 3 10 3 8 4 5 5 0 4-2 3-5 3-138 0-5-6-1-6-1-7 2-11 3-7 4-8 6-5z"/><path fill="#b8e2a1" d="M1663 320l6-1 6 2 5 3 3 5 0 6-1 4-4 5-4 2-6 2-6-1-6-4-4-5 0-6 1-5 4-5z"/><path fill="#fca55d" d="M1618 381l9 1 8 3 6 6 8 13 5 3 8 2 33 0 19 3 10 4 5 3 2 3 1 3-1 1-3 3-5 3-117 0-6-6-2-6-1-9 1-9 3-7 5-8 6-4z"/><path fill="#a2d9a4" d="M1666 330l3 0 2 2 0 3-2 2-3 0-2-2 0-3z"/><path fill="#f88c51" d="M1615 384l5-1 4 0 5 1 4 3 6 6 9 13 6 4 8 1 27 0 15 2 8 3 6 3 3 3 1 3-3 3-2 1-7 3-99 0-6-4-4-6-1-6 0-8 1-7 3-8 5-5z"/><path fill="#f57547" d="M1618 385l8 0 7 4 6 6 8 13 6 5 6 1 24 0 15 1 7 2 5 3 2 2 0 3-2 2-4 2-12 3-33 0-10-1-9 1-27 0-6-4-4-5-3-7 0-8 2-9 3-6 5-5z"/><path fill="#ed6246" d="M1620 387l7 1 6 3 5 5 9 16 6 5 6 1 18-2 12 1 11 3 1 2 1 1 0 2-2 1-5 2-12 2-12 0-20-2-18 3-7 1-6-1-5-1-6-5-3-5-2-6 0-7 2-8 3-6 5-4z"/><path fill="#e2514a" d="M1617 390l4-1 5 0 4 2 4 4 4 6 9 18 1 3-1 1-8 5-12 2-9-1-4-3-3-2-3-4-2-4-1-5 1-6 1-4 2-5 3-3zM1671 421l10 0 5 1 2 1-2 2-2 0-9 1-6-1-1-2 1-1z"/><path fill="#d7414e" d="M1618 391l5-1 4 1 5 3 4 5 4 9 3 9-1 5-3 3-8 3-8 0-8-3-5-5-3-7 1-9 3-8 3-3z"/><path fill="#c52c4b" d="M1618 393l6-1 5 2 4 4 3 5 3 8 1 6-2 5-5 3-6 1-7-1-6-3-4-5-1-6 0-7 3-6 3-3z"/><path fill="#b11747" d="M1618 396l5-1 4 1 3 2 3 4 3 8 0 6-1 4-3 2-5 2-6-1-5-3-4-4-1-6 1-6 2-5z"/></g><path class="ct" d="M1661.7 313.4l-4.5 1.5-4.5 2.6-3 2.7-2.9 4-1.6 3.8-.7 3.7.1 4.5 1.3 4.5 2.3 4 3 3.3 3 2.3 4.5 2.2 4.5 1.2 4.5.4 4.5-.4 4.5-1.3 3-1.4 3.9-2.8 2.9-3 1.9-3 1.3-3 .9-4.5-.3-4.5-.8-3-1.3-3-2.5-3.5-3-2.9-4.2-2.6-3.3-1.3-4.5-1-4.5-.2-4.5.7M1658.7 301.7l-7.5 2.4-6 3.4-5.5 4.7-4.6 6-2.7 6-1.4 6 .1 7.5 1.5 6 3 6 5.1 6 5.7 4.5 6.3 3.3 6 2 7.5 1 7.5-.4 7.5-1.9 6-2.8 6-4.2 4.2-4.5 3-4.5 2.5-6 1.2-6-.1-6-1.4-6-2.7-6-3.7-5.1-4.5-4.2-6-3.9-6-2.4-7.5-1.6-7.5-.2-6 .9M1666.2 285.2l-10.5 1.1-10.5 3.2-6 2.8-4.5 2.8-7.5 6.1-6.6 8-4.6 9-2.5 9-.6 4.5 0 6 1.3 7.5 2.2 6 2.9 4.5 4.6 4.5 25.8 16.6 7.5 4.2 7.5 2.3 9 .3 10.5-1.8 9-3.3 9-5.4 7.5-6.8 5.7-7.6 4.2-9 2.2-9 .3-9-1.6-9-3.5-9-4.8-7.5-7.2-7.5-8.8-6.2-9-4-10.5-2.6-10.5-.7M1589.6 264.2l-5.9 5.9M1751.7 270.5l-6.3-6.3M1583.7 400l8-12.8 3.7-4.5 3.3-3.1 4.5-3.2 4.5-2.1 4.5-1.3 6-.5 4.5.4 4.5 1.1 4.5 1.8 4.5 2.4 7.5 6 10.5 11.7 3 2.1 4.5 1.5 7.5.7 34.5.1 37.5 2.2 10.5 0M1602.3 432.2l-2.7-3-2-3-1.3-3-1.1-4.5-.3-4.5.4-6 2.6-10.5 3.8-7.5 2.3-3 3.2-3 3.5-2.3 3-1.3 4.5-1.1 3-.2 7.5 1.4 4.5 2.2 3 2 5.2 5.3 8.3 11.5 3 2.6 3 1.5 7.5 1.3 24 .1 18 1.5 15 2.9 11.3 4.1 3.7 2.2 2.5 2.3 1 1.5.5 3-1.4 3-1.5 1.5-4.7 3M1613.3 432.2l-4.1-2.5-2.2-2-2.5-3-1.7-3-2-7.5.3-9 1.1-4.5 1.7-4.5 4.1-6 2.7-2.4 3-1.9 3-1.2 4.5-.7 4.5.5 3 .9 6 3.8 4.9 5.5 5.6 9.2 3 4 3 2.4 3 1.4 6 1 19.5-.4 13.5.9 12 2.3 8 3.2 3.3 3 .5 1.5-.3 1.5-.9 1.5-4.2 3-8.9 3M1618.2 388.5l3-.5 4.5.5 4.2 1.7 3.3 2.5 4.5 5.6 6 11.5 3 4.8 4.5 4.9 3 2 3 .1 15-2.9 10.5 0 7.5 1.4 3 1.3 1.5 1.8-.7 1.5-2.5 1.5-4.3 1.2-10.5.8-9-.9-4.8-1.1-7.2-2.6-1.5-.1-17.2 5.7-5.3 1.2-4.5.4-6-.4-6-2.1-4.8-3.6-3.3-4.5-2-6-.4-6 1.5-7.5 3-5.8 4.5-4.3 4.5-2.1M1616.7 393.1l4.5-1.3 3 .1 3 .9 4.5 3.1 3 3.8 3.4 7 2.4 9-.6 4.5-.9 1.5-2.8 2.3-3 1.5-4.5 1.2-4.5.2-3-.5-3-1-3-1.7-2.3-2-2.2-2.9-1.5-3.3-.9-4.3.1-4.5.5-3 2.7-6 2.1-2.5 3-2.1"/></g><g class="hd"><circle cx="1667.5" cy="348" r="59.2"/><path d="M1655.1 290.11L1667.5 279.92L1679.9 290.11"/><path d="M1726.34 337.64 1727.88 334.65 1728.83 334.54 1730.24 335.04 1731.66 337.64 1731.44 345.95 1732.26 357.89 1730.49 363.08 1727.88 364.04 1725.4 361.53"/><path d="M1608.66 337.64 1607.12 334.65 1606.17 334.54 1604.76 335.04 1603.34 337.64 1603.56 345.95 1602.74 357.89 1604.51 363.08 1607.12 364.04 1609.6 361.53"/></g><g class="sn"><circle cx="1646.7" cy="288.3" r="3.5"/><circle cx="1688.3" cy="288.3" r="3.5"/><circle cx="1611.3" cy="314" r="3.5"/><circle cx="1723.7" cy="314" r="3.5"/><circle cx="1639.7" cy="318.4" r="3.5"/><circle cx="1667.7" cy="320" r="3.5"/><circle cx="1695.3" cy="318.4" r="3.5"/><circle cx="1587.9" cy="333.9" r="3.5"/><circle cx="1747.1" cy="333.9" r="3.5"/><circle cx="1620" cy="336" r="3.5"/><circle cx="1652.4" cy="336.4" r="3.5"/><circle cx="1682.6" cy="336.4" r="3.5"/><circle cx="1715" cy="336" r="3.5"/><circle cx="1637" cy="353" r="3.5"/><circle cx="1667.5" cy="351.5" r="3.5"/><circle cx="1698" cy="353" r="3.5"/><circle cx="1604.2" cy="359.6" r="3.5"/><circle cx="1730.8" cy="359.6" r="3.5"/><circle cx="1653.9" cy="365.3" r="3.5"/><circle cx="1681.1" cy="365.3" r="3.5"/><circle cx="1625.9" cy="371.6" r="3.5"/><circle cx="1709.1" cy="371.6" r="3.5"/><circle cx="1667.5" cy="377.4" r="3.5"/><circle cx="1644.9" cy="380.6" r="3.5"/><circle cx="1690.1" cy="380.6" r="3.5"/><circle cx="1600.2" cy="384.8" r="3.5"/><circle cx="1734.8" cy="384.8" r="3.5"/><circle cx="1624.5" cy="391.2" r="3.5"/><circle cx="1710.5" cy="391.2" r="3.5"/><circle cx="1652.7" cy="403.1" r="3.5"/><circle cx="1667.5" cy="403.1" r="3.5"/><circle cx="1682.3" cy="403.1" r="3.5"/></g><clipPath id="c20"><circle cx="1892.5" cy="348" r="80.8"/></clipPath><g clip-path="url(#c20)"><g filter="url(#bl)"><rect x="1808.7" y="264.2" width="167.6" height="167.6" fill="#fffebe"/><path fill="#fff3ac" d="M1810 264l167 0 0 35-4 7 1 3 3 2 0 72-9 1-8-2-7-3-6-4-7-9-5-10-1-9 2-15 0-3-3-2-9-2-14-11-8-4-6-1-6 1-6 2-4 3-4 5-3 4-6 15-3 3-3 1-9 2-13-1-14-1-16-3 0-76z"/><path fill="#f6fbb0" d="M1891 313l6 0 5 2 3 3 2 5 0 4-2 5-5 4-4 1-5 1-5-2-3-3-3-4 0-5 2-4 5-5zM1812 368l7 0 6 3 6 6 2 6 0 7-3 6-5 5-7 3-5 1-4-1 0-36zM1873 368l5-1 6 1 15 5 10-1 6 1 3 1 3 3 1 4-3 5-5 2-15 0-12 5-6 2-6 0-5-1-5-2-4-4-2-4-1-4 2-5 3-3 4-3z"/><path fill="#fee999" d="M1810 264l154 0 0 5-1 9-5 9-8 8-11 6-9 3-10 2-21-1-8 1-9 3-18 10-7 2-12 1-20-3-16-4 0-51zM1968 338l4-1 5 2 0 18-3 1-5 1-4-2-3-3-2-3 0-4 1-5 3-3z"/><path fill="#edf8a3" d="M1893 318l3 0 2 2 1 1 1 3-1 3-2 2-4 1-5-2-1-4 2-4zM1810 375l5-1 4 1 4 3 2 3 1 5-1 4-3 5-3 2-6 1-4-2 0-20zM1875 375l6 0 4 2 2 3 0 3-1 1-2 2-5 1-4 0-4-1-2-3 0-3 2-3z"/><path fill="#fedc88" d="M1810 264l146 0 0 5-1 7-5 8-6 6-9 5-15 4-23 2-7 2-27 10-9 1-9 0-20-2-16-6 0-42z"/><path fill="#e1f399" d="M1813 382l3 1 2 1 0 3-2 2-3 1-2-3 0-3z"/><path fill="#feca79" d="M1810 264l140 0 0 5-2 7-4 6-6 6-8 3-10 3-27 4-29 9-9 2-10 0-18-2-9-3-9-4 0-36z"/><path fill="#fdb96a" d="M1810 264l135 0 0 5-2 6-4 6-6 4-6 3-9 2-24 4-31 10-9 1-9 0-11-1-9-2-9-3-7-4 0-31z"/><path fill="#fca55d" d="M1810 264l130 0 0 5-1 4-3 5-4 3-6 3-8 2-24 4-30 10-9 1-10 1-11-2-9-2-9-3-7-5 0-26z"/><path fill="#f88c51" d="M1810 264l124 0 1 5-1 4-3 3-4 3-4 2-27 5-32 11-9 1-10 1-11-2-9-2-9-4-7-6 0-21z"/><path fill="#f57547" d="M1810 264l119 0 0 3 0 3-2 3-3 3-4 2-24 4-32 12-9 1-9 1-10-1-9-3-8-3-7-5-3-3 0-17z"/><path fill="#ed6246" d="M1810 264l110 0 1 3-1 3-4 3-20 5-27 12-11 2-12 1-9-1-7-2-8-3-6-4-4-4-3-4 0-11z"/><path fill="#e2514a" d="M1810 264l90 0 1 2-2 3-3 3-24 13-12 4-14 2-7-1-8-2-6-2-6-4-4-4-4-5-2-7 0-2z"/><path fill="#d7414e" d="M1813 264l77 0 0 3-3 5-5 4-7 5-14 5-13 2-14-2-6-2-6-3-5-5-3-4-2-6 0-2z"/><path fill="#c52c4b" d="M1816 264l68 0-1 3-2 5-9 7-11 5-6 1-7 1-12-2-11-5-3-3-4-4-2-5 0-3z"/><path fill="#b11747" d="M1821 264l56 0-2 6-6 6-10 5-11 1-11-1-7-3-7-6-2-5z"/></g><path class="ct" d="M1808.7 390.9l1.5 1.3 3 1.3 3-.1 1.5-.5 3.1-2.7.8-1.5.5-3-.8-3-.9-1.5-1.7-1.5-2.5-1.1-3-.1-1.5.5-3 2.1M1808.7 402.1l3 .8 4.5.1 4.5-1.1 3-1.5 3-2.5 2.5-3.2 1.9-4.5.6-4.5-.7-4.5-1.3-3-3-4.2-3-2.4-3-1.5-4.5-1.1-3 0-4.5.9M1889.7 314.6l-3.8 2.1-2.8 3-1.7 4.5.4 4.5 1.9 3.3 1.5 1.5 3 1.8 4.5.9 4.5-.8 3.9-2.2 2.7-3 1.6-4.5-.4-4.5-1.6-3-1.5-1.5-3.2-2-4.5-.9-4.5.8M1873.2 369.1l-5 1.6-4.5 3-2.3 3-1.1 4.5 1.3 4.5 2.5 3 3.1 2.1 4.5 1.8 6 .7 6-.8 4.5-1.6 7.5-4.4 3-1.2 3-.1 7.5 1.2 4.5-.4 3.7-1.8 2-3-.3-3-.8-1.5-1.8-1.5-2.8-1.1-4.5-.3-7.5 1.6-3 .3-3-.9-7.5-3.8-4.5-1.5-6-.8-4.5.4M1976.7 277.4l-2.2 6.3-3.2 6-4.5 6-5.1 5.1-6 4.7-4.5 2.8-7.5 3.5-7.5 2.5-7.5 1.9-6 .3-4.5-1-10.6-4.8-4.4-1.5-6-.9-4.5.2-6 1.6-6.4 3.6-4.8 4.5-9.8 12.2-3 2-3 1-9 1.1-15-.4-13.5-1.9-13.5-3.2M1976.7 374.2l-6 .7-6-.6-6-2.1-4.5-2.8-4.5-4.3-3.2-4.9-2.2-6-.8-6 .6-6 2-6 3.6-5.9 4.5-4.5 4.5-2.7 6-1.9 6-.4 6 .8M1958.9 264.2l.2 4.5-.9 6-2.5 6-3 4.5-4.4 4.5-4.6 3.4-6 3.3-7.5 2.8-7.5 1.9-6 .9-18 .7-7.5 1-8 2.5-17.5 8.1-4.5 1.2-6 .8-12 .3-12-1.2-12-2.7-10.5-3.8M1949.8 264.2l.4 4.5-.8 4.5-1.8 4.5-3.2 4.5-3.7 3.5-4.5 3-6 2.7-6 1.9-7.5 1.4-22.5 3.1-9 2.5-18 6.3-7.5 1.6-7.5.7-12-.1-10.5-1.5-10.5-2.9-10.5-4.6M1942.6 264.2l.2 6-.8 3-1.4 3-4.4 5-6 3.9-4.5 1.8-6 1.5-18 2.5-7.5 1.5-22.5 7.5-7.5 2-7.5 1.2-7.5.5-7.5-.2-7.5-.9-7.5-1.7-6-1.9-6-2.7-6-3.5M1935.5 264.2l.5 4.5-1.3 4.5-3.7 4.5-5.3 3.3-9 2.6-15 1.9-6 1.2-7.5 2.3-16.5 6.2-12 3-7.5.9-7.5.1-7.5-.7-6-1.2-6-1.8-6-2.4-6-3.4-4.5-3.4M1927.2 264.2l.8 3-.8 3.5-1.7 2.5-4.6 3-5.7 1.7-13.5 1.9-6 1.4-25.5 10.2-7.5 2.2-6 1.1-6 .6-7.5-.1-7.5-1-6-1.5-6-2.2-6-3.2-5-3.6-4-4.1M1909.2 264.2l1.6 1.5.3 1.5-1.1 1.5-15.8 6.4-19 10.1-6.5 2.7-6 1.9-6 1.3-6 .6-7.5-.1-6-.8-6-1.5-6.4-2.6-5.6-3.3-4.5-3.8-3.9-4.9-2.1-4.1M1890.1 264.2l-.4 3-3 4.5-5 4.5-6.7 4.5-6.3 3.2-7.5 2.6-6 1.2-7.5.6-7.5-.6-6-1.3-6-2.2-4.5-2.5-5-4-3.6-4.5-2.1-4.5-.8-4.5M1881.5 264.2l-.8 3.6-2.4 3.9-4.7 4.5-4.6 3-6.3 2.8-4.5 1.4-4.5.8-6 .4-6-.4-4.5-.9-4.5-1.4-5.3-2.7-3.9-3-2.8-3.1-2.4-4.4-1-4.5"/></g><g class="hd"><circle cx="1892.5" cy="348" r="59.2"/><path d="M1880.1 290.11L1892.5 279.92L1904.9 290.11"/><path d="M1951.34 337.64 1952.88 334.65 1953.83 334.54 1955.24 335.04 1956.66 337.64 1956.44 345.95 1957.26 357.89 1955.49 363.08 1952.88 364.04 1950.4 361.53"/><path d="M1833.66 337.64 1832.12 334.65 1831.17 334.54 1829.76 335.04 1828.34 337.64 1828.56 345.95 1827.74 357.89 1829.51 363.08 1832.12 364.04 1834.6 361.53"/></g><g class="sn"><circle cx="1871.7" cy="288.3" r="3.5"/><circle cx="1913.3" cy="288.3" r="3.5"/><circle cx="1836.3" cy="314" r="3.5"/><circle cx="1948.7" cy="314" r="3.5"/><circle cx="1864.7" cy="318.4" r="3.5"/><circle cx="1892.7" cy="320" r="3.5"/><circle cx="1920.3" cy="318.4" r="3.5"/><circle cx="1812.9" cy="333.9" r="3.5"/><circle cx="1972.1" cy="333.9" r="3.5"/><circle cx="1845" cy="336" r="3.5"/><circle cx="1877.4" cy="336.4" r="3.5"/><circle cx="1907.6" cy="336.4" r="3.5"/><circle cx="1940" cy="336" r="3.5"/><circle cx="1862" cy="353" r="3.5"/><circle cx="1892.5" cy="351.5" r="3.5"/><circle cx="1923" cy="353" r="3.5"/><circle cx="1829.2" cy="359.6" r="3.5"/><circle cx="1955.8" cy="359.6" r="3.5"/><circle cx="1878.9" cy="365.3" r="3.5"/><circle cx="1906.1" cy="365.3" r="3.5"/><circle cx="1850.9" cy="371.6" r="3.5"/><circle cx="1934.1" cy="371.6" r="3.5"/><circle cx="1892.5" cy="377.4" r="3.5"/><circle cx="1869.9" cy="380.6" r="3.5"/><circle cx="1915.1" cy="380.6" r="3.5"/><circle cx="1825.2" cy="384.8" r="3.5"/><circle cx="1959.8" cy="384.8" r="3.5"/><circle cx="1849.5" cy="391.2" r="3.5"/><circle cx="1935.5" cy="391.2" r="3.5"/><circle cx="1877.7" cy="403.1" r="3.5"/><circle cx="1892.5" cy="403.1" r="3.5"/><circle cx="1907.3" cy="403.1" r="3.5"/></g><clipPath id="c21"><circle cx="2117.5" cy="348" r="80.8"/></clipPath><g clip-path="url(#c21)"><g filter="url(#bl)"><rect x="2033.7" y="264.2" width="167.6" height="167.6" fill="#fffebe"/><path fill="#fff3ac" d="M2092 264l51 0 1 3-2 3-2 2-6 2-10 2-11 0-10-1-8-3-3-3-1-2zM2184 351l18 0 0 81-168 0 0-60 4 0 5-3 16-14 6-2 6-1 62 2z"/><path fill="#f6fbb0" d="M2082 285l15-1 51 0 16 3 15 5 12 6 11 8 0 29-10 6-14 4-15 4-17 2-27 1-48-5-7 1-8 3-13 13-5 2-4 1 0-75 7-2 17 0z"/><path fill="#fee999" d="M2068 357l17-1 84 1 18 1 15 3 0 61-15 6-17 4-105 0-16-4-15-6 0-43 4-2 5-3 16-14z"/><path fill="#edf8a3" d="M2110 294l18 0 17 2 16 5 12 5 9 8 4 7 0 5 0 3-3 4-3 3-8 5-11 4-12 3-15 1-13 0-15-1-17-3-19-4-6-1-5 2-3 2-13 14-5 3-4 0 0-53 7-2 14 1 4 0 27-9 12-3z"/><path fill="#fedc88" d="M2082 360l33 0 43 1 20 2 16 5 8 4 0 38-8 4-7 4-18 6-21 4-27 3-23-2-16-2-15-3-14-4-11-6-8-7 0-19 7-6 14-13 6-4 8-3z"/><path fill="#e1f399" d="M2109 302l13-1 12 0 14 3 10 3 9 5 6 6 3 6-1 6-5 6-9 6-10 3-14 2-13 0-15-1-16-4-12-4-8-5-4-3-2-3 0-4 3-5 7-6 8-4 12-4zM2037 318l6-1 6 2 5 5 1 5-2 7-6 11-5 6-5 2-3-1 0-34z"/><path fill="#feca79" d="M2092 363l24-1 26 1 18 2 15 3 12 5 9 7 2 3 2 4 0 8-3 4-3 5-10 7-15 6-18 5-35 4-30-4-16-4-14-5-9-6-2-3-2-5-1-4 2-5 8-12 6-6 4-3 11-4z"/><path fill="#cdeb9d" d="M2113 306l11-1 10 1 11 1 9 3 7 4 6 6 2 4-1 6-3 5-7 4-9 4-10 2-11 0-12-1-11-2-10-3-7-4-5-5-2-4 1-5 4-5 8-4 9-4zM2038 330l3 0 2 1 1 5-2 6-4 3-1-1-2-1-1-5 1-5z"/><path fill="#fdb96a" d="M2100 366l19 0 20 0 15 2 13 3 10 4 7 6 4 6 0 3 0 5-3 4-4 5-6 4-8 3-15 5-22 3-11 4-4-1-9-2-20-3-12-3-12-6-8-6-2-3-1-4 0-5 2-4 6-8 5-4 4-2 14-4z"/><path fill="#b8e2a1" d="M2119 309l9 0 9 0 8 2 7 3 5 3 5 4 1 5 0 4-3 5-5 3-7 3-9 2-9 0-11 0-9-2-8-3-5-3-5-5-1-4 1-5 5-4 6-4 7-2z"/><path fill="#fca55d" d="M2107 369l15 0 17 1 13 2 9 3 9 4 5 5 2 5-1 6-4 6-11 6-13 5-18 3-11 5-4-1-11-4-15-3-12-3-10-5-6-6-1-3-1-5 2-4 2-3 5-5 9-4 14-3z"/><path fill="#a2d9a4" d="M2119 312l8-1 9 1 7 1 6 3 5 2 4 5 1 4-1 3-3 4-4 3-6 3-8 1-7 0-9 0-8-2-6-2-6-4-2-3-1-3 1-4 2-3 5-3 6-3z"/><path fill="#f88c51" d="M2100 374l13-1 11 0 13 1 12 2 8 4 6 4 3 5 0 4-2 3-3 3-7 5-8 3-16 4-11 6-4 0-11-7-15-3-10-4-7-5-2-5-1-3 1-3 2-3 3-3 10-4z"/><path fill="#89d0a4" d="M2119 315l14-1 7 1 6 2 4 3 3 3 2 3-1 4-2 3-4 3-11 3-13 0-12-3-5-3-2-3-1-3 0-3 2-3 4-3z"/><path fill="#f57547" d="M2112 377l7-1 8 1 10 2 8 2 5 3 3 3 1 3-1 3-2 3-4 3-17 7-9 8-3 1-3-1-11-9-12-4-6-3-4-3-1-3 1-5 6-5 9-3z"/><path fill="#6ec5a5" d="M2124 317l12 0 9 2 3 2 2 3 1 3-1 3-5 5-9 2-11 0-10-2-5-5-1-3 0-3 5-4z"/><path fill="#ed6246" d="M2113 381l6 0 6 1 9 4 3 2 1 2-1 3-7 6-8 12-4 2-5-2-7-11-7-5-2-3 1-3 2-2z"/><path fill="#5ab4ab" d="M2122 320l9-1 9 1 6 4 0 2 0 3-3 3-6 3-9 1-7-2-5-2-1-2-1-3 1-3 1-1z"/><path fill="#e2514a" d="M2115 385l4 0 3 1 2 3 2 4 0 6-2 6-3 4-3 2-3-1-3-3-2-6-1-5 1-6 2-3z"/><path fill="#47a0b3" d="M2124 322l7-1 6 2 4 3 1 3-3 2-5 2-6 0-4-1-4-2-1-3 2-3z"/><path fill="#d7414e" d="M2115 390l1-1 3 0 3 3 1 3 0 4-1 5-1 3-3 2-4-2-2-6 0-6z"/><path fill="#358bbc" d="M2128 327l3-1 2 1-1 2-2 0-2-1z"/><path fill="#c52c4b" d="M2118 393l2 2 1 4-1 5-2 2-2-1-1-1-1-5 1-4 1-2z"/></g><path class="ct" d="M2128.2 326.9l-.3.3.3.5 1.5 1 2 0 1.7-1.5-2.2-1.1-1.5 0-1.5.8M2120.7 317.8l-4.5 1.6-3.1 1.8-1.6 1.5-1.7 3 .1 3 1.8 2.8 2.1 1.7 3.9 1.9 4.5 1.4 4.5.7 6 .1 4.5-.6 4.5-1.2 4.5-2.2 1.9-1.6 1.8-3 0-3-1.8-3-3.4-2.6-3-1.4-4.5-1.3-6-.7-6 .3-4.5.8M2117.7 310.6l-7.5 1.7-7.3 2.9-4.7 3.1-3.5 4.4-.6 1.5-.1 3 1.1 3 4.4 4.5 5.2 3 7 2.5 9 1.8 9 .6 9-.6 7.5-1.6 6.9-2.7 4.5-3 3.4-4.5.6-4.5-1.8-4.5-3.1-3.2-6-3.7-7.5-2.7-7.5-1.4-9-.4-9 .8M2033.7 356.6l1.5.5 3 0 4.5-2.3 4.9-5.1 8.6-11.9 3-2.7 3-1 4.5.6 11.3 4.5 9.3 3 13.9 3.2 18 2.4 9 .3 9-.3 9-1 7.5-1.5 7.5-2.2 5.5-2.4 5-3 4.7-4.5 1.9-3 1-4.5-.7-4.5-2.4-4.5-4.3-4.5-6.2-4.2-7.5-3.5-7.5-2.5-10.5-2.2-10.5-1.2-9-.3-10.5.6-9 1.1-9 1.9-7.5 2.2-6 2.4-5.2 2.7-9.8 6-4.5 1.6-4.5-.5-7.5-2.8-4.5-.9-4.5.4-4.5 2.2M2137.3 264.2l1.1 1.5.3 1.5-.5 1.5-1.3 1.5-2.3 1.5-3.9 1.5-4 .9-9 .8-9-.7-4.4-1-3.9-1.5-2.3-1.5-1.3-1.5-.5-1.5.3-1.5 1.1-1.5M2033.7 373.6l4.5-1 4.5-2.5 12-10.7 4.5-3.2 4.5-1.9 4.5-1 10.5-.2 51 1.6 16.5-.4 36-1.7 19.5.5M2092.2 363.1l24-.6 26.1.7 17.4 1.7 15 3.1 6 2 6 2.8 4.5 2.8 4.6 4.1 2.2 3 1.9 4.5.3 3-.6 4.5-2.2 4.5-3.8 4.5-3.9 3.3-6 3.8-7 3.4-8 3-9 2.6-9 1.9-22.5 2.8-7.5 1.4-4.5.2-30-4.1-16.5-3.8-7.4-2.5-6.1-2.7-5.5-3.3-3.5-3-2.5-3-2.1-4.5-.3-4.5 1.3-4.5 3.5-6 4.6-6 6-6 4.5-3.1 4.5-2 6-1.7 9-1.4 10.5-.9M2107.2 372.1l12-.4 13.5.8 10.5 1.5 10.1 2.7 6.8 3 5.7 4.5 2.4 4.5-.2 4.5-1.5 3-2.7 3-4.1 3-4.5 2.3-10.5 3.7-15 3.3-7.5 4.9-3 1.2-1.5.2-3-.5-7.5-4.8-3-1.4-16.5-3.7-10.5-4.2-4.1-2.5-3.2-3-2-3-.8-3 .7-4.5 1.8-3 3.2-3 5.2-3 5.2-2 7.5-2 16.5-2.1M2113.2 384l4.5-1 4.6 1.2 3.8 3 1.1 1.5.9 3-.5 4.5-3.2 9-3 4.5-2.2 1.7-1.5.3-3-1-3.3-4-2.1-4.5-2.2-7.5-.3-3 1-3 2.7-3 2.7-1.7M2116.2 396l1.5-.6 1.5 1.2.3 1.1-.2 4.5-1.6 1.6-1.5-.8-.8-2.3.1-3 .7-1.7"/></g><g class="hd"><circle cx="2117.5" cy="348" r="59.2"/><path d="M2105.1 290.11L2117.5 279.92L2129.9 290.11"/><path d="M2176.34 337.64 2177.88 334.65 2178.83 334.54 2180.24 335.04 2181.66 337.64 2181.44 345.95 2182.26 357.89 2180.49 363.08 2177.88 364.04 2175.4 361.53"/><path d="M2058.66 337.64 2057.12 334.65 2056.17 334.54 2054.76 335.04 2053.34 337.64 2053.56 345.95 2052.74 357.89 2054.51 363.08 2057.12 364.04 2059.6 361.53"/></g><g class="sn"><circle cx="2096.7" cy="288.3" r="3.5"/><circle cx="2138.3" cy="288.3" r="3.5"/><circle cx="2061.3" cy="314" r="3.5"/><circle cx="2173.7" cy="314" r="3.5"/><circle cx="2089.7" cy="318.4" r="3.5"/><circle cx="2117.7" cy="320" r="3.5"/><circle cx="2145.3" cy="318.4" r="3.5"/><circle cx="2037.9" cy="333.9" r="3.5"/><circle cx="2197.1" cy="333.9" r="3.5"/><circle cx="2070" cy="336" r="3.5"/><circle cx="2102.4" cy="336.4" r="3.5"/><circle cx="2132.6" cy="336.4" r="3.5"/><circle cx="2165" cy="336" r="3.5"/><circle cx="2087" cy="353" r="3.5"/><circle cx="2117.5" cy="351.5" r="3.5"/><circle cx="2148" cy="353" r="3.5"/><circle cx="2054.2" cy="359.6" r="3.5"/><circle cx="2180.8" cy="359.6" r="3.5"/><circle cx="2103.9" cy="365.3" r="3.5"/><circle cx="2131.1" cy="365.3" r="3.5"/><circle cx="2075.9" cy="371.6" r="3.5"/><circle cx="2159.1" cy="371.6" r="3.5"/><circle cx="2117.5" cy="377.4" r="3.5"/><circle cx="2094.9" cy="380.6" r="3.5"/><circle cx="2140.1" cy="380.6" r="3.5"/><circle cx="2050.2" cy="384.8" r="3.5"/><circle cx="2184.8" cy="384.8" r="3.5"/><circle cx="2074.5" cy="391.2" r="3.5"/><circle cx="2160.5" cy="391.2" r="3.5"/><circle cx="2102.7" cy="403.1" r="3.5"/><circle cx="2117.5" cy="403.1" r="3.5"/><circle cx="2132.3" cy="403.1" r="3.5"/></g><clipPath id="c22"><circle cx="2342.5" cy="348" r="80.8"/></clipPath><g clip-path="url(#c22)"><g filter="url(#bl)"><rect x="2258.7" y="264.2" width="167.6" height="167.6" fill="#fffebe"/><path fill="#fff3ac" d="M2260 264l167 0 0 118-26 0-12-1-9-3-6-3-10-10-7-5-22-12-12-9-6-2-6 1-16 6-20 6-16 8 0-94z"/><path fill="#f6fbb0" d="M2311 340l5 0 4 2 13 9 15 8 6 4 4 5 2 4 4 17 4 3 8 2 10 1 41 1 0 36-168 0 0-63 11-9 11-8 12-5z"/><path fill="#fee999" d="M2260 264l167 0 0 107-11 1-10 0-11-2-10-3-39-17-9-6-11-9-6-2-6 1-13 6-8 3-7 1-17 0-10 3 0-83z"/><path fill="#edf8a3" d="M2308 343l6 0 5 2 12 8 15 9 6 6 1 4 0 6-2 5-6 9-2 4 0 5 4 5 8 4 12 2 60 0 0 20-168 0 0-50 10-13 14-13 12-8z"/><path fill="#fedc88" d="M2260 264l167 0 0 98-12 2-12-1-24-7-20-4-7-3-6-4-6-4-10-11-7-3-6 1-15 10-10 3-9 0-17-6-7 0 0-71z"/><path fill="#e1f399" d="M2305 346l8 0 6 2 23 15 5 6 1 5-2 4-11 14-2 4-1 5 0 7 2 8 2 4 4 4 7 3 12 2 18 1 50 0 0 2-168 0 0-29 8-20 9-14 10-12 9-6z"/><path fill="#feca79" d="M2260 264l167 0 0 90-9 2-9 0-9-2-16-4-17-1-9-1-8-4-5-5-11-17-5-3-4-2-3 0-3 2-11 13-9 5-9 2-4 0-5-2-5-4-10-10-3-1-4-1 0-57z"/><path fill="#cdeb9d" d="M2308 348l6 1 6 3 18 13 2 3 2 3 0 3-1 3-10 12-3 7-5 26-1 10-55 0 2-33 2-10 4-11 8-12 7-9 9-6z"/><path fill="#fdb96a" d="M2260 264l167 0 0 82-8 2-7 1-9-1-17-6-4 1-14 3-6-1-4-1-8-5-4-6-2-7 0-12-1-5-3-2-3-2-12-2-8 1-4 2-1 3-2 14-3 6-3 3-5 3-6 2-4 0-5-2-4-3-4-6-1-6-1-9-1-3-2-2-3-1-9 0 0-41z"/><path fill="#b8e2a1" d="M2304 351l7 0 8 3 15 12 2 3 1 5-3 4-8 12-9 27-4 8-5 6-1 1-23 0-5-9-3-10-2-12 2-12 5-14 7-12 7-7z"/><path fill="#fca55d" d="M2260 264l167 0 0 73-8 3-9 1-7-1-11-6-4-1-5 1-8 5-5 3-6 0-6-1-4-3-3-5-2-4 1-6 3-6 5-5 4-2 10-2 3-2 1-3 0-3-2-3-3-3-4-2-6-2-15-2-27-1-60 0 0-23zM2292 306l6 1 4 2 4 5 1 6-1 6-3 4-4 3-6 2-4 0-5-3-3-5-2-4 1-6 3-5 4-4z"/><path fill="#a2d9a4" d="M2308 353l8 2 9 7 5 6 2 3 0 3-9 16-7 18-5 9-3 4-4 4-5 1-4 1-5-2-3-3-3-4-3-5-2-12 1-12 4-14 7-12 4-4 4-3 5-3z"/><path fill="#f88c51" d="M2260 264l167 0 0 11-9 2-6 1-29-6-19-2-105-1 0-5zM2410 294l5 0 4 2 5 5 3 7 0 12-2 3-4 6-3 1-5 1-6-1-5-3-3-4-2-6 1-8 3-7 5-6zM2290 312l5-1 4 2 3 2 2 5 0 4-2 4-3 3-4 2-3 0-4-1-3-3-2-3 0-5 1-4 3-3zM2362 318l5-1 4 2 3 2 3 5-1 4-1 3-4 3-4 2-5 0-4-2-3-3-1-3 0-4 1-3 3-3z"/><path fill="#89d0a4" d="M2305 355l5 0 3 1 7 4 6 8 2 3 0 3-13 30-4 6-3 4-4 4-5 2-3 0-6-3-5-7-2-9 0-12 3-12 5-11 7-7z"/><path fill="#f57547" d="M2290 316l3-1 3 1 3 2 2 2 0 3 0 3-2 2-3 2-3 1-3-1-2-1-2-3 0-3 1-3zM2361 326l3-2 4 2 1 3-1 3-4 1-3-1-2-3z"/><path fill="#6ec5a5" d="M2304 358l6 0 3 1 4 2 6 7 1 6-2 6-11 25-6 7-3 1-4 1-5-1-5-6-2-8 0-10 2-11 4-9 6-7z"/><path fill="#ed6246" d="M2292 321l3-1 2 1 0 3-1 2-3 1-2-1-1-3z"/><path fill="#5ab4ab" d="M2307 360l6 1 5 4 2 4 1 6-5 14-6 12-6 7-3 1-3 0-5-2-3-6-2-8 1-9 2-9 5-7 5-6z"/><path fill="#47a0b3" d="M2305 363l5 0 4 2 3 4 1 6-3 11-6 12-5 5-5 1-4-2-3-4-1-6 0-8 2-7 3-6 5-6z"/><path fill="#358bbc" d="M2305 366l5 0 3 2 2 4 0 5-2 7-5 9-4 5-5 1-3-2-1-4-1-4 0-6 2-6 2-5 4-4z"/><path fill="#3f77b5" d="M2304 371l3-1 3 1 2 3 0 4-2 6-3 5-3 3-3 1-2-1-1-3-1-6 2-7z"/></g><path class="ct" d="M2305.2 366l-3.2 1.7-4 4.5-2.2 4.5-1.6 6-.4 6 .8 4.5 1.6 3.5 1.5 1.5 1.5.7 1.5.2 3-1 2.2-1.9 2.3-2.9 4.5-9 2.3-7.6 0-4.5-.8-2.1-1.5-2.1-3-1.9-1.5-.3-3 .2M2305.2 358.3l-3 1.1-3 1.9-3 2.8-2.7 3.6-4.5 9-2.6 10.5-.1 9 .7 4.5 1.5 4.5 1.7 3 2.8 3 1.7 1.1 3 .8 3-.2 3-1.3 3-2.4 3.3-4 3.3-6 7.9-18 1.7-4.5.6-3-.1-3-1.1-3-2.1-3-3-3-3-2-3-1.3-3-.4-3 .3M2298.4 432.2l3.8-1.4 3-1.9 4.5-4.4 3-4.2 4.6-9.1 7.5-21 2.9-5.3 5.7-8.2 1.1-3 0-3-1.3-3-5.8-6-7.2-5.8-4.5-2.8-3-1.2-4.5-.6-4.5.8-6 2.9-4.6 3.7-3.9 4.5-4 6-3.1 6-2.8 7.5-1.9 7.5-.9 7.5.1 6 1.1 7.5 1.8 6 2.9 6 3.3 4.3 3 2.6 4.7 2.1M2426.7 423l-45 0-18-.7-12-1.8-4.5-1.6-4.5-2.5-3.6-3.7-2.4-4.3-1.2-4.7 0-4.5 1.1-4.5 1.6-3 7.9-9 2.9-4.5 1-4.5-1-4.5-3.3-4.4-3.9-3.1-11.1-6.6-10.5-7.6-3-1.6-3-1.1-6 0-6.6 1.9-9.3 4.5-6.2 4.5-7.5 7.5-8.5 10.5-6 9-5.4 10.1M2426.7 379.4l-12 .7-12-.3-12-1.5-9-2.3-7.5-4.1-8.6-7.2-6.4-4.5-22.4-12-12.1-9.1-3-1.8-3-1-3-.1-3 .6-19.5 7.4-19.5 4.5-6.2 2.5-8.8 4.7M2426.7 354l-9 1.9-9 .1-9-1.6-15.3-4.7-4.2-.4-13.5.2-4.5-.6-4.5-1.3-6-2.8-5.3-4.1-4.8-6-6.9-12-4-3.4-4.5-1.8-4.5-.1-3 1.4-3 3-5.2 6.9-4.7 4.5-6.6 3.9-7.5 1.8-6-.4-4.5-1.7-5-3.6-7-7.8-3-2.6-3-1.3-4.5-.5M2426.7 285.9l-.7 3.8.7 3.5M2426.7 326l-3 3.4-3 2.2-3.8 1.6-3.7.6-4.5-.4-3-1-3.8-2.2-3.7-3.4-3.5-5.6-.9-3-.3-4.5 1.3-9 4-13.5-.1-4.5-1.8-3-1.6-1.5-4.6-2.7-4.7-1.8-13.3-2.9-18-1.4-28.5-.4-67.5 0M2293.2 310.6l4.5.6 3 1.6 1.5 1.4 2.3 4 .4 4.5-1.5 4.5-2.7 3.1-4.5 2.5-4.5.6-4.5-1.5-3-2.8-1.6-3.4-.4-4.5 1.5-4.5 2-2.6 3-2.3 4.5-1.2M2362.2 316.5l3-.4 3 .2 4.5 1.5 4.1 3.4 1.4 3 0 4.5-2.2 4.5-2.9 3-1.9 1.2-4.5 1.7-4.5 0-4.5-1.8-3-3-1.8-4.1.1-4.5 1.7-4 3-3.1 4.5-2.1"/></g><g class="hd"><circle cx="2342.5" cy="348" r="59.2"/><path d="M2330.1 290.11L2342.5 279.92L2354.9 290.11"/><path d="M2401.34 337.64 2402.88 334.65 2403.83 334.54 2405.24 335.04 2406.66 337.64 2406.44 345.95 2407.26 357.89 2405.49 363.08 2402.88 364.04 2400.4 361.53"/><path d="M2283.66 337.64 2282.12 334.65 2281.17 334.54 2279.76 335.04 2278.34 337.64 2278.56 345.95 2277.74 357.89 2279.51 363.08 2282.12 364.04 2284.6 361.53"/></g><g class="sn"><circle cx="2321.7" cy="288.3" r="3.5"/><circle cx="2363.3" cy="288.3" r="3.5"/><circle cx="2286.3" cy="314" r="3.5"/><circle cx="2398.7" cy="314" r="3.5"/><circle cx="2314.7" cy="318.4" r="3.5"/><circle cx="2342.7" cy="320" r="3.5"/><circle cx="2370.3" cy="318.4" r="3.5"/><circle cx="2262.9" cy="333.9" r="3.5"/><circle cx="2422.1" cy="333.9" r="3.5"/><circle cx="2295" cy="336" r="3.5"/><circle cx="2327.4" cy="336.4" r="3.5"/><circle cx="2357.6" cy="336.4" r="3.5"/><circle cx="2390" cy="336" r="3.5"/><circle cx="2312" cy="353" r="3.5"/><circle cx="2342.5" cy="351.5" r="3.5"/><circle cx="2373" cy="353" r="3.5"/><circle cx="2279.2" cy="359.6" r="3.5"/><circle cx="2405.8" cy="359.6" r="3.5"/><circle cx="2328.9" cy="365.3" r="3.5"/><circle cx="2356.1" cy="365.3" r="3.5"/><circle cx="2300.9" cy="371.6" r="3.5"/><circle cx="2384.1" cy="371.6" r="3.5"/><circle cx="2342.5" cy="377.4" r="3.5"/><circle cx="2319.9" cy="380.6" r="3.5"/><circle cx="2365.1" cy="380.6" r="3.5"/><circle cx="2275.2" cy="384.8" r="3.5"/><circle cx="2409.8" cy="384.8" r="3.5"/><circle cx="2299.5" cy="391.2" r="3.5"/><circle cx="2385.5" cy="391.2" r="3.5"/><circle cx="2327.7" cy="403.1" r="3.5"/><circle cx="2342.5" cy="403.1" r="3.5"/><circle cx="2357.3" cy="403.1" r="3.5"/></g><clipPath id="c23"><circle cx="92.5" cy="584" r="80.8"/></clipPath><g clip-path="url(#c23)"><g filter="url(#bl)"><rect x="8.7" y="500.2" width="167.6" height="167.6" fill="#fffebe"/><path fill="#fff3ac" d="M10 500l107 0-4 9-7 11-6 8-7 6-12 7-17 7-10 4-9 0-9-1-8-3-6-4-6-8-4-7-3-11 0-17 0-1zM75 575l13 1 12 2 12 4 9 7 4 6 1 6-2 12-1 4-3 3-5 4-6 0-12-3-22-2-30-8-5 0-3 2-3 4-8 18-5 9-6 6-6 2 0-68 4-1 5 1 12 5 4 1 5-2 9-5 7-4 9-3z"/><path fill="#f6fbb0" d="M123 501l0-1 54 0 0 168-168 0 0-6 6-4 6-7 5-8 8-17 3-4 3-3 5-1 7 0 36 7 18 2 6 0 5-1 4-3 19-16 1-5 0-7-4-9-5-7-5-4-6-3-29-10-2-2-2-3 2-4 7-10 8-11zM10 559l1 4 0 2-2 2 0-10z"/><path fill="#fee999" d="M16 500l96 0-4 9-4 8-7 7-6 5-9 5-15 6-12 3-9 1-7-1-6-2-6-5-4-4-4-8-2-7-1-9zM72 583l10-1 11 1 9 3 7 4 5 6 6 12 0 6-2 4-4 3-5 1-12-5-15-1-13-2-9-3-8-4-3-3-1-3 0-3 2-5 4-4 4-2 6-3zM10 590l8 1 7 5 5 6 1 8-3 15-6 12-6 6-3 2-4 1 0-56z"/><path fill="#edf8a3" d="M136 502l5-1 6 1 16 8 14 4 0 98-6 0-5-2-4-3-3-3-6-8-4-9-7-23-3-6-4-4-14-6-4-4-2-3-1-5 0-4 2-6 4-8 7-10 5-4zM48 623l7 0 9 1 29 6 10 1 12-1 17-7 6 0 6 1 7 5 3 3 3 5 2 10 0 6-2 6-4 9-129 0-1-6 2-6 4-10 5-12 6-8 3-2z"/><path fill="#fedc88" d="M22 500l86 0-3 8-3 6-6 7-6 4-8 4-12 5-12 3-9 1-6 0-6-2-6-4-4-5-4-7-2-8 0-10 0-2zM72 589l6-1 7 0 8 1 5 3 5 4 5 6 7 6 2 5-1 3-2 3-5 0-3-2-4-4-3-1-12 0-8 0-9-2-7-3-4-5-1-3 1-3 5-4zM10 594l6 1 6 5 4 7 1 7-2 11-4 9-6 6-6 2 0-47z"/><path fill="#e1f399" d="M135 518l3-1 3 1 7 6 3 2 17-3 9 1 0 78-6 0-6-3-5-4-5-8-3-7-2-8-3-27-1-6-2-2-2-1-10-2-4-4 0-3 1-4 3-3zM51 627l9 0 12 2 11 3 13 6 6 1 4 0 20-6 4-1 5 1 6 3 3 5 2 6-1 8-2 4-4 5-4 3-6 1-8 0-15-3-4 1-5 2-63 0-2-6-1-6 1-6 3-7 3-6 3-5 4-3z"/><path fill="#feca79" d="M25 500l80 0-3 8-4 6-5 5-6 4-9 5-9 3-9 2-9 1-6-1-5-2-4-2-5-5-2-4-3-6-1-8zM76 595l6-1 6 1 5 3 1 3 0 1-3 3-4 1-6 1-6-2-4-3-1-3 2-3zM10 598l6 2 5 4 2 6 1 6-1 7-3 8-5 5-5 2-1 0 0-39z"/><path fill="#cdeb9d" d="M171 530l6 1 0 65-2 1-4-1-3-1-4-3-4-5-5-10-2-12 1-14 2-10 3-4 3-3 4-3zM52 632l9-1 11 2 9 4 7 6 4 6 0 6-3 7-5 6-42 0-2-4-2-6-1-5 1-6 2-5 3-4 5-4zM126 646l3 0 1 3 0 3-2 1-2 1-3-2-2-2 1-3z"/><path fill="#fdb96a" d="M30 500l71 0-2 6-3 6-5 4-6 5-7 4-8 2-9 2-7 1-6-1-5-1-4-3-5-4-2-4-2-6-1-9 0-2zM10 602l5 1 3 4 3 4 0 6-1 6-2 6-3 3-5 2-1 0 0-31z"/><path fill="#b8e2a1" d="M169 536l3-1 5 1 0 55-2 1-6-2-6-5-4-8-2-9 0-11 2-10 4-7zM55 636l8 0 7 1 8 4 3 5 2 6-1 6-3 6-5 4-22 0-6-6-2-7 0-8 4-6 3-3z"/><path fill="#fca55d" d="M33 500l65 0-2 6-3 5-4 4-5 4-14 5-7 2-8 0-9-1-4-2-4-3-3-5-2-4-1-8 0-3zM10 606l3 1 3 2 2 4 0 4 0 5-2 4-3 3-3 1-1 0 0-23z"/><path fill="#a2d9a4" d="M171 540l6 0 0 47-2 0-6-1-4-5-4-6-1-9 0-9 2-7 4-6zM57 643l4-2 5 1 4 2 4 3 1 3 0 5-2 4-3 3-6 2-4 0-4-2-3-3-2-4 0-5 2-4z"/><path fill="#f88c51" d="M36 500l59 0-1 5-3 4-4 4-5 4-12 5-12 1-6 0-4-1-7-5-5-8-1-6 0-3zM10 612l3 1 2 4 0 3-2 3-3 2-1 0 0-13z"/><path fill="#89d0a4" d="M171 545l3-1 3 1 0 38-2 0-4-1-4-4-3-6-2-6 1-7 1-6 3-5z"/><path fill="#f57547" d="M39 500l54 0-2 5-3 3-7 7-11 4-10 2-9-2-7-4-3-3-2-4-1-6 0-2z"/><path fill="#6ec5a5" d="M172 550l5 0 0 28-2 0-3 0-3-3-3-4-1-5 0-6 2-4 2-5z"/><path fill="#ed6246" d="M42 500l48 0-4 8-7 5-9 4-9 1-9-2-6-3-4-7-1-4 0-2z"/><path fill="#5ab4ab" d="M172 556l3-1 2 1 0 16-2 0-2 0-2-1-2-5 0-6z"/><path fill="#e2514a" d="M45 500l42 0-4 6-5 5-8 3-9 1-7-1-5-3-4-6-1-5z"/><path fill="#d7414e" d="M48 500l36 0-3 5-5 4-6 2-7 1-6 0-5-3-4-4z"/><path fill="#c52c4b" d="M52 500l28 0-2 3-3 3-5 3-6 1-4-1-5-2-3-4-1-3z"/><path fill="#b11747" d="M58 500l16 0-4 4-6 1-5-2-2-3z"/></g><path class="ct" d="M176.7 550.8l-3-.6-1.5.4-3 2.2-2.4 4.4-1 6 .8 6 2.6 5.2 3 2.4 3 .4 1.5-.4M176.7 540.9l-3-.5-3 .5-3 1.5-3 2.9-1.9 2.9-1.8 4.5-1 4.5-.4 6 1.3 9 1.5 4.5 2.3 4.1 3 3.3 3 1.9 3 .8 3-.2M59.7 642.4l-4.2 1.8-2.7 3-1.4 4.5.6 4.5 1.7 3 3.8 3 3.7 1.1 4.5-.3 4.5-2.3 2.6-3 1.2-3-.1-4.5-2.2-4.1-3-2.4-4.5-1.5-4.5.2M176.7 530.6l-4.5-.5-6 1.1-4.5 2.6-3 3.1-2.3 3.8-2 6-1 6-.3 7.5.4 7.5 1.5 7.5 2 6 3.1 6 3.1 3.9 4.5 3.6 4.5 1.6 4.5.1M84.1 668.2l4.8-6 2.7-6 .6-3-.2-3-1.7-4.5-2.2-3-3.1-3-7-4.5-9.3-3.2-9-1-6 .6-6 2.3-4.5 3.7-3.3 5.1-2 6-.4 7.5 1.4 6 3.4 6M125.7 645.5l-1.5.4-2 1.3-.9 1.5-.1 1.5 1.5 2.2 3 1.1 2-.3 2-1.5.8-1.5 0-1.5-.7-1.5-1.1-1-3-.7M136 500.2l-4.3 2.5-4.5 4.1-4.5 5.6-4.5 7.3-3.4 7.5-1.7 6-.4 4.5.8 4.5 2.7 4.5 3.5 3 4.5 2.3 10.5 4.1 3 2.4 1.3 1.7 2.1 4.5 5.1 16.5 4 10.5 4 7.8 4.5 6.6 3 3 4.5 2.8 4.5 1.3 6 0M176.7 512.6l-13.5-4.6-14.6-7.8M154.7 668.2l4-7.5 1.9-7.5.3-4.5-.4-4.5-1.9-7.5-3.1-6-4.3-4.5-6-3.2-7.5-1.2-4.5.3-3 .8-10.5 5-4.5 1.6-9 1.3-12-.8-22.5-5.3-12-1.9-10.5-.3-6 1.3-3 1.7-3 3-3 4.6-3.3 6.6-4.7 10.5-2.7 7.5-1.2 6 .1 4.5M115.8 500.2l-3.9 9-5.7 9.4-6 7.5-7.5 6.7-10.5 6.2-16.5 7-10.5 3.3-9 1.2-7.5-.7-7.5-2.5-4.5-2.7-3-2.4-5.3-6-4-7.5-2.8-9-1.3-9 .2-10.5M8.7 585.1l4.5-.3 4.5.9 4.5 1.8 9 4.8 3 .8 1.5 0 3-1.3 7.5-5.8 4.5-2.8 6-2.7 6-1.9 7.5-1.4 7.5-.5 9 .2 7.5 1.1 7.5 1.9 6 2.3 6 3.4 4 3.1 2.6 3 2.4 4.5 1 4.5.3 6-.6 6-.9 3-1.7 3-4.1 3.6-3 1.2-3 .4-4.5-.7-9-2.7-13.5-1-12-2-13.7-3.3-14.8-4.9-3-.4-1.5.3-1.5 1-1.5 1.7-1.5 2.7-7.2 17.6-5 9-2.8 3.4-3 2.7-3 1.9-4.5 1.1M106.9 500.2l-2.8 7.5-3.9 6.3-5.1 5.7-6.9 5.3-9 4.6-10.5 3.7-10.5 2.6-9 .9-6-.7-6-2.2-4.5-3-3.5-3.7-3.6-6-2.1-6-1.2-7.5 0-7.5M8.7 595.9l3-.3 3 .5 3 1.4 3 2.4 2.8 3.8 1.3 3 .7 3 .4 4.5-1.3 9-1.5 4.5-2.4 4.8-3 4-3 2.4-3 1.3-3 .3M73.2 590.1l6-.8 6 .2 6 1.3 5.5 2.4 2.1 1.5 2.6 3 3.3 6.5 1.3 1 6.2 2.5 2.2 2 1.4 3-.6 3-1.3 1.5-1.7.7-3-.2-3-2-4.5-6.3-1.5-.5-12 1.9-6 .1-7.6-1.2-7.8-3-2.6-1.8-2.3-2.7-.5-1.5.2-3 2.1-3 1.9-1.5 3.1-1.7 4.5-1.4M100.1 500.2l-2.2 6-2.8 4.5-4.1 4.5-5.8 4.4-6 3.1-7.5 2.8-9 2.1-7.5.7-6-.4-4.5-1.2-4.5-2.3-3.6-3.2-3.2-4.5-1.9-4.5-1.3-6-.1-6M8.7 604.3l3-.4 1.5.4 3.5 2.4 2.6 4.5.8 6-.9 6-3 5.9-3 2.6-1.5.6-3 .1M94 500.2l-1.7 4.5-2.6 3.9-3.4 3.6-4.1 3-6 3.1-6 2-6 1.2-6 .4-4.5-.4-4.5-1.1-3-1.4-3.1-2.3-2.9-3.3-2.2-4.2-1.1-4.5-.3-4.5M10.2 617.4l.5 1.3-.5.5 0-1.8M88 500.2l-1.2 3-2 3-3 3-4.1 2.8-7.5 3-4.5 1-4.5.2-7.5-1.1-5.2-2.9-3.8-4.6-1.2-2.9-.7-4.5M81.4 500.2l-3 4.5-3.7 2.8-4.5 2-6 1-6-.7-4.2-2.1-2.8-3-1.6-4.5"/></g><g class="hd"><circle cx="92.5" cy="584" r="59.2"/><path d="M80.1 526.11L92.5 515.92L104.9 526.11"/><path d="M151.34 573.64 152.88 570.65 153.83 570.54 155.24 571.04 156.66 573.64 156.44 581.95 157.26 593.89 155.49 599.08 152.88 600.04 150.4 597.53"/><path d="M33.66 573.64 32.12 570.65 31.17 570.54 29.76 571.04 28.34 573.64 28.56 581.95 27.74 593.89 29.51 599.08 32.12 600.04 34.6 597.53"/></g><g class="sn"><circle cx="71.7" cy="524.3" r="3.5"/><circle cx="113.3" cy="524.3" r="3.5"/><circle cx="36.3" cy="550" r="3.5"/><circle cx="148.7" cy="550" r="3.5"/><circle cx="64.7" cy="554.4" r="3.5"/><circle cx="92.7" cy="556" r="3.5"/><circle cx="120.3" cy="554.4" r="3.5"/><circle cx="12.9" cy="569.9" r="3.5"/><circle cx="172.1" cy="569.9" r="3.5"/><circle cx="45" cy="572" r="3.5"/><circle cx="77.4" cy="572.4" r="3.5"/><circle cx="107.6" cy="572.4" r="3.5"/><circle cx="140" cy="572" r="3.5"/><circle cx="62" cy="589" r="3.5"/><circle cx="92.5" cy="587.5" r="3.5"/><circle cx="123" cy="589" r="3.5"/><circle cx="29.2" cy="595.6" r="3.5"/><circle cx="155.8" cy="595.6" r="3.5"/><circle cx="78.9" cy="601.3" r="3.5"/><circle cx="106.1" cy="601.3" r="3.5"/><circle cx="50.9" cy="607.6" r="3.5"/><circle cx="134.1" cy="607.6" r="3.5"/><circle cx="92.5" cy="613.4" r="3.5"/><circle cx="69.9" cy="616.6" r="3.5"/><circle cx="115.1" cy="616.6" r="3.5"/><circle cx="25.2" cy="620.8" r="3.5"/><circle cx="159.8" cy="620.8" r="3.5"/><circle cx="49.5" cy="627.2" r="3.5"/><circle cx="135.5" cy="627.2" r="3.5"/><circle cx="77.7" cy="639.1" r="3.5"/><circle cx="92.5" cy="639.1" r="3.5"/><circle cx="107.3" cy="639.1" r="3.5"/></g><clipPath id="c24"><circle cx="317.5" cy="584" r="80.8"/></clipPath><g clip-path="url(#c24)"><g filter="url(#bl)"><rect x="233.7" y="500.2" width="167.6" height="167.6" fill="#fffebe"/><path fill="#fff3ac" d="M237 552l4-1 3 1 3 2 3 5 5 14 3 26 2 5 3 4 5 5 8 4 17 9 10 4 7 2 8 0 7 0 8-3 14-7 22-16 10-5 11 0 12 3 0 64-168 0 0-114z"/><path fill="#f6fbb0" d="M235 500l167 0 0 100-17-3-6 0-6 1-10 5-26 16-9 3-7 2-8 0-9-2-9-4-13-7-9-7-5-8-2-12-2-21 1-7 2-5 3-4 9-9 4-6 2-8-2-7-3-5-6-4-6-1-7 0-6 3-5 4-16 19 0-33z"/><path fill="#fee999" d="M235 570l5 0 3 2 1 3 3 9 1 18 2 5 3 4 4 3 8 5 29 14 12 4 9 1 7 0 8-2 7-2 14-8 18-16 10-5 11-1 6 1 6 2 0 61-168 0 0-96z"/><path fill="#edf8a3" d="M303 500l99 0 0 95-11-2-16-7-8 0-13 4-27 12-11 2-6-1-6-2-8-5-5-4-4-5-2-4-1-6 1-6 4-7 10-11 4-6 4-8 2-9 1-7-1-8-2-7z"/><path fill="#fedc88" d="M382 606l5 0 6 0 9 3 0 59-168 0 0-40 4-4 5-3 7 0 11 2 13 6 20 9 9 3 10 1 9 0 12-3 12-5 8-6 16-16 6-4z"/><path fill="#e1f399" d="M397 539l5 0 0 51-8-2-6-4-4-6-2-9 0-10 3-9 6-8z"/><path fill="#feca79" d="M385 608l9 1 8 3 0 56-168 0 0-32 6-5 4-2 8-1 7 0 12 4 21 9 9 3 12 2 12 0 12-4 12-5 8-7 9-11 5-5 7-4z"/><path fill="#cdeb9d" d="M399 547l3 0 0 37-2 0-4-1-5-3-3-6-1-8 1-7 2-6 4-5z"/><path fill="#fdb96a" d="M387 610l7 0 8 4 0 54-168 0 0-25 6-6 6-3 9-1 10 1 9 3 20 9 12 3 10 1 12-1 11-3 12-6 7-7 9-11 5-6 7-5z"/><path fill="#b8e2a1" d="M399 553l3 0 0 26-2 0-3-1-3-2-2-4-1-4 0-6 2-5 3-3z"/><path fill="#fca55d" d="M381 613l4-2 6 0 6 2 5 3 0 52-168 0 0-20 7-6 6-3 9-2 9 1 9 3 20 8 12 3 12 1 12-1 13-5 11-6 6-5 12-17 4-4z"/><path fill="#a2d9a4" d="M399 560l3 0 0 11-2 1-3-1-2-3 1-5 1-2z"/><path fill="#f88c51" d="M382 614l5-1 6 0 4 2 5 3 0 50-168 0 0-14 9-8 4-3 6-2 6 0 8 1 27 10 13 3 17 1 9-2 7-2 11-5 7-6 4-4 10-16 4-4z"/><path fill="#f57547" d="M382 615l5-1 6 1 4 2 5 3 0 48-168 0 0-8 6-7 7-6 9-2 6 0 6 1 26 9 13 3 17 1 9-2 7-2 12-5 8-6 4-6 8-15 5-4z"/><path fill="#ed6246" d="M388 616l8 1 6 6-1 33 1 12-168 0 4-7 6-7 6-4 8-2 10 1 26 10 13 2 17 1 9-2 7-2 12-5 9-6 5-6 5-12 4-6 6-5z"/><path fill="#e2514a" d="M388 617l5 1 3 1 3 3 3 4 0 18-4 9 0 5 1 10-160 0 3-6 5-5 6-4 6-1 11 1 24 9 13 3 18 0 17-4 13-6 9-6 3-5 5-13 3-6 6-6z"/><path fill="#d7414e" d="M388 619l5 0 4 3 3 4 2 4-1 10-6 13-1 5 0 10-70 0 10-1 9-3 12-5 9-6 5-6 4-15 3-6 6-6zM262 656l9 2 24 8 14 2-65 0 3-5 4-4 5-2z"/><path fill="#c52c4b" d="M388 620l5 1 3 2 3 3 1 6 0 5-1 4-10 15 0 5 1 7-47 0 18-8 6-4 4-3 2-4 1-14 2-6 5-6 3-2zM258 662l6-1 6 1 19 6-39 0 3-4z"/><path fill="#b11747" d="M385 623l5 0 5 2 2 3 1 6-1 4-4 7-5 3-4 1-3-2-2-1-1-5-1-6 1-3 2-4 2-3zM372 664l4 0 2 1 2 3-21 0 7-3z"/></g><path class="ct" d="M401.7 546.9l-3-.3-3 .9-3 2-1.5 1.6-2 3.1-1.7 4.5-.9 7.5 1.2 7.5 1.2 3 2.2 3.3 4.5 3.5 3 .8 3-.1M233.7 500.9l.7-.7M297 500.2l3.9 6 2.6 6 1.6 7.5.2 7.5-1.9 9-3.4 7.5-4.2 6-11.1 12.4-2.4 4.1-1.5 4.5-.4 7.5 1.3 7.2 3 6.1 4.3 4.7 6.3 4.5 8.6 4.5 6.3 2.1 6 .9 4.5-.3 6-1.5 30-14 7.5-2.7 6-1.2 3-.1 4.5.7 15 4.8 9 2M233.7 556.9l4.5-1.7 4.5.6 3 2 3 4 2.6 5.9 1.9 7.3 2.4 19.7 1.2 6 1.8 4.5 3.4 4.5 5.7 4.5 7.9 4.5 17.7 9 10.9 4.2 7.5 1.5 7.5.2 7.5-1.1 7.5-2.4 6-2.7 7.5-4.5 19.5-15.2 6-3.4 4.5-1.7 6-1.2 6 0 6 1.1 6 2M233.7 631l4.5-4.2 4.5-2.6 4.5-1.1 6 .3 7.5 1.7 9 3 22.5 10.1 9 3.2 10.5 2 6 .2 6-.4 6-1.1 6-1.9 6-2.5 6-3.4 7.5-5.8 13.5-14.3 4.5-3.3 4.5-2.4 6-1.7 6-.3 6 1 6 2.7M233.7 645l6-5.3 6-3.5 6-1.6 6-.2 6 .9 6 1.7 22.5 9.3 10.5 3.1 6 1.1 7.5.4 12-1 6-1.4 7.5-2.7 6-2.9 5-3.2 6.4-6 7.4-10.5 3.7-4.5 4.5-3.9 4.5-2.6 6-1.7 6-.1 6 1.7 4.5 2.7M233.7 657.1l6-6.7 6-4.4 6-2.4 6-.9 6 .5 6 1.4 22.5 8.7 12 3 7.5.9 7.5.1 7.5-.6 6-1.1 7.5-2.2 6-2.5 7-3.7 5-3.7 4.5-5.2 8.5-15.1 3.5-3.9 4.5-3.3 6-2.2 6-.1 6 2 4.5 3.5M401.7 646.3l-1.7 5.4-.9 4.5.1 4.5 1.3 7.5M236.9 668.2l3.1-6 5.7-6.3 6-3.6 3-1 4.5-.7 4.5.2 6 1.2 22.5 8.1 12 2.8 7.5.7 9 .1 7.5-.8 7.5-1.5 7.5-2.3 7.5-3.3 7.4-4.1 4.6-3.5 2.2-2.5 1.8-3 4.3-12 2.3-4.5 3.5-4.5 3.9-3 3-1.3 3-.7 3-.1 3 .5 3 1.3 2.6 1.8 3.4 4.1M247.9 668.2l3.3-4.5 3.5-2.4 4.5-1.6 4.5-.4 9 1.7 20.8 7.2M338.7 668.2l7.5-2.6 9-4.1 9-4.8 4.7-3.5 2.3-3 1.1-3 1.4-12 1-3.9 1.6-3.6 2-3 3.5-3 3.4-1.6 3-.4 4.5.7 4.3 2.8 2.8 4.5 1 4.5-.2 4.5-1.4 4.5-8.3 15-.6 4.5.9 7.5"/></g><g class="hd"><circle cx="317.5" cy="584" r="59.2"/><path d="M305.1 526.11L317.5 515.92L329.9 526.11"/><path d="M376.34 573.64 377.88 570.65 378.83 570.54 380.24 571.04 381.66 573.64 381.44 581.95 382.26 593.89 380.49 599.08 377.88 600.04 375.4 597.53"/><path d="M258.66 573.64 257.12 570.65 256.17 570.54 254.76 571.04 253.34 573.64 253.56 581.95 252.74 593.89 254.51 599.08 257.12 600.04 259.6 597.53"/></g><g class="sn"><circle cx="296.7" cy="524.3" r="3.5"/><circle cx="338.3" cy="524.3" r="3.5"/><circle cx="261.3" cy="550" r="3.5"/><circle cx="373.7" cy="550" r="3.5"/><circle cx="289.7" cy="554.4" r="3.5"/><circle cx="317.7" cy="556" r="3.5"/><circle cx="345.3" cy="554.4" r="3.5"/><circle cx="237.9" cy="569.9" r="3.5"/><circle cx="397.1" cy="569.9" r="3.5"/><circle cx="270" cy="572" r="3.5"/><circle cx="302.4" cy="572.4" r="3.5"/><circle cx="332.6" cy="572.4" r="3.5"/><circle cx="365" cy="572" r="3.5"/><circle cx="287" cy="589" r="3.5"/><circle cx="317.5" cy="587.5" r="3.5"/><circle cx="348" cy="589" r="3.5"/><circle cx="254.2" cy="595.6" r="3.5"/><circle cx="380.8" cy="595.6" r="3.5"/><circle cx="303.9" cy="601.3" r="3.5"/><circle cx="331.1" cy="601.3" r="3.5"/><circle cx="275.9" cy="607.6" r="3.5"/><circle cx="359.1" cy="607.6" r="3.5"/><circle cx="317.5" cy="613.4" r="3.5"/><circle cx="294.9" cy="616.6" r="3.5"/><circle cx="340.1" cy="616.6" r="3.5"/><circle cx="250.2" cy="620.8" r="3.5"/><circle cx="384.8" cy="620.8" r="3.5"/><circle cx="274.5" cy="627.2" r="3.5"/><circle cx="360.5" cy="627.2" r="3.5"/><circle cx="302.7" cy="639.1" r="3.5"/><circle cx="317.5" cy="639.1" r="3.5"/><circle cx="332.3" cy="639.1" r="3.5"/></g><clipPath id="c25"><circle cx="542.5" cy="584" r="80.8"/></clipPath><g clip-path="url(#c25)"><g filter="url(#bl)"><rect x="458.7" y="500.2" width="167.6" height="167.6" fill="#fffebe"/><path fill="#fff3ac" d="M504 500l123 0 0 168-168 0 0-2 10-16 6-9 9-9 9-6 6-2 8 0 30 5 6 0 3-1 3-4 5-14 7-14 0-4-3-3-6-3-29-11-7-4-5-6-2-6-1-9 4-27 0-8-2-7zM587 524l1 3 1 0 1-1-1-2-1-1z"/><path fill="#f6fbb0" d="M460 500l29 0 6 3 4 4 5 7 3 7 0 8-2 24 1 7 3 6 3 5 7 4 32 14 4 3 2 4-1 5-7 17-2 4-3 2-4 1-6 0-30-4-6 1-5 1-6 3-7 7-21 24 0-157z"/><path fill="#fee999" d="M525 500l34 0 0 5 3 6 24 40 5 5 3 1 3 1 7-2 10-6 5-6 3-8 1-9-2-10-4-9-6-8 16 0 0 168-163 0 5-13 8-12 9-10 9-5 7-2 8 0 10 2 21 5 5 1 3-1 2-2 1-14 3-7 4-6 11-11 0-3-3-3-6-3-21-5-12-4-9-5-5-7-3-9 1-12 3-12 9-22z"/><path fill="#edf8a3" d="M460 502l11 0 10 2 9 4 6 5 4 5 3 8 0 7-1 23 2 7 3 6 4 5 5 2 24 10 7 4 5 5 2 4-1 5-4 9-3 5-3 3-5 2-4 0-29-4-6 0-6 2-6 3-6 4-22 23 0-149z"/><path fill="#fedc88" d="M537 515l9 0 4 1 6 3 9 8 7 11 6 13 1 11-1 4-2 5-2 3-4 3-5 2-7 1-8-1-9-1-8-3-7-3-6-4-3-5-3-6-1-7 1-8 3-7 3-7 5-6 6-5zM612 572l7 0 8 0 0 74-11 1-9-2-7-3-11-7-3-1-16 4-6-1-5-2-4-6-2-7 2-9 4-7 3-3 5-3 12-2 3-1 6-11 6-6 9-5zM498 629l9-1 10 1 14 5 11 6 6 6 2 6 1 7-1 9-81 0 3-12 7-12 8-9 5-3z"/><path fill="#e1f399" d="M463 508l9-1 8 2 7 3 6 5 4 6 2 6 0 30 2 6 3 6 4 4 5 3 21 8 9 4 5 5 2 3 1 3-1 4-3 7-3 4-3 3-4 1-6 1-27-4-6 0-5 1-4 2-6 4-24 22 0-138z"/><path fill="#feca79" d="M537 521l9 0 9 3 9 8 6 9 3 10 0 9-2 5-2 4-7 5-6 2-6 1-13-3-6-2-6-3-4-4-3-5-2-6 0-6 1-6 2-6 4-6 3-4 5-3zM615 581l6 0 6 1 0 54-9 1-9-1-8-4-10-9-3 1-9 7-6 2-5 1-4-1-6-4-3-6 0-6 3-7 4-5 5-2 6-1 4 0 8 3 3 0 1-1 6-11 5-6 7-4zM501 630l9 0 9 2 10 4 7 5 4 6 2 6 0 8-1 7-68 0 1-6 1-6 3-6 3-6 9-9 5-3z"/><path fill="#cdeb9d" d="M469 512l8 1 6 2 6 4 4 5 2 5 1 6 0 27 3 7 2 5 4 3 5 2 19 7 11 5 6 5 1 3 1 5-2 4-2 5-4 3-5 2-10 0-24-4-6 1-5 1-9 6-15 14-7 6 0-129z"/><path fill="#fdb96a" d="M535 525l9 0 9 2 8 6 5 8 3 9 0 9-3 7-7 6-4 1-6 1-12-2-10-4-4-4-3-4-1-4-1-6 1-6 2-5 5-8 5-4zM613 588l8 0 6 2 0 38-5 1-7 1-8-3-6-5-4-8-1-4 1-5 3-7 6-6zM565 605l5-1 6 1 5 3 3 5 0 6-1 4-4 5-6 3-6 1-5-2-3-2-2-5-1-4 2-6 3-5zM507 632l7 1 8 3 6 4 5 4 2 5 2 6-1 7-1 6-58 0 0-6 2-7 2-6 5-6 4-5 5-3 6-2z"/><path fill="#b8e2a1" d="M460 518l9-1 8 1 6 2 4 4 3 5 2 6 1 27 1 6 3 6 4 4 4 3 24 7 8 4 4 3 3 4 1 5-2 4-3 5-5 2-7 1-8 0-19-4-9 1-9 5-17 14-7 6 0-120z"/><path fill="#fca55d" d="M537 528l7 0 8 2 6 5 6 7 2 9 0 8-4 6-6 5-9 2-10-2-9-4-6-7-1-5 0-4 2-9 5-8 4-3zM612 596l7-1 4 1 4 2 0 22-3 2-5 1-6-1-4-2-4-4-2-6 1-5 3-6zM565 606l5-1 4 1 5 3 2 4 1 4-1 5-4 4-4 3-5 1-4-1-3-2-3-4-1-4 1-5 3-4zM502 635l8 0 7 2 6 3 5 4 3 5 1 6 0 7-2 6-49 0-1-4 1-6 2-6 2-5 4-4 4-4 5-3z"/><path fill="#a2d9a4" d="M460 522l8-1 6 1 5 2 4 3 3 4 2 5 2 29 2 7 3 6 3 3 4 3 23 5 10 5 4 4 2 4 0 5-3 3-5 3-7 1-9-1-16-4-5-1-4 1-9 5-17 15-7 5 0-111z"/><path fill="#f88c51" d="M537 531l7 0 8 2 6 5 4 6 1 7 0 6-3 6-6 5-7 2-9-1-8-4-5-6-2-8 0-4 2-5 4-6 3-3zM616 606l3 0 2 1 0 3-2 2-3 0-1-1-1-3zM565 608l5-1 4 1 3 2 2 4 1 5-2 4-3 3-4 2-4 0-3-1-3-2-2-3 0-3 0-5 3-4zM501 638l6-1 7 1 6 3 4 5 3 4 1 6-1 6-2 6-41 0-1-4 0-5 3-9 6-7 4-3z"/><path fill="#89d0a4" d="M460 527l8-1 5 1 5 3 3 3 3 8 2 19 2 11 3 7 4 7 6 3 19 2 11 4 4 3 2 4 0 4-2 3-6 3-7 0-8-1-15-6-6 0-4 2-5 3-16 15-9 6 0-103z"/><path fill="#f57547" d="M537 534l6-1 6 2 6 3 4 6 2 7-1 6-4 6-4 3-8 2-7-2-6-3-4-6-2-6 2-7 4-6zM568 608l5 1 3 2 2 3 0 3 0 3-2 3-3 3-5 1-3-1-3-2-2-2 0-3 0-5 2-3 3-2zM501 641l6-1 6 1 4 2 4 4 2 5 1 6-1 6-2 4-33 0-1-7 0-5 2-4 4-7z"/><path fill="#6ec5a5" d="M460 532l6-1 5 1 4 3 3 4 3 8 4 25 7 23-2 4-18 17-7 7-6 3 0-94zM514 593l8 1 6 2 4 5 1 3-1 1-4 3-6 0-7-1-6-3-3-3-2-3 1-2 2-1z"/><path fill="#ed6246" d="M541 536l6 1 5 2 4 5 2 4 0 6-2 5-4 4-5 2-6 0-6-2-5-4-2-6 0-6 3-5 4-4zM568 609l3 1 3 2 2 2 1 3-1 3-2 3-3 2-3 0-3 0-2-2-2-3 0-3 1-3 2-3zM501 644l6-1 4 1 5 3 2 3 2 5 0 4-1 5-3 4-23 0-1-1-2-6 1-8 4-5z"/><path fill="#5ab4ab" d="M460 537l5 0 4 1 3 3 3 4 3 11 6 30 1 6-1 6-7 9-9 9-9 7 0-86zM519 599l3 0 2 2 0 1-2 1-3-1-2-1z"/><path fill="#e2514a" d="M540 539l4 0 5 1 3 4 3 4 0 5-1 4-3 3-4 2-6 1-4-2-3-2-3-5-1-4 2-5 3-4zM567 611l4 0 2 2 2 3-1 4-1 2-3 2-5-1-2-1-1-3 1-5zM505 647l5 1 3 2 2 5 0 4-1 5-4 3-3 1-6 0-3-1-3-3-1-3 0-5 4-6 3-2z"/><path fill="#47a0b3" d="M460 542l5 1 3 2 4 6 5 18 4 20-2 7-4 8-8 9-8 6 0-77z"/><path fill="#d7414e" d="M541 542l3 0 4 2 2 2 2 3 0 4-1 3-2 2-3 1-5 1-3-1-3-3-1-3 0-4 1-3 3-3zM568 612l2 1 2 1 1 3-1 3-1 2-3 0-3-1-1-4 1-3zM502 654l3-1 3 2 0 4-1 2-3 1-2-1-2-3z"/><path fill="#358bbc" d="M460 548l6 3 5 8 4 15 2 13-1 8-4 7-6 8-7 5 0-68z"/><path fill="#c52c4b" d="M541 547l3 0 3 3 0 3-3 2-3 0-3-2 0-4zM567 615l1 0 3 1 0 1-1 3-2 0-2-1 0-2z"/><path fill="#3f77b5" d="M460 554l5 4 4 8 3 11 1 9-1 7-3 7-4 6-6 4 0-57z"/><path fill="#4e63ac" d="M460 563l3 4 3 7 2 12-1 6-2 4-3 5-3 2 0-41z"/></g><path class="ct" d="M458.7 614.8l7-5.1 6.3-7.5 3.5-7.5 1.1-7.5-.3-6-1.3-7.5-2.3-9-2.1-6-2.3-4.5-2.3-3-2.8-2.3-4.5-1.6M458.7 625.7l4.5-2.7 5.5-4.3 15.1-15 5.1-6 .7-1.5.5-3-.5-3-5.4-17.8-4.5-25.7-1.3-4.5-1.4-3-3.3-3.9-4.1-2.1-4.9-.8-6 .3M511.2 594.6l-3.2 1.6-1.1 1.5 0 1.5 2.1 3 4.6 3 5.1 1.8 6 .5 4.5-1.4 2.2-2.4.2-1.5-1.1-3-1.4-1.5-2.9-1.8-3.1-1.2-4.4-.7-4.5 0-3 .6M458.7 636.2l7.5-5.3 16.5-14.5 7.5-4.5 4.5-1.2 4.5-.2 21 4.2 6 .5 4.5-.3 4.5-1 4.5-2.7 2.3-3 1.3-4.5-.2-3-1.4-3-2.5-3-4.2-3-4.3-2.2-6-2.1-19.5-4.8-4.5-2.3-3.7-3.6-3.2-6-2-7.5-.7-7.5-.3-15-.8-6-2.1-6-3.4-4.5-4.8-3.3-6-1.8-7.5-.4-7.5 1.1M458.7 648.1l22.8-21.9 5.7-4.2 6-2.9 4.5-1.1 6-.1 19.5 2.9 7.5.6 6-.3 4.5-1.3 3-2.1 3-4 3.1-7 1.5-6-.3-3-1.5-3-4.9-4.5-8.7-4.5-23.4-9-4.8-3.1-3.9-4.4-2.7-6-1.1-6-.2-7.5.7-15-.7-7.5-1.1-4.2-1.5-3.3-4.5-5.8-3-2.4-3.8-2.3-8.2-2.9-9-1-10.5.7M458.9 668.2l9.4-16.5 7.4-10.5 8.5-9 4.5-3.5 4.5-2.5 6-1.8 6-.5 9 .9 24 4.6 6-.2 3-1.5 1.9-3 3.1-10.5 1.9-4.5 7.5-12 1.2-3-.4-3-1-1.5-3.7-2.7-6-2.6-18-5.9-9.3-3.8-7.3-4.5-3.1-3-2.1-3-1.5-3-1.2-4.5-.5-9 1.1-9 3.4-16.5.5-7.5-.7-4.5-1.1-3-2.2-3.8-3-3.7M581.7 514.6l-2.2 2.1-.8 3 .9 4.5 2.1 4.6 3 4.2 3 2.6 3 1.3 1.5.1 2.4-.8 2.1-2 1.6-4 .1-4.5-1.7-4.7-3-3.8-4.5-2.7-4.5-.7-3 .8M626.7 635.6l-4.5 1.2-4.5.4-4.5-.4-4.5-1.1-4.5-1.9-3-1.9-7.5-6.8-3-2-1.5 0-1.5.7-6.3 5.4-5.7 3.3-6 1.4-4.5-.4-4.5-1.9-3-2.8-2.1-4.1-.7-4.5.5-4.5 2.3-5.5 3-3.9 4.5-3.1 4.5-1.4 3-.1 4.5.8 7.5 2.8 1.5.3 1.4-.4 1.6-1.6 3.6-7.4 2.8-4.5 2.6-3 4.5-3.5 6-2.8 6-1.3 6 0 6 1.3M473.4 668.2l.6-7.5 1.8-6 3.7-7.5 4.4-6 4.8-4.8 6-3.9 6-2 6-.6 7.5.8 9.8 3 8.4 4.5 5.1 4.5 2.8 4.5 1.8 6 .2 7.5-1.5 7.5M536.7 520.9l4.5-.5 4.5.3 4.5 1.2 4.5 2.1 4.5 3.1 4.5 4.4 3.5 4.7 2.5 4.5 2.4 6 .9 4.5.3 4.5-.4 4.5-1.4 4.5-2.7 4.5-3 3-3.6 2.2-6 1.9-6 .4-6-.5-7.5-1.7-6-2.3-6-3.6-4.1-3.9-2.8-4.5-1.7-6-.2-6 1.1-6 2.1-6 3.6-6 3.5-3.9 4.5-3.2 6-2.2M483.7 668.2l-.9-4.5.3-6 1.9-6 2.5-4.5 4-4.5 4.7-3.4 4.5-1.9 6-.8 6 .8 5.8 2.3 4.2 3 3.6 4.5 1.9 4.5.7 6-1 6-1.8 4.5M541.2 530.1l4.5.3 3 .7 3 1.3 3.5 2.3 3.1 3 2.3 3 1.6 3.1 1.4 4.4.5 4.5-.3 3-2.2 6-2.3 3-3.1 2.6-6 2.4-4.5.5-4.5-.3-4.5-1.1-4.5-2.1-3-2-3-3.1-1.8-2.9-1.6-4.5-.3-4.5.6-4.5 1.6-4.1 2.1-3.4 2.8-3 4.1-2.7 3-1.2 4.5-.7M617.7 602.2l3 .8 1.5 1.1 1.7 2.6.4 3-.6 2.1-1.5 2.2-1.5 1-3 .8-3-.6-1.6-1-1.4-1.6-.9-2.9.3-3 2.1-3 1.5-.9 3-.6M568.2 606.5l4.5.4 2.7 1.3 1.8 1.5 2.1 3 .9 4.5-1.1 4.5-2.1 3-4.3 3-4.5.9-4.5-1.1-3-2.4-1.9-3.4-.5-3 .8-4.5 1.6-3.1 3-2.8 4.5-1.8M496.7 668.2l-2.7-3-1.3-3-.4-3 .8-4.5 1.6-3.3 3-3.2 3-1.8 4.5-1 4.5.6 3 1.6 2.7 2.6 1.5 3 .6 3-.5 4.5-2.2 4.5-3.1 3M541.2 537.7l4.5.4 4.5 2 3.7 3.6 2.1 4.5.4 4.5-1.4 4.5-3.3 3.9-4.5 2.2-3 .4-3-.1-5.3-1.9-2.2-1.5-2.5-3-1.7-4.5-.2-3 .6-3 2.3-4.2 4-3.3 5-1.5M566.7 610.6l3-.3 2.6.9 1.9 1.6 1.3 2.9 0 3-1.3 2.8-1.8 1.7-2.7 1.2-3-.1-2.4-1.1-1.5-1.5-1.2-3 .3-3 .6-1.5 1.2-1.7 3-1.9M568.2 616.5l1 .7-1 1-.7-1 .7-.7"/></g><g class="hd"><circle cx="542.5" cy="584" r="59.2"/><path d="M530.1 526.11L542.5 515.92L554.9 526.11"/><path d="M601.34 573.64 602.88 570.65 603.83 570.54 605.24 571.04 606.66 573.64 606.44 581.95 607.26 593.89 605.49 599.08 602.88 600.04 600.4 597.53"/><path d="M483.66 573.64 482.12 570.65 481.17 570.54 479.76 571.04 478.34 573.64 478.56 581.95 477.74 593.89 479.51 599.08 482.12 600.04 484.6 597.53"/></g><g class="sn"><circle cx="521.7" cy="524.3" r="3.5"/><circle cx="563.3" cy="524.3" r="3.5"/><circle cx="486.3" cy="550" r="3.5"/><circle cx="598.7" cy="550" r="3.5"/><circle cx="514.7" cy="554.4" r="3.5"/><circle cx="542.7" cy="556" r="3.5"/><circle cx="570.3" cy="554.4" r="3.5"/><circle cx="462.9" cy="569.9" r="3.5"/><circle cx="622.1" cy="569.9" r="3.5"/><circle cx="495" cy="572" r="3.5"/><circle cx="527.4" cy="572.4" r="3.5"/><circle cx="557.6" cy="572.4" r="3.5"/><circle cx="590" cy="572" r="3.5"/><circle cx="512" cy="589" r="3.5"/><circle cx="542.5" cy="587.5" r="3.5"/><circle cx="573" cy="589" r="3.5"/><circle cx="479.2" cy="595.6" r="3.5"/><circle cx="605.8" cy="595.6" r="3.5"/><circle cx="528.9" cy="601.3" r="3.5"/><circle cx="556.1" cy="601.3" r="3.5"/><circle cx="500.9" cy="607.6" r="3.5"/><circle cx="584.1" cy="607.6" r="3.5"/><circle cx="542.5" cy="613.4" r="3.5"/><circle cx="519.9" cy="616.6" r="3.5"/><circle cx="565.1" cy="616.6" r="3.5"/><circle cx="475.2" cy="620.8" r="3.5"/><circle cx="609.8" cy="620.8" r="3.5"/><circle cx="499.5" cy="627.2" r="3.5"/><circle cx="585.5" cy="627.2" r="3.5"/><circle cx="527.7" cy="639.1" r="3.5"/><circle cx="542.5" cy="639.1" r="3.5"/><circle cx="557.3" cy="639.1" r="3.5"/></g><clipPath id="c26"><circle cx="767.5" cy="584" r="80.8"/></clipPath><g clip-path="url(#c26)"><g filter="url(#bl)"><rect x="683.7" y="500.2" width="167.6" height="167.6" fill="#fffebe"/><path fill="#fff3ac" d="M804 500l48 0 0 168-16 0 5-7 2-11 0-9-2-9-5-9-7-7-7-4-9-2-9 2-12 5-12 8-8 7-4 9 0 9 2 9 5 9-91 0 0-89 7 6 9 4 12 5 14 4 7 1 8 0 6-1 6-3 10-10 3-4 6-12 5-6 7-5 11-2 3-3 1-5 0-4-3-14 0-4 1-5 6-12 1-4-1-5z"/><path fill="#f6fbb0" d="M693 501l1-1 99 0 2 3 0 5-6 12-2 4 1 5 4 15 0 4-1 3-4 3-7 5-5 3-4 6-6 11-5 6-6 4-6 3-9 2-10 0-12-3-12-5-12-8-9-11 0-57zM804 616l9-1 9 3 7 6 6 8 3 9 0 11-3 9-6 7-47 0-6-7-2-6-1-8 1-7 3-6 5-6 6-5 8-5z"/><path fill="#fee999" d="M817 500l35 0 0 136-2-7-3-6-6-7-6-6-4-4-6-3-6-1-5 0-9 4-32 17-4 3-5 5-4 7-1 9 1 11 4 10-80 0 0-77 51 16 9 1 6-3 6-6 7-9 3-5 7-16 5-6 5-3 4 0 5 0 9 4 3 0 3-1 3-3 2-6 1-6-4-21 2-4 6-14 1-4zM852 656l0 12-5 0z"/><path fill="#edf8a3" d="M705 502l2-2 78 0 1 2 1 3 0 3-6 12-1 4 1 5 5 13 0 5 0 3-2 3-10 9-11 16-9 8-7 3-8 1-10-1-11-2-9-4-9-6-7-6-5-8-4-8 0-30 4-8 4-6 7-6zM801 620l9-1 9 2 7 5 5 8 3 9-1 9-3 9-7 7-35 0-5-4-3-6-2-6-1-6 2-6 2-5 3-4 5-5 6-4z"/><path fill="#fedc88" d="M852 541l0 65-3-1-4-3-6-7-3-9-1-11 1-12 4-12 3-5 3-3 3-2zM783 562l3-1 4 1 4 3 4 4 8 14 1 6-1 4-2 5-4 4-11 9-12 5-6 1-5-1-3-2-2-3 0-4 0-5 7-15 5-16 4-6zM685 602l8 0 7 0 14 5 14 7 5 5 4 4 3 9 1 6-1 8-3 12-6 10-47 0 0-66z"/><path fill="#e1f399" d="M720 502l5-2 51 0 4 5 0 4-5 9-1 5 1 4 6 14 1 4-1 5-1 3-17 22-6 6-7 3-9 2-9 0-11-2-9-4-8-5-6-6-6-7-3-8-2-7 0-9 1-9 4-8 5-7 6-5 8-4zM802 623l9 0 8 2 6 6 4 7 1 9-2 9-5 7-7 5-21 0-5-3-3-3-3-4-2-5-1-9 1-4 2-5 4-4 4-3 4-3z"/><path fill="#feca79" d="M850 551l2-1 0 47-5-2-4-5-2-7-1-8 1-9 2-7 3-5zM783 563l4 0 3 1 3 3 3 4 3 10 0 11-3 7-6 6-7 4-8 1-4-2-2-2-1-4 0-4 3-20 2-6 4-6zM688 608l6-1 6 1 12 3 6 4 5 4 4 4 2 5 2 10 0 6-1 6-3 6-3 5-9 7-31 0 0-59z"/><path fill="#cdeb9d" d="M742 501l11-1 7 1 6 1 4 3 1 1 0 3-3 8 0 4 1 5 8 14 1 4 0 4-1 5-3 4-9 14-6 6-6 3-6 2-6 1-8 0-9-2-9-3-7-5-6-5-5-6-4-8-2-7 0-9 2-8 3-6 5-6 5-4 6-4 8-3zM802 626l8 0 7 2 6 6 3 9 0 9-4 7-6 6-8 2-7 0-8-4-5-5-3-8 0-7 3-8 7-6z"/><path fill="#fdb96a" d="M850 557l2-1 0 36-3-2-3-4-2-5-1-6 0-6 2-6 2-4zM781 565l3-1 3 0 5 4 3 7 1 8-2 9-3 6-5 4-6 1-4-1-2-4-2-6 0-9 1-6 2-6 3-5zM690 612l10 0 6 1 6 3 5 3 3 4 5 9 1 6 0 5-1 4-3 6-3 5-4 3-9 5-6 1-6 0-6-1-4-2 0-49z"/><path fill="#b8e2a1" d="M739 508l14-1 4 1 2 1 2 12 12 18 1 5 1 4-1 5-3 6-6 9-5 4-4 4-6 3-6 1-6 1-9-1-8-3-7-4-6-4-6-6-3-6-3-7-1-8 2-7 2-6 4-6 5-4 6-4 6-3zM802 629l8 0 6 3 5 5 2 6 0 7-3 6-5 5-7 3-7-1-6-3-5-5-2-6 0-6 3-6 5-5z"/><path fill="#fca55d" d="M852 561l0 26-3-2-2-3-1-8 1-8 2-3zM781 566l5-1 4 3 3 4 1 6 0 6-3 6-4 5-4 2-3-1-3-2-3-5-1-6 1-6 1-5 3-4zM694 616l9 0 9 5 7 7 3 9-1 9-2 4-3 5-7 5-9 3-9-1-7-3 0-40 4-2z"/><path fill="#a2d9a4" d="M729 515l12 0 4 0 5 3 15 15 4 6 2 5 1 4-1 5-5 10-4 5-5 4-9 5-6 1-7 0-8-2-7-3-6-3-6-5-4-6-3-6-1-8 0-6 2-6 3-5 4-5 6-3 6-3zM805 632l6 1 5 3 3 5 1 5-1 6-3 4-5 3-6 1-5-1-4-3-3-4-2-6 1-5 3-4 5-3z"/><path fill="#f88c51" d="M784 566l4 2 3 3 1 4 1 5-1 4-3 5-3 3-3 1-3-1-3-3-2-5-1-6 1-4 3-5 3-2zM852 567l0 14-2-3-1-4 1-5zM691 620l9-1 8 3 6 5 3 7 1 7-2 8-5 6-8 4-4 0-6 0-5-2-4-3 0-30z"/><path fill="#89d0a4" d="M732 520l10 1 11 5 10 10 3 5 2 4 1 5-1 4-5 9-7 7-9 4-6 1-8 0-6-1-6-3-7-5-4-4-3-5-3-6-1-6 1-6 2-5 3-5 5-4 4-2 6-2zM804 636l4 0 3 2 3 3 2 3-1 5-1 3-3 3-4 1-5 0-3-2-3-4 0-3 0-4 2-3 3-3z"/><path fill="#f57547" d="M783 567l3 1 3 2 2 4 0 4 0 5-2 4-3 2-3 1-3-1-2-2-2-3-1-4 2-8 3-3zM693 623l7 0 6 2 5 4 3 6 0 6-2 6-4 5-6 3-6 1-5-1-4-3-3-3 0-20 4-4z"/><path fill="#6ec5a5" d="M729 524l10 1 9 3 9 6 7 8 2 8-2 7-5 8-8 5-6 2-6 1-6-1-6-1-6-3-4-3-5-5-2-4-2-5-1-6 1-6 2-4 4-4 4-4 5-2zM805 642l3 1 1 3-1 3-3 1-2-1-1-3 0-2z"/><path fill="#ed6246" d="M781 569l3-1 3 2 2 2 1 3 0 5-1 3-2 3-3 2-4-1-2-3-1-3-1-4 1-3 2-3zM696 626l6 1 4 2 4 5 1 4-1 5-2 4-5 4-4 1-5 0-4-2-4-4-2-5 0-4 3-6 4-3z"/><path fill="#5ab4ab" d="M726 529l9-1 9 2 9 4 6 6 3 7 0 6-2 6-5 6-8 4-5 1-6 0-10-3-5-3-4-4-4-4-1-5-1-6 1-4 2-5 3-3 4-3z"/><path fill="#e2514a" d="M781 570l3 0 2 0 2 2 1 3-1 6-2 3-2 2-3-1-1-1-3-4 1-6zM696 630l4 1 3 1 3 3 0 3 0 3-1 3-3 3-3 1-3 0-3-1-3-3-1-3 0-3 1-3 3-4z"/><path fill="#47a0b3" d="M730 532l8 0 7 2 8 4 4 6 2 4 0 6-3 6-5 4-4 2-5 1-9 0-8-4-7-6-2-4-1-5 1-7 2-3 4-3z"/><path fill="#d7414e" d="M781 571l3 0 2 1 2 3-1 6-3 3-3 0-2-4 0-5z"/><path fill="#358bbc" d="M729 536l6-1 6 1 6 2 5 4 3 5 1 4-1 5-4 4-6 4-7 0-9-2-6-5-3-6 0-6 3-5z"/><path fill="#c52c4b" d="M781 573l3 0 2 2 0 5-2 2-3-1-1-2 0-3z"/><path fill="#3f77b5" d="M730 540l5-1 4 1 5 1 4 3 2 3 1 4 0 3-2 3-5 3-5 1-4-1-6-3-4-4-1-5 2-4z"/></g><path class="ct" d="M728.7 536l-3 1.3-3 2.3-1.9 2.6-1.2 3-.3 3 .4 3 1.2 3 2 3 2.8 2.7 3 1.9 4.5 1.8 4.5.8 4.5-.2 3-.6 3-1.3 3.1-2.1 3.3-4.5 1.1-4.5-.9-4.5-3.1-4.5-5-3.9-6-2.4-6-.8-6 .9M725.7 525.5l-6 2.1-4.2 2.6-3.3 3.3-2.5 4.2-1.4 4.5-.2 6 1.6 6 2.4 4.5 3.9 4.5 3.7 3 6 3.3 6 2 6 .8 6-.3 6-1.7 4.5-2.4 3.9-3.2 2.7-3 2.4-3.9 1.4-3.6.5-3-.4-4.4-2.6-6.1-3.4-4.2-3.6-3.3-5.4-3.7-4.5-2.2-4.5-1.5-4.5-.9-6-.1-4.5.7M736.2 510.7l-10.5 1.9-7.5 2.4-6.4 3.2-5.6 4.2-4.1 4.8-3.2 6-1.5 6-.2 6 1.4 7.5 2.6 6 4.2 6 5.3 5.1 6 4 7.5 3.3 9 2.1 7.5.3 6-.9 4.5-1.5 6-3.4 4.5-3.8 4.5-5.4 5.4-8.8 1.6-4.5.3-4.5-1-4.5-2.1-4.5-11.1-15-5.1-8.9-1.4-1.6-2.9-1.5-3.2-.5-10.5.5M802.2 630.5l-3 1.1-3 1.8-2.1 1.8-2.4 3-1.9 4.5-.3 6 .7 3 1.5 3 2.4 3 2.1 1.8 3 1.6 3 1 6 .1 3-.8 3-1.5 4.5-4.2 2.7-5.5.5-3-.3-4.5-1-3-1.6-3-1.8-2.1-3-2.4-3-1.4-3-.7-6 .4M717.1 500.2l-7.9 3-7.7 4.5-6.8 6-4.5 6-3.6 7.5-1.8 7.5-.4 7.5 1 7.5 2.5 7.5 4.1 7.5 5.2 6.4 6.5 5.6 7.4 4.5 8.6 3.6 9 2.3 9 .8 6-.5 4.5-1.1 6-2.7 4.5-3 6-6.1 8.6-12.8 9-10.5 1.3-4.5-.3-4.5-1.4-4.5-4.6-10.5-.8-4.5 1.1-4.5 4.3-7.5 1.1-3-.1-3-.6-1.5-2.6-3M819.1 668.2l5.6-4.6 2.3-2.9 2.5-4.5 1.9-7.5.1-4.5-.7-4.5-1.6-4.5-1.6-3-2.2-3-3.1-3-3.6-2.5-3-1.4-3-.9-4.5-.6-7.5 1.1-4.5 1.8-4.5 2.6-3.8 2.9-2.9 3-2.1 3-2 4.5-.8 3-.4 4.5.5 4.5 1.4 4.5 4.1 6.7 3 3 3.2 2.3M683.7 581.1l6.3 4.6 8.7 4.5 13.5 5.1 13.5 4 7.5 1.3 7.5.1 6-1.3 4.5-2.2 6-4.8 6-6.4 3-4.6 5.7-12.2 4.8-6.4 3-2.3 4.5-2 12-1.3 2.3-1.5 1.1-1.5 1.5-4.5.2-4.5-.7-4.5-2.6-10.5-.2-4.5 1.3-4.5 5.2-9 1.3-3 .6-4.5-1.2-4.5M838.1 668.2l4-7.5 1.5-4.5 1.2-6 .1-6-.4-4.5-2.6-9-2.3-4.5-3.1-4.5-2.8-3.2-4.5-4-7.5-4.1-4.5-1.3-4.5-.3-4.5.5-4.5 1.4-13.5 6.5-11.9 7.5-3.6 3-3.9 4.5-2.5 4.5-1.3 4.5-.6 4.5.1 4.5 1.9 9 1.9 4.5 2.6 4.5M851.7 597.5l-1.5-.4-3-1.9-3.8-5-2.6-7.5-.9-9 1.1-9 2.7-7.5 3.5-4.7 1.5-1.1 3-1.1M683.7 609.2l6-1.6 6-.3 6 .5 7.5 2.1 6 2.8 4.5 3 4.7 4.5 3.2 4.5 2.5 6 1.2 6 0 6-1.2 6-2.4 6-3.5 5.4-4.5 4.7-4.6 3.4M782.7 562.9l4.5.1 3 1.3 3 2.6 2.6 3.8 2.3 6 .9 4.5.4 6-.5 4.5-1.4 4.5-1.8 3-2.5 3-3 2.6-3 2-4.5 2.1-4.5 1-3-.1-4-1.6-2-2.3-1.2-3.7.1-4.5 3.3-19.5 1.8-6 1.6-3 2.3-3 2.6-2.1 3-1.2M851.7 582.1l-1.5-1.1-1.5-2.8-.6-4.5.9-4.5 1.2-2.2 1.5-1.1M683.7 623.1l4.5-2.8 6-1.8 6 0 6 1.7 4.8 3 4.2 4.6 2.7 5.9.7 6-1 6-2.4 4.9-3.5 4.1-5.5 3.6-6 1.7-6-.1-6-1.9-4.5-2.9M782.7 566l3 .2 1.5.6 2.9 2.4 2.2 4.5.7 4.5-.8 6-2 4.2-3 3.3-1.5.9-3 .7-3-.7-3-2.9-1.8-4-.8-6 .6-4.5 1.8-4.5 3.2-3.4 3-1.3M782.7 569.1l3 .5 1.5 1.1 1.8 3 .6 3-.6 4.5-1.7 3-1.6 1.5-3 .8-3-1.2-1.5-1.8-1-2.3-.4-3 .4-3 1.2-3 1.3-1.6 3-1.5M694.2 628.8l4.5-.4 4.5 1.6 3 2.8 1.8 3.9.1 4.5-1.1 3-2.4 3-4.4 2.3-4.5.2-3-1-3-2.2-2.4-3.8-.6-4.5 1.4-4.5 2.6-3 3.5-1.9M782.7 573.2l1.8.5 1.2 1.5.2 1.5-.2 1.8-.7 1.2-.8.8-1.5.4-1.8-1.2-.7-3 1-2.6 1.5-.9"/></g><g class="hd"><circle cx="767.5" cy="584" r="59.2"/><path d="M755.1 526.11L767.5 515.92L779.9 526.11"/><path d="M826.34 573.64 827.88 570.65 828.83 570.54 830.24 571.04 831.66 573.64 831.44 581.95 832.26 593.89 830.49 599.08 827.88 600.04 825.4 597.53"/><path d="M708.66 573.64 707.12 570.65 706.17 570.54 704.76 571.04 703.34 573.64 703.56 581.95 702.74 593.89 704.51 599.08 707.12 600.04 709.6 597.53"/></g><g class="sn"><circle cx="746.7" cy="524.3" r="3.5"/><circle cx="788.3" cy="524.3" r="3.5"/><circle cx="711.3" cy="550" r="3.5"/><circle cx="823.7" cy="550" r="3.5"/><circle cx="739.7" cy="554.4" r="3.5"/><circle cx="767.7" cy="556" r="3.5"/><circle cx="795.3" cy="554.4" r="3.5"/><circle cx="687.9" cy="569.9" r="3.5"/><circle cx="847.1" cy="569.9" r="3.5"/><circle cx="720" cy="572" r="3.5"/><circle cx="752.4" cy="572.4" r="3.5"/><circle cx="782.6" cy="572.4" r="3.5"/><circle cx="815" cy="572" r="3.5"/><circle cx="737" cy="589" r="3.5"/><circle cx="767.5" cy="587.5" r="3.5"/><circle cx="798" cy="589" r="3.5"/><circle cx="704.2" cy="595.6" r="3.5"/><circle cx="830.8" cy="595.6" r="3.5"/><circle cx="753.9" cy="601.3" r="3.5"/><circle cx="781.1" cy="601.3" r="3.5"/><circle cx="725.9" cy="607.6" r="3.5"/><circle cx="809.1" cy="607.6" r="3.5"/><circle cx="767.5" cy="613.4" r="3.5"/><circle cx="744.9" cy="616.6" r="3.5"/><circle cx="790.1" cy="616.6" r="3.5"/><circle cx="700.2" cy="620.8" r="3.5"/><circle cx="834.8" cy="620.8" r="3.5"/><circle cx="724.5" cy="627.2" r="3.5"/><circle cx="810.5" cy="627.2" r="3.5"/><circle cx="752.7" cy="639.1" r="3.5"/><circle cx="767.5" cy="639.1" r="3.5"/><circle cx="782.3" cy="639.1" r="3.5"/></g><clipPath id="c27"><circle cx="992.5" cy="584" r="80.8"/></clipPath><g clip-path="url(#c27)"><g filter="url(#bl)"><rect x="908.7" y="500.2" width="167.6" height="167.6" fill="#fffebe"/><path fill="#fff3ac" d="M910 500l167 0 0 34-12 5-21 15-12 4-9 1-27-2-15-1-17-3-18-4-16-6-12-6-9-7 0-30zM1026 566l6-1 4 2 5 2 4 5 5 10 3 9 1 9 0 9-3 9-3 3-3 2-6 3-7 1-15 1-8-3-3-2-3-5-3-6-1-6-1-12 3-9 7-10 9-7z"/><path fill="#f6fbb0" d="M1075 545l2 0 0 123-61 0-2-7 1-6 1-6 4-6 9-6 21-8 3-2 2-4 1-6 1-7-2-29 1-13 3-9 5-6 5-5zM933 599l6 0 7 1 6 2 6 4 5 4 5 6 2 6 2 6 1 7-1 6-2 6-3 6-4 6-5 3-6 4-6 2-17 0-4-1-9-5-7-8 0-40 5-6 5-4 6-3z"/><path fill="#fee999" d="M939 502l1-2 135 0 2 3 0 10-5 7-7 6-9 5-11 4-12 3-12 2-13 0-14 0-13-2-14-3-10-4-9-5-7-6-3-6-1-6zM1027 583l8-1 7 3 6 6 3 8 1 9-2 8-5 6-9 3-9 0-7-3-6-5-3-7-1-8 1-4 2-5 7-7z"/><path fill="#edf8a3" d="M1074 554l3-1 0 98-5 14-2 3-44 0-2-6 0-6 2-6 3-4 7-6 6-2 12-3 3-2 2-2 1-8-2-34 1-14 3-7 3-6 4-6zM934 620l6 0 5 2 4 4 2 5 1 6-3 5-4 4-5 2-6 0-4-2-5-5-2-4 1-6 1-5 5-4z"/><path fill="#fedc88" d="M960 501l1-1 93 0 3 5 1 4-1 5-4 5-6 4-8 4-9 2-10 2-21 0-11-1-10-3-8-3-7-4-4-5-2-4 0-5zM1030 587l8 0 6 4 4 5 2 8-1 7-2 5-6 5-6 2-8-1-6-3-4-5-2-7 1-8 3-6 5-4z"/><path fill="#e1f399" d="M1074 560l3-1 0 76 0 1-3 1-3-1-2-1-4-9-3-15-1-19 1-11 2-9 4-7zM1050 643l6 0 4 1 2 2 3 3 1 4 0 5-1 4-3 5-1 1-27 0-2-4-1-5 1-4 1-3 2-3 4-3 5-2z"/><path fill="#feca79" d="M979 502l2-2 53 0 5 5 1 4-1 3-2 3-4 3-6 3-13 2-15 0-14-3-7-5-2-3-1-4 1-3zM1029 590l6-1 6 2 4 4 3 6 1 6-2 6-3 4-6 3-6 1-6-2-5-3-3-6-1-6 2-6 4-5z"/><path fill="#cdeb9d" d="M1077 565l0 64-5-2-3-3-2-4-3-12-1-15 1-10 3-9 4-6 3-2zM1045 651l5 0 3 1 2 1 1 3 0 3 0 3-3 3-3 2-3 0-3-1-3-2-2-3 0-3 2-3z"/><path fill="#fdb96a" d="M1030 592l6 0 5 1 4 5 2 4 0 6-2 5-4 4-5 2-6 0-4-1-4-4-3-6 0-6 2-4 5-5z"/><path fill="#b8e2a1" d="M1075 570l2 0 0 53-5-2-3-5-2-9-2-11 1-9 2-7 3-6z"/><path fill="#fca55d" d="M1030 593l5 0 4 1 4 4 2 4 1 6-2 5-3 3-5 2-6 0-4-2-3-3-2-5 0-4 1-5 4-4z"/><path fill="#a2d9a4" d="M1075 575l2 0 0 43-3-2-3-4-2-7-1-7 0-8 1-6 3-6z"/><path fill="#f88c51" d="M1030 595l5-1 4 2 3 2 2 4 1 5-2 4-2 4-5 2-4 0-5-1-3-3-2-5 0-4 2-5 3-3z"/><path fill="#89d0a4" d="M1075 581l2-1 0 32-3-2-2-3-2-9 1-11 2-4z"/><path fill="#f57547" d="M1030 596l5-1 3 1 3 2 2 4 1 5-2 4-3 3-3 2-4 0-3-1-3-2-3-5 0-4 1-3 3-3z"/><path fill="#6ec5a5" d="M1077 587l0 18-3-3-1-6 1-6z"/><path fill="#ed6246" d="M1029 598l3-2 4 1 3 1 2 3 2 3-1 4-1 4-3 2-3 1-5 0-3-2-2-3-1-3 1-5z"/><path fill="#e2514a" d="M1032 598l3-1 3 2 2 2 1 3 1 3-1 3-3 3-3 1-3 0-3-1-3-3-1-3 0-3 2-3 2-2z"/><path fill="#d7414e" d="M1030 599l3-1 3 1 4 3 1 3-1 3-2 3-2 2-3 0-3-1-2-1-2-3 0-4 2-3z"/><path fill="#c52c4b" d="M1030 600l3 0 3 0 3 3 0 5-3 3-4 1-3-2-1-2 0-4z"/><path fill="#b11747" d="M1032 602l3-1 3 3 0 3-2 3-4 0-2-2-1-3 1-3z"/></g><path class="ct" d="M1076.7 575l-3 1.6-3.2 4.6-1.9 6-.7 7.5.7 9 2.1 7.3 3 4.6 3 1.6M1076.7 564.6l-3 1-2.7 2.1-1.8 2.1-2.2 3.9-2.8 9-.9 10.5 1.1 15 1.2 6 1.9 6 1.7 3.5 3 3.6 1.5 1 3 .6M1045.2 651.2l-3 1.7-1.6 1.8-1.2 3 .1 3 1.2 3 3 2.6 3 .9 3-.2 3.6-1.8 2.3-3 .9-3-.3-3-1.6-3-1.9-1.5-3-1-4.5.5M1076.7 552.2l-3 .7-3 1.6-4.5 4.2-3.8 6-3 9-1 6-.3 6 1.6 34.5-.3 6-.7 3-1.5 2.4-2.8 2.1-12.2 3.5-6 2.2-4.5 2.7-3.8 3.6-2.8 4.5-1.8 6 0 6 1.6 6M1071 668.2l2.1-4.5 3.6-10.5M931.2 618.5l-3.1 1.7-2.9 2.5-3.2 5-1.2 6 1 6 1.5 3 1.9 2.6 4.5 3.5 6 1.8 4.5-.1 3-.8 3-1.5 3-2.3 3.4-4.7 1.6-6-.3-4.5-.9-3-1.6-3-2.2-2.6-5-3.4-4-1.2-3-.2-6 1.2M1076.7 531l-9 4.1-19.5 11.5-6 2.2-7.5 1.6-15 1.4-16.5.2-18-1.2-15-2.3-16.5-3.9-12-4.2-10.5-5.1-9.5-6.6-5.7-6-2-3-2.1-4.5-.7-3-.2-4.5.4-3 1.6-4.5M1024.2 573.5l4.5-.9 6 0 4.5 1.2 3 1.8 3 2.9 3 4.8 4.2 11.4 1.2 6 .3 6-.6 6-1.5 4.5-2.1 3.4-3 2.8-4.5 2.5-4.5 1.5-6 1.1-7.5.1-5.9-.9-4.1-1.5-3.5-2.2-3.5-3.8-2.6-4.5-1.6-4.5-1-6 .2-6 1.3-6 2-4.5 3.7-5.5 4.5-4.3 4.5-3 6-2.4M1048.4 500.2l3.5 4.5 1 3-.1 3-2.1 4.5-4.7 4.5-6.8 3.8-9 3-10.5 2-12 .7-12-.7-10.5-1.9-9-2.9-7.3-4-4.7-4.5-2-4.5-.1-3 1-3 3.5-4.5M1028.7 588.2l6-.5 6 1.8 3 2.1 2.7 3.1 2.7 6 .5 3-.1 4.5-.7 3-1.3 3-2.3 3.1-3 2.4-6 2.4-4.5.3-3-.4-3-1-3-1.7-3.8-3.6-1.8-3-1.1-3-.5-3 .3-4.5 2.2-6 2.3-3 2.4-2.1 3-1.8 3-1.1M1028.7 592.7l3-.7 3 0 4.5 1.3 3.8 2.9 2.8 4.5.7 3 .1 3-1.1 4.5-3.3 4.5-4.5 2.7-3 .6-3 .1-4.5-1.3-4.5-3.5-2.5-4.6-.6-3 .1-3 1.5-4.5 3-3.8 4.5-2.7M1033.2 594.7l4.5.9 3 1.9 2.4 3.2 1.2 4.5-.8 4.5-2.8 4.1-3 2-4.5.9-4.5-1-3-2-2.7-4-.7-4.5 1.2-4.5 2.2-2.9 3-2.1 4.5-1M1030.2 597.6l3-.6 3 .4 3 1.8 2.2 3 .7 4.5-.9 3-2 2.6-3 1.8-4.5.3-3-1.2-2.2-2-1.6-3-.3-3 .7-3 1.9-2.7 3-1.9M1033.2 599.2l3 .7 1.5.9 1.5 1.9.7 2.5-.4 3-1.8 2.6-1.5 1-3 .6-3-.8-1.5-1.2-1.5-2.2-.4-3 .4-1.7 1.5-2.3 1.5-1.2 3-.8"/></g><g class="hd"><circle cx="992.5" cy="584" r="59.2"/><path d="M980.1 526.11L992.5 515.92L1004.9 526.11"/><path d="M1051.34 573.64 1052.88 570.65 1053.83 570.54 1055.24 571.04 1056.66 573.64 1056.44 581.95 1057.26 593.89 1055.49 599.08 1052.88 600.04 1050.4 597.53"/><path d="M933.66 573.64 932.12 570.65 931.17 570.54 929.76 571.04 928.34 573.64 928.56 581.95 927.74 593.89 929.51 599.08 932.12 600.04 934.6 597.53"/></g><g class="sn"><circle cx="971.7" cy="524.3" r="3.5"/><circle cx="1013.3" cy="524.3" r="3.5"/><circle cx="936.3" cy="550" r="3.5"/><circle cx="1048.7" cy="550" r="3.5"/><circle cx="964.7" cy="554.4" r="3.5"/><circle cx="992.7" cy="556" r="3.5"/><circle cx="1020.3" cy="554.4" r="3.5"/><circle cx="912.9" cy="569.9" r="3.5"/><circle cx="1072.1" cy="569.9" r="3.5"/><circle cx="945" cy="572" r="3.5"/><circle cx="977.4" cy="572.4" r="3.5"/><circle cx="1007.6" cy="572.4" r="3.5"/><circle cx="1040" cy="572" r="3.5"/><circle cx="962" cy="589" r="3.5"/><circle cx="992.5" cy="587.5" r="3.5"/><circle cx="1023" cy="589" r="3.5"/><circle cx="929.2" cy="595.6" r="3.5"/><circle cx="1055.8" cy="595.6" r="3.5"/><circle cx="978.9" cy="601.3" r="3.5"/><circle cx="1006.1" cy="601.3" r="3.5"/><circle cx="950.9" cy="607.6" r="3.5"/><circle cx="1034.1" cy="607.6" r="3.5"/><circle cx="992.5" cy="613.4" r="3.5"/><circle cx="969.9" cy="616.6" r="3.5"/><circle cx="1015.1" cy="616.6" r="3.5"/><circle cx="925.2" cy="620.8" r="3.5"/><circle cx="1059.8" cy="620.8" r="3.5"/><circle cx="949.5" cy="627.2" r="3.5"/><circle cx="1035.5" cy="627.2" r="3.5"/><circle cx="977.7" cy="639.1" r="3.5"/><circle cx="992.5" cy="639.1" r="3.5"/><circle cx="1007.3" cy="639.1" r="3.5"/></g><clipPath id="c28"><circle cx="1217.5" cy="584" r="80.8"/></clipPath><g clip-path="url(#c28)"><g filter="url(#bl)"><rect x="1133.7" y="500.2" width="167.6" height="167.6" fill="#fffebe"/><path fill="#fff3ac" d="M1179 599l10-1 11 3 7 4 8 8 4 2 5 0 9-5 27-3 13 1 11 4 6 4 5 6 4 7 3 6 0 20-5 10-1 3-120 0-8-9-2-3 0-4 1-8 5-19 0-5-3-9 0-4 3-5z"/><path fill="#f6fbb0" d="M1203 518l12-1 12 1 12 3 10 5 9 6 8 7 5 8 3 9 0 9-1 7-4 8-5 6-6 5-9 4-9 4-16 4-2 2 0 3-1 2-2 0-1-6-5-3-18-6-23-3-7-3-3-2-4-6-3-6-2-6 0-9 1-7 4-9 6-8 7-6 9-5 11-4zM1143 598l9-1 4 2 3 2 2 3 5 12 1 9-1 6-2 7-3 8-3 4-3 3-5 3-4 2-5 0-7-2 0-56z"/><path fill="#fee999" d="M1183 602l8 0 6 2 4 3 11 9 7 2 39-4 9 1 9 4 5 3 5 4 3 5 2 6 2 6-1 6-3 10-3 5-4 4-45 0-6-2-4-1-3 1-4 2-37 0-9-16-1-8 0-7 5-14-1-3-2-7 0-5 2-3z"/><path fill="#edf8a3" d="M1210 532l14 0 7 2 6 3 10 7 4 4 2 5 2 4 0 6-2 9-3 5-4 4-10 7-8 2-9 2-9 0-9-2-9-3-7-3-7-6-4-6-2-6 0-7 3-8 4-6 6-5 7-4 9-3zM1143 606l7 1 6 3 3 3 3 4 1 8-1 9-4 9-6 5-8 2-6-1-4-1 0-38 4-3z"/><path fill="#fedc88" d="M1185 606l4 0 4 1 11 9 14 5 12 1 28-2 8 1 7 2 8 6 3 5 2 4 0 9-2 9-6 8-8 4-18 0-18-7-7-2-3 1-3 2-6 6-28 0-8-16-2-9 2-8 5-13 0-3-3-6 0-3 1-2z"/><path fill="#e1f399" d="M1206 542l9-1 9 2 7 3 6 4 4 7 1 6-2 6-4 6-5 3-6 3-6 1-7 1-6-1-6-2-6-3-4-3-3-5-2-4 0-6 2-5 4-4 3-3 6-3zM1140 612l6-1 6 2 5 4 3 6 0 6-3 8-4 5-6 3-7 0-6-4 0-25z"/><path fill="#feca79" d="M1194 620l3-1 4 0 17 6 7 1 9 0 21-2 6 0 6 2 8 4 5 7 2 7-2 8-2 5-4 4-5 3-5 1-4 0-6-1-20-9-7-1-3 1-3 2-9 11-23 0-4-7-2-8-2-6 0-6 1-6 3-4 4-7z"/><path fill="#cdeb9d" d="M1207 553l5-1 4 0 4 1 4 2 3 3 1 4-1 3-2 3-4 3-6 1-6 0-6-3-3-4-1-5 3-4zM1140 617l4-1 5 0 4 3 3 4 0 5-1 6-3 4-5 3-4 0-3-1-3-2-3-4 0-11 3-4z"/><path fill="#fdb96a" d="M1198 623l5 0 4 1 14 6 6 2 7 0 20-4 10 1 6 3 5 5 2 7-1 6-3 5-3 3-4 2-6 1-9-3-18-9-6 0-3 1-3 2-11 16-18 0-4-6-3-7-1-8 0-6 1-6 4-6 5-4z"/><path fill="#b8e2a1" d="M1141 622l3-1 3 0 3 2 1 2 1 3 0 3-2 3-3 2-3 0-3 0-3-4-1-3 0-3 2-3z"/><path fill="#fca55d" d="M1198 626l6 0 8 3 8 6 2 5-1 4-7 15-7 9-13 0-4-6-3-9-1-9 1-7 2-4 3-4zM1249 633l6-1 5 1 4 1 4 3 3 3 1 4-1 5-2 4-6 3-6 0-8-3-7-6-4-4 0-3 3-3z"/><path fill="#f88c51" d="M1201 628l6 1 7 5 3 4 0 6-3 11-5 9-5 4-7 0-3-3-4-6-2-7-1-8 1-6 4-6 5-3zM1252 640l5-2 5 2 3 3-1 4-1 2-3 1-6-2-4-4 1-3z"/><path fill="#f57547" d="M1198 630l6 0 5 2 4 5 2 6-1 7-4 9-4 6-5 2-4-1-4-4-3-6-1-7 0-6 2-6 3-4z"/><path fill="#ed6246" d="M1200 632l4 0 5 3 3 4 1 5-1 8-3 7-3 4-5 2-4-1-3-3-3-6-1-6 0-6 2-5 3-4z"/><path fill="#e2514a" d="M1200 634l4 0 4 3 3 4 0 5 0 6-3 6-4 4-3 2-3-1-4-4-2-4-1-6 1-6 2-5 3-3z"/><path fill="#d7414e" d="M1198 636l5 0 3 1 2 3 2 4 0 6-2 6-4 4-3 2-3-1-3-3-2-8 0-4 1-5 2-3z"/><path fill="#c52c4b" d="M1200 638l3 0 3 2 2 3 0 3 0 4-1 5-3 3-3 2-2-1-2-1-2-3-1-6 1-7 2-2z"/><path fill="#b11747" d="M1200 641l3 0 1 1 2 3 0 2 0 4-2 4-3 2-3-1-1-3-1-3 1-6z"/></g><path class="ct" d="M1142.7 620.1l-3.1 1.6-2.4 3-.9 3 .1 3 1.4 3 1.9 1.9 3 1.4 3 0 3-1.2 3-3.2 1.1-3.4-.1-3-1.2-3-2.8-2.5-3-.9-3 .3M1133.7 640.4l3.1 2.3 4.4 1.6 4.5.2 4.5-1.5 3-2.1 3.4-4.2 1.9-4.5.8-6-.8-4.5-1.5-3-2.5-3-4.3-2.6-4.5-.9-4.5.5-4.5 1.9-3 2.3M1205.7 543.5l-6 2-4.7 2.7-3.4 3-3.1 4.5-1.3 4.5.1 4.5 1.7 4.5 3.2 4.2 4.1 3.3 4.9 2.4 6 1.7 6 .5 6-.4 6-1.6 5.5-2.6 3.8-3 3.5-4.5 1.3-3 .6-3-.1-3-.7-3-1.4-3-2.3-3-5.7-4.5-7.5-3-7.5-1.1-9 .9M1133.7 651.4l4.5 1.6 6 .5 6-1.5 4.5-2.7 4.5-5.1 3-5.7 2.5-7.8.7-6-.9-6-2.3-5.5-3-4.6-4.5-3.9-4.5-1.6-6-.4-4.5.7-6 2.2M1207.2 525.7l-12 2.2-10.5 4.2-4.5 2.6-4.5 3.4-6.6 7.1-3.9 7.5-1.2 4.5-.5 4.5.4 4.5 1.1 4.5 3.7 7.5 5.5 6.2 3 2 4.5 2.1 24 6.4 9 1.7 7.5.1 9-1.6 9-3 7.5-4 5.2-3.9 4.2-4.5 3-4.5 2.4-6 .9-6-.4-6-1.2-4.5-2.9-6-4.8-6-4.9-4.3-6-3.9-6-2.8-7.5-2.4-7.5-1.4-7.5-.5-7.5.3M1178.5 668.2l-8.7-10.5-1.5-3-.7-3 0-4.5.7-4.5 4-15 .7-4.5-.2-3-2.3-9-.1-3 .8-2.8 1.1-1.7 3.4-2.7 4.5-1.6 6-.6 7.5 1 7.5 2.8 6.4 4.1 7.2 7.5 4.4 1.8 4.5-.5 6-2.9 3-.9 19.5-2.5 7.5-.6 7.5.4 6 1.2 6 2.2 4.5 2.5 6.3 5.3 4.7 6 2.9 6 2 7.5.4 7.5-1.2 7.5-2.9 7.5-3.8 6M1186.5 668.2l-3.8-7.5-3.8-9-1.6-6-.3-4.5 1-6 4.7-10.5.7-3-.6-3-2.9-6-.1-3 .7-1.5 1.5-1.5 2.7-1.2 3-.4 3 .4 3.5 1.2 2.4 1.5 4.8 4.5 4.1 3 7.7 3.8 4.5 1.5 7.5.5 12-.7 15-1.5 7.5-.1 9 1.7 4.5 1.9 3.2 1.9 4.9 4.5 3.8 6 1.8 6 .3 6-1.3 6-3 6-5.2 5.6-5.7 3.4M1249.8 668.2l-15.6-6.8-4.5-1.3-3-.2-3 .6-3 1.8-5.2 5.9M1190.8 668.2l-3.5-6-3.3-9-1.4-7.5.3-6 1.8-6 4.5-6.7 3-2.8 3-1.9 4.5-.9 6 .9 13.5 5.3 7.5 1.6 9-.2 18-2.6 6 .1 4.5.8 4.8 1.9 4.2 3 3.6 4.5 1.8 4.5.3 6-2 6-3.7 4.7-3 2.1-3 1.4-6 1.1-6-.7-6-2-15-7.4-4.5-1.2-3-.1-3 .9-3 2.2-3 3.7-7 10.3M1194.8 668.2l-3.7-4.5-3.4-7.5-1.6-7.5.2-7.5 1.9-6 3.2-4.5 2.3-2.1 3-1.7 4.5-.9 6 1.2 6.2 3.5 4.8 4.5 1.9 3 .4 1.5-.4 4.5-6.1 13.5-3.8 6.5-3.7 4M1255.2 633.7l4.5.2 4.3 1.3 3.2 2.2 1.9 2.3 1.3 3-.1 4.5-1.6 3.3-3 2.7-3 1.2-3 .3-6-1.1-6.1-3.4-3.5-3-2.3-3-.7-3 .5-1.5 1.3-1.5 5.3-3 7-1.5M1196.7 630.7l3-1 3-.1 3 .8 3 1.6 2.1 1.7 2.4 3 1.3 3 .5 3-.9 7.5-3.6 9-1.9 3-2.9 3.2-1.5 1-3 .9-3-.4-1.5-.8-3-2.8-3.1-5.6-1.9-7.5-.1-6 1.5-6 2.8-4.5 3.8-3M1198.2 633.4l4.5-.5 4.5 2 3 3.5 1.2 2.8.5 3-.4 6-2.7 7.5-3.1 4.3-2.5 1.7-2 .6-3-.5-3.5-3.1-2.4-4.5-1.5-6 .1-6 1.3-4.5 3-4.4 3-1.9M1199.7 636.2l3-.1 3.6 2.1 2 3 1.1 4.5-.3 4.5-1.9 5.8-3 3.9-3 1.3-3-.7-2.8-2.8-1.9-4.5-.7-4.5.4-4.5 1-3 2.5-3.4 3-1.6M1199.7 640.7l3 .1 1.5 1 1.5 2.4.5 3-.5 4.5-1.4 3-1.6 1.6-1.5.6-1.5-.2-1.5-.9-1.5-2.1-.9-3.5 0-3 .9-3.6 1.5-2 1.5-.9"/></g><g class="hd"><circle cx="1217.5" cy="584" r="59.2"/><path d="M1205.1 526.11L1217.5 515.92L1229.9 526.11"/><path d="M1276.34 573.64 1277.88 570.65 1278.83 570.54 1280.24 571.04 1281.66 573.64 1281.44 581.95 1282.26 593.89 1280.49 599.08 1277.88 600.04 1275.4 597.53"/><path d="M1158.66 573.64 1157.12 570.65 1156.17 570.54 1154.76 571.04 1153.34 573.64 1153.56 581.95 1152.74 593.89 1154.51 599.08 1157.12 600.04 1159.6 597.53"/></g><g class="sn"><circle cx="1196.7" cy="524.3" r="3.5"/><circle cx="1238.3" cy="524.3" r="3.5"/><circle cx="1161.3" cy="550" r="3.5"/><circle cx="1273.7" cy="550" r="3.5"/><circle cx="1189.7" cy="554.4" r="3.5"/><circle cx="1217.7" cy="556" r="3.5"/><circle cx="1245.3" cy="554.4" r="3.5"/><circle cx="1137.9" cy="569.9" r="3.5"/><circle cx="1297.1" cy="569.9" r="3.5"/><circle cx="1170" cy="572" r="3.5"/><circle cx="1202.4" cy="572.4" r="3.5"/><circle cx="1232.6" cy="572.4" r="3.5"/><circle cx="1265" cy="572" r="3.5"/><circle cx="1187" cy="589" r="3.5"/><circle cx="1217.5" cy="587.5" r="3.5"/><circle cx="1248" cy="589" r="3.5"/><circle cx="1154.2" cy="595.6" r="3.5"/><circle cx="1280.8" cy="595.6" r="3.5"/><circle cx="1203.9" cy="601.3" r="3.5"/><circle cx="1231.1" cy="601.3" r="3.5"/><circle cx="1175.9" cy="607.6" r="3.5"/><circle cx="1259.1" cy="607.6" r="3.5"/><circle cx="1217.5" cy="613.4" r="3.5"/><circle cx="1194.9" cy="616.6" r="3.5"/><circle cx="1240.1" cy="616.6" r="3.5"/><circle cx="1150.2" cy="620.8" r="3.5"/><circle cx="1284.8" cy="620.8" r="3.5"/><circle cx="1174.5" cy="627.2" r="3.5"/><circle cx="1260.5" cy="627.2" r="3.5"/><circle cx="1202.7" cy="639.1" r="3.5"/><circle cx="1217.5" cy="639.1" r="3.5"/><circle cx="1232.3" cy="639.1" r="3.5"/></g><clipPath id="c29"><circle cx="1442.5" cy="584" r="80.8"/></clipPath><g clip-path="url(#c29)"><g filter="url(#bl)"><rect x="1358.7" y="500.2" width="167.6" height="167.6" fill="#fffebe"/><path fill="#fff3ac" d="M1360 500l144 0-1 11-6 10-8 8-11 7-12 5-15 3-23 2-23 1-15-1-12-2-10-4-9-6 0-34zM1374 572l3-1 4 0 5 3 4 3 17 19 7 9 5 9 5 14 2 7 0 6-1 6-2 5-3 4-3 2-4 1-5 0-6-2-6-4-10-10-10-15-6-15-3-11 0-7 0-8 1-7 3-5z"/><path fill="#f6fbb0" d="M1524 531l3 0 0 81-9 2-2 3 6 23-1 7-1 6-5 9-7 6-31 0-6-4-5-8-3-6-4-13-2-5-7-4-15-4-7-5-34-42-5-9-1-3 0-3 2-3 2-2 9-3 18-2 22-2 18 0 15 1 11 2 12 4 3 0 4-3 11-16 4-4z"/><path fill="#fee999" d="M1360 500l129 0-1 9-4 8-6 7-10 7-9 4-12 4-13 2-15 1-14-1-12-2-10-4-9-5-9-8-6-9 0-13zM1378 578l3-1 3 1 5 2 4 3 13 15 9 13 5 12 1 12-1 5-2 4-2 3-3 2-5 1-4-1-9-5-10-10-7-12-5-14-2-13 2-11 2-4z"/><path fill="#edf8a3" d="M1524 542l3-1 0 57-6-1-5-5-5-9-1-9 1-11 3-10 5-8zM1423 556l15-1 15 0 12 3 11 5 8 8 4 7 0 5 0 4-4 8-4 4-6 5-7 3-8 3-10 1-12 0-8-1-6-3-9-8-10-12-6-9-2-7 0-3 2-3 4-4 9-3z"/><path fill="#fedc88" d="M1365 500l116 0-1 8-4 7-5 6-8 6-8 5-11 3-12 2-12 1-10-1-11-2-9-3-9-5-7-6-6-7-3-8-1-6zM1383 581l3 0 4 2 8 7 9 11 6 10 4 11 1 10-2 8-5 4-3 1-4 0-5-2-4-3-9-9-7-12-4-14-1-12 1-4 2-4 3-3z"/><path fill="#e1f399" d="M1525 548l2 0 0 43-5-1-3-4-3-6-1-8 0-7 2-8 4-6zM1432 559l11 0 10 1 9 3 7 5 5 6 3 6-1 6-3 6-5 4-6 4-7 3-9 1-9 1-8-1-6-1-6-4-7-8-6-8-3-6 0-6 4-5 6-3 11-3z"/><path fill="#feca79" d="M1371 500l104 0-2 8-3 6-5 5-6 5-7 4-9 3-11 2-10 1-11-1-9-1-9-4-7-4-6-4-5-6-4-8zM1384 584l6 2 8 5 8 10 6 10 3 9 0 9-1 8-4 4-3 1-5-1-7-4-9-9-6-11-3-12-1-10 1-5 2-3 2-2z"/><path fill="#cdeb9d" d="M1525 554l2 0 0 31-3-1-3-4-2-3-1-6 1-6 1-5 2-3zM1425 563l9-1 9 0 9 2 7 4 6 4 3 5 1 6-2 4-3 4-5 4-6 2-6 2-7 1-8 0-6-1-6-2-6-4-6-7-2-6-1-5 3-4 3-3 6-3z"/><path fill="#fdb96a" d="M1377 500l93 0-2 6-3 6-4 6-6 4-8 4-7 3-9 1-9 1-9-1-9-2-8-2-7-5-6-4-4-6-3-8-1-3zM1384 587l3 0 3 1 6 4 8 8 5 10 4 9 0 9-1 6-4 4-3 1-3-1-7-4-7-6-5-9-4-11-1-10 2-8z"/><path fill="#b8e2a1" d="M1525 561l2-1 0 18-3-2-2-5 1-6zM1428 566l7-1 8 1 6 2 6 2 4 4 2 4 1 5-2 3-2 3-4 3-5 2-6 2-8 0-6 0-6-2-4-2-4-3-4-5-1-4 0-3 2-3 4-4 5-2z"/><path fill="#fca55d" d="M1381 500l84 0-1 6-3 5-3 4-6 5-6 3-8 3-7 1-9 1-9-1-8-2-6-2-6-3-6-5-4-6-3-7 0-2zM1384 590l5-1 6 3 7 7 5 9 4 9 1 8-2 7-3 4-5 0-6-3-6-5-6-9-3-9-1-9 1-8z"/><path fill="#a2d9a4" d="M1431 569l6 0 6 1 8 4 3 3 1 3 0 3-2 3-6 4-9 2-10 0-8-4-3-2-1-3-1-3 1-3 2-3 4-2z"/><path fill="#f88c51" d="M1386 500l75 0-1 5-2 4-4 5-5 4-12 5-8 2-7 0-8-1-7-1-6-2-6-4-6-5-3-4-2-8zM1386 592l4 0 6 3 6 7 5 8 2 7 1 8-2 6-3 2-4 0-6-3-5-5-5-8-3-9-1-7 2-6z"/><path fill="#89d0a4" d="M1429 574l8-1 7 2 3 3 1 2-1 3-3 3-6 2-6 0-6-2-4-3 0-3 1-3z"/><path fill="#f57547" d="M1389 500l68 0-1 5-3 4-7 7-11 5-13 1-14-2-10-5-4-3-3-4-2-5zM1386 594l4-1 5 3 4 4 5 7 3 7 2 8-1 6-3 3-4 0-5-2-4-4-5-7-3-7-1-7 0-6z"/><path fill="#ed6246" d="M1393 500l60 0-3 8-3 3-4 3-9 4-12 2-11-2-10-4-3-3-4-5-2-4 0-2zM1387 596l3-1 5 2 4 4 5 7 2 6 1 6 0 5-3 4-3 0-5-2-4-4-4-6-3-7-1-6 1-5z"/><path fill="#e2514a" d="M1398 500l51 0-2 6-7 6-8 4-10 1-11-2-7-3-4-4-2-3-2-5zM1390 598l3 0 5 4 3 3 3 6 1 6 0 5-1 3-2 2-3 0-4-3-4-4-3-6-2-6 0-6 1-3z"/><path fill="#d7414e" d="M1401 500l43 0-1 5-5 5-7 3-8 1-7-1-8-3-5-4-2-3zM1390 600l3 0 3 2 3 3 3 6 2 5 0 4-1 3-2 1-3 0-3-2-6-8-1-4-1-5 1-3z"/><path fill="#c52c4b" d="M1407 500l33 0-3 5-3 3-5 2-6 1-6-1-6-2-5-5-1-3zM1390 603l2-1 3 1 4 5 3 8 0 3-1 2-2 1-3-1-4-5-3-8z"/><path fill="#b11747" d="M1416 500l14 0-2 3-5 1-6-1-1-1-1-2zM1393 608l3 0 2 3 1 3-1 2-2 0-3-3 0-3z"/></g><path class="ct" d="M1526.7 564.5l-1.5 1.6-.6 3.1.6 3.4 1.5 1.5M1427.7 567.5l-6 1.6-3.6 1.6-3.9 3-1.9 3-.5 3 1.3 4.5 2.6 3.5 4.5 3.6 4.5 1.9 4.5 1.1 6 .5 6-.4 6-1.5 4.5-1.9 3.3-2.3 2.7-3 1.3-3-.2-4.5-2.9-4.5-4.1-3-4.6-2-6-1.4-7.5-.5-6 .7M1526.7 545.2l-4.5 1.8-2.8 2.7-2 3-2.1 4.5-1.3 4.5-1 9 1 9 3.1 7.5 2.1 2.8 3 2.6 4.5 1.3M1432.2 557.1l-10.5 1.2-10.5 2.6-7.7 3.8-2.8 2.7-1 1.8-.8 3 .3 3 .9 3 2.2 4.5 7.4 10 7.5 7.6 6 4.1 6 2.1 7.5.7 10.5-.6 10.5-2.1 7.5-2.9 6.5-3.9 4.6-4.5 3.4-6 .9-4.5-.1-3-1.3-4.5-1.6-3-4.9-5.3-7.5-4.6-9-3.1-12-1.9-12-.2M1500.1 500.2l-1.1 7.5-2.8 7.5-3.7 6-5.5 6-6.8 5.1-7.4 3.9-9.1 3.3-9 2.3-15 2.3-18 1.4-15 .2-13.5-1-9-1.7-9-3.1-9-4.9-7.5-5.9M1375.2 573.4l3-.8 4.5.7 4.5 2.5 6 5.2 7.5 8.1 8.2 10.1 6.3 9 4.1 7.5 2.9 7.5 1.5 6 .8 6 0 4.5-.7 4.5-2.1 5.5-2.8 3.5-3.2 2.1-4.5 1.1-6-.8-4.5-1.9-6-4-4.5-4.1-5.2-5.9-4.3-6-5-9-3.2-7.5-2.8-9-1.4-7.5-.6-7.5.5-7.5 1.7-6 2.3-3.8 3-2.5M1474.7 500.2l-1.5 7.5-3.1 6-4.9 5.7-6.1 4.8-7.4 4-9 3.1-10.5 2.1-10.5.7-10.5-.7-9-1.8-9-3.1-7.5-4.2-5.8-4.6-5.1-6-3-6-1.6-7.5M1384.2 584.2l3 .3 3 1.2 3 1.9 4.5 3.8 7.9 9.3 6 10.5 3 9 .7 4.5.1 4.5-.7 4.5-1.2 3-2.3 3-1.5 1.1-3 .9-4.5-.5-3-1.2-4.5-3-4.5-4.3-3.9-5-5.8-10.5-2.2-6-1.5-6-.7-6 .1-4.5 1.1-4.5 1.6-3 2.3-2.1 3-.9M1461.6 500.2l-1.4 6-2.5 4.4-4.1 4.6-4 3-5.5 3-7.4 2.6-7.5 1.4-7.5.4-7.5-.6-7.5-1.6-6-2.2-5.4-3-3.9-3-4.2-4.7-2.4-4.3-1.4-6M1385.7 591.1l1.5-.3 3 .4 3 1.4 3 2.2 6 6.5 5 8.4 2.5 7.5.7 7.5-.4 3-1.1 3-1.2 1.5-2.1 1.5-1.9.5-3-.4-3-1.3-3-2.1-5.3-5.7-4.5-7.5-3.2-9-.8-7.5.3-3 .9-3 2.1-2.8 1.5-.8M1450.3 500.2l-1.2 4.5-1.8 3-2.8 3-3.3 2.4-4.5 2.3-4.5 1.4-4.5.9-6 .3-9.5-1.3-4.4-1.5-4.1-2.1-3.2-2.4-2.8-3-1.8-3-1.2-4.5M1387.2 597.7l3-1 4.5 1.7 4.2 3.8 3.3 4.6 2.7 5.9 1.3 6-.3 4.5-.7 1.8-1.5 1.9-3 .8-4.5-1.7-4.5-4.3-3-4.5-2.5-6-1.1-6 .4-4.5 1.7-3M1437 500.2l-1.2 3-3.1 3-3.5 1.7-6 1.1-6-.7-4.5-1.9-3.5-3.2-1.2-3M1391.7 604l1.5-.2 2.7 1.4 3.5 4.5 1.3 3 .5 3-.4 3-1.6 1.5-1.5 0-2.5-1.5-3.5-4.5-1.7-6 .2-2.1 1.5-2.1"/></g><g class="hd"><circle cx="1442.5" cy="584" r="59.2"/><path d="M1430.1 526.11L1442.5 515.92L1454.9 526.11"/><path d="M1501.34 573.64 1502.88 570.65 1503.83 570.54 1505.24 571.04 1506.66 573.64 1506.44 581.95 1507.26 593.89 1505.49 599.08 1502.88 600.04 1500.4 597.53"/><path d="M1383.66 573.64 1382.12 570.65 1381.17 570.54 1379.76 571.04 1378.34 573.64 1378.56 581.95 1377.74 593.89 1379.51 599.08 1382.12 600.04 1384.6 597.53"/></g><g class="sn"><circle cx="1421.7" cy="524.3" r="3.5"/><circle cx="1463.3" cy="524.3" r="3.5"/><circle cx="1386.3" cy="550" r="3.5"/><circle cx="1498.7" cy="550" r="3.5"/><circle cx="1414.7" cy="554.4" r="3.5"/><circle cx="1442.7" cy="556" r="3.5"/><circle cx="1470.3" cy="554.4" r="3.5"/><circle cx="1362.9" cy="569.9" r="3.5"/><circle cx="1522.1" cy="569.9" r="3.5"/><circle cx="1395" cy="572" r="3.5"/><circle cx="1427.4" cy="572.4" r="3.5"/><circle cx="1457.6" cy="572.4" r="3.5"/><circle cx="1490" cy="572" r="3.5"/><circle cx="1412" cy="589" r="3.5"/><circle cx="1442.5" cy="587.5" r="3.5"/><circle cx="1473" cy="589" r="3.5"/><circle cx="1379.2" cy="595.6" r="3.5"/><circle cx="1505.8" cy="595.6" r="3.5"/><circle cx="1428.9" cy="601.3" r="3.5"/><circle cx="1456.1" cy="601.3" r="3.5"/><circle cx="1400.9" cy="607.6" r="3.5"/><circle cx="1484.1" cy="607.6" r="3.5"/><circle cx="1442.5" cy="613.4" r="3.5"/><circle cx="1419.9" cy="616.6" r="3.5"/><circle cx="1465.1" cy="616.6" r="3.5"/><circle cx="1375.2" cy="620.8" r="3.5"/><circle cx="1509.8" cy="620.8" r="3.5"/><circle cx="1399.5" cy="627.2" r="3.5"/><circle cx="1485.5" cy="627.2" r="3.5"/><circle cx="1427.7" cy="639.1" r="3.5"/><circle cx="1442.5" cy="639.1" r="3.5"/><circle cx="1457.3" cy="639.1" r="3.5"/></g><clipPath id="c30"><circle cx="1667.5" cy="584" r="80.8"/></clipPath><g clip-path="url(#c30)"><g filter="url(#bl)"><rect x="1583.7" y="500.2" width="167.6" height="167.6" fill="#fffebe"/><path fill="#fff3ac" d="M1666 542l5 0 3 0 3 3 2 3 0 5-1 3-2 3-4 2-4 0-3-1-3-3-2-3 0-4 1-3 2-3zM1653 581l7-1 14 3 18 1 9 2 7 2 8 4 6 6 3 6 0 4-1 3-3 5-6 4-7 4-9 3-9 1-9 1-10-1-8-2-3-2-6-8-14-9-2-3 0-8 3-7 6-5z"/><path fill="#f6fbb0" d="M1585 500l167 0 0 168-168 0 0-168zM1665 535l-5 2-4 4-3 4-1 5 0 4 1 5 8 12-1 1-12 4-6 3-7 5-5 5-3 6-2 7 0 8 2 6 2 0 6-3 4-2 5 1 4 1 3 3 3 4 1 5 0 7 0 3 5 2 12 2 18 0 17-2 15-5 12-7 7-6 2-5 2-4 0-5 0-4-4-8-9-8-12-6-15-4-23-4-1-2 0-1 4-8 2-6 0-6-1-4-3-5-6-4-6-1z"/><path fill="#fee999" d="M1669 549l2 1 0 1-2 2-1-2zM1651 584l5-1 4 0 6 2 9 4 17 2 9 2 6 3 4 5 2 4-1 5-3 4-5 3-5 3-7 1-8 1-7 0-14-3-17-11-3-3-1-3-1-6 2-4 3-5z"/><path fill="#edf8a3" d="M1602 501l1-1 58 0 4 5 2 3-1 3-2 4-3 3-11 5-14 2-16 0-16-4-5-2-3-2-1-3 0-5 3-4zM1585 525l5 1 4 4 6 9 5 9 7 18 2 18-1 36-3 18-4 11-4 7-6 8-6 4-6 0 0-143zM1641 614l4 0 3 1 2 2 2 3 0 3 0 3-2 3-3 2-5 0-3-1-3-2-1-3-1-3 1-3 2-3z"/><path fill="#fedc88" d="M1653 585l4-1 5 1 4 2 8 7 3 1 12 1 6 2 5 4 1 3 0 3-2 3-4 3-11 2-24-3-7-2-4-3-4-3-1-3-1-4 1-5 2-3 3-3z"/><path fill="#e1f399" d="M1630 508l5 0 1 1-2 2-3 0-2-2zM1584 542l6 3 4 4 4 5 3 8 3 7 3 11 1 18-2 22-2 9-3 8-4 7-4 6-5 4-4 2 0-114zM1642 615l5 1 1 1 2 3 0 3 0 2-2 2-3 2-4-1-2-2-2-3 1-4 1-2z"/><path fill="#feca79" d="M1651 587l3-1 5 0 3 1 4 2 6 7 2 6-1 3-5 4-8 2-6-1-5-3-3-5-1-6 2-5z"/><path fill="#cdeb9d" d="M1585 552l5 3 3 3 6 11 3 14 1 16-1 17-4 15-3 6-4 5-3 2-4 3 0-96zM1644 617l3 2 2 3-1 3-3 1-3 0-1-1-2-3 1-3z"/><path fill="#fdb96a" d="M1654 587l3 0 5 1 3 2 4 5 1 4-1 3-1 3-3 3-5 1-6-1-4-2-3-4-1-4 1-5 3-4z"/><path fill="#b8e2a1" d="M1584 559l4 3 3 3 5 9 3 12 1 13-1 14-3 12-5 9-4 4-3 1zM1644 620l1 0 1 2-1 1-1 0-2-1z"/><path fill="#fca55d" d="M1654 588l5 0 3 1 3 3 2 3 1 4-1 3-2 3-3 2-5 1-4-1-4-3-1-3-1-5 1-3 2-3z"/><path fill="#a2d9a4" d="M1585 566l5 5 4 9 2 10 1 11-1 10-3 10-5 8-4 4 0-68z"/><path fill="#f88c51" d="M1653 590l3-1 3 0 3 1 3 3 1 3 0 3 0 3-3 3-4 2-3-1-4-1-3-3-1-3 0-4 2-3z"/><path fill="#89d0a4" d="M1584 572l4 5 3 6 2 7 1 9-1 9-2 8-3 6-4 4 0-54z"/><path fill="#f57547" d="M1654 590l3 0 3 0 2 2 3 3 0 3 0 3-2 2-3 2-3 1-3-1-3-2-1-2-1-3 0-3 2-3z"/><path fill="#6ec5a5" d="M1585 580l4 7 1 12-2 12-1 4-3 4 0-40z"/><path fill="#ed6246" d="M1654 591l3 0 3 0 4 4 0 3 0 3-4 3-3 1-3-1-3-3-1-3 0-3z"/><path fill="#5ab4ab" d="M1584 589l2 4 0 6 0 6-2 5z"/><path fill="#e2514a" d="M1656 591l4 1 3 4-1 5-3 2-5 0-3-4 0-4 2-2z"/><path fill="#d7414e" d="M1654 593l5 0 2 2 1 3-2 3-1 1-3 0-3-2-1-4z"/><path fill="#c52c4b" d="M1654 594l3-1 3 2 1 3-2 3-2 0-3-1-1-2z"/><path fill="#b11747" d="M1656 596l2 0 1 2-2 1-1 0-1-1z"/></g><path class="ct" d="M1583.7 617.5l2.5-3.3 1.9-4.5 1-4.5.5-6-.4-6-1-4.7-1.7-4.3-2.8-3.7M1583.7 632l3-2.1 2-2.2 2.5-4 1.6-3.5 2.8-10.5.8-10.5-.7-10.5-2.7-10.5-4-7.5-2.3-2.6-3-2.2M1583.7 646.8l4.5-2.5 3.3-3.1 4.1-6 2.8-6 2.4-7.5 1.5-7.5.9-7.5.3-9-.4-9-1.1-7.5-1.8-7.5-2.2-6-3-6-3.8-5.2-3-2.8-4.5-2.5M1643.7 617.1l-1.5.3-1.8 1.3-1 3 1.3 3.1 1.5 1 3 .4 2.3-1.5.9-1.5.2-1.5-.3-1.5-.9-1.5-2.2-1.4-1.5-.2M1599.1 500.2l-3.5 3-3.4 4.5-3.9 10.5-2.1 1.5-2.5.9M1593.3 668.2l5.4-5.4 4.6-6.6 3.9-7.5 3.7-10.5 1.7-7.5.7-6 1.7-34.5-.5-15-2.8-13.5-4.9-13.5-8.7-18-.6-3 .4-1.5 2.3-1.3 3-.1 21 2.2 12 .2 10.5-1.3 9-2.6 4.5-2.1 3.9-2.5 3.1-3 1.8-3 .6-3-.5-3-1.6-3-2.8-3M1639.2 614l-2.4 1.7-2 3-.8 3 .9 4.5 2.1 3 3.7 2.3 4.5.4 3-1.1 2.1-1.6 1.8-3 .5-4.5-.9-3-2-2.5-3-2.1-4.5-.9-3 .8M1666.2 543.4l3-.7 3 .4 3.3 2.1 1.9 3 .5 3-.6 3-2.1 3.1-3 1.8-3 .5-3-.7-2.5-1.7-2-3-.6-3 .5-3 1.9-3 2.7-1.8M1655.7 581l3-.1 4.5.6 10.5 2.9 13.5.5 7.5.9 7.5 1.8 6 2.2 7.5 4.6 4.4 4.8 1.4 3 .6 3-.1 3-1 3-3.2 4.5-5.1 4.1-6.9 3.4-8.1 2.4-9 1.4-9 .2-9-.9-7.5-2-3-1.9-4.3-5.2-3.2-3-11.8-7.5-1.2-1.5-1-3-.1-3 .8-4.5 3-6 2.7-3 3.1-2.3 3-1.4 4.5-1M1652.7 585.5l4.5-.7 4.5.8 5.7 3.1 6.3 6.5 3 2 10.5 1.2 6 2 2.5 1.8 1.1 1.5.6 1.5-.5 3-2.2 2.4-3 1.7-3 1-4.5.7-4.5-.1-9-1.5-10.5.1-3-.5-4.5-1.8-3.4-2-3.2-3-1.7-3-.6-4.5.8-4.5 1.7-3 3.1-3 3.3-1.7M1652.7 588.1l3-.8 4.5.4 4.4 2.5 2.6 3 1.3 3 .3 4.5-1.2 3-3 3-4.4 1.7-4.5-.1-4.5-1.9-3-2.9-1.7-4.3.3-4.5 1.4-2.9 1.3-1.6 3.2-2.1M1654.2 589.6l3-.4 3 .6 2.9 1.9 2.1 3 .7 3-.4 3-2 3-3.3 2-3 .4-3-.6-3-1.8-2.1-3-.6-3 .4-3 1.9-3 3.4-2.1M1654.2 591.6l1.5-.5 3 .2 3 1.8 1.1 1.6.6 1.5 0 3-1.7 3-1.5 1.1-1.5.5-3 0-3-1.4-1.4-1.7-.7-1.5-.1-3 1.5-3 2.2-1.6M1655.7 593.2l3 .3 1.6 1.2.8 1.5-.2 3-1.1 1.5-1.1.7-3 .2-1.5-.7-1.3-1.7-.4-1.5.2-1.7 1.5-2 1.5-.8"/></g><g class="hd"><circle cx="1667.5" cy="584" r="59.2"/><path d="M1655.1 526.11L1667.5 515.92L1679.9 526.11"/><path d="M1726.34 573.64 1727.88 570.65 1728.83 570.54 1730.24 571.04 1731.66 573.64 1731.44 581.95 1732.26 593.89 1730.49 599.08 1727.88 600.04 1725.4 597.53"/><path d="M1608.66 573.64 1607.12 570.65 1606.17 570.54 1604.76 571.04 1603.34 573.64 1603.56 581.95 1602.74 593.89 1604.51 599.08 1607.12 600.04 1609.6 597.53"/></g><g class="sn"><circle cx="1646.7" cy="524.3" r="3.5"/><circle cx="1688.3" cy="524.3" r="3.5"/><circle cx="1611.3" cy="550" r="3.5"/><circle cx="1723.7" cy="550" r="3.5"/><circle cx="1639.7" cy="554.4" r="3.5"/><circle cx="1667.7" cy="556" r="3.5"/><circle cx="1695.3" cy="554.4" r="3.5"/><circle cx="1587.9" cy="569.9" r="3.5"/><circle cx="1747.1" cy="569.9" r="3.5"/><circle cx="1620" cy="572" r="3.5"/><circle cx="1652.4" cy="572.4" r="3.5"/><circle cx="1682.6" cy="572.4" r="3.5"/><circle cx="1715" cy="572" r="3.5"/><circle cx="1637" cy="589" r="3.5"/><circle cx="1667.5" cy="587.5" r="3.5"/><circle cx="1698" cy="589" r="3.5"/><circle cx="1604.2" cy="595.6" r="3.5"/><circle cx="1730.8" cy="595.6" r="3.5"/><circle cx="1653.9" cy="601.3" r="3.5"/><circle cx="1681.1" cy="601.3" r="3.5"/><circle cx="1625.9" cy="607.6" r="3.5"/><circle cx="1709.1" cy="607.6" r="3.5"/><circle cx="1667.5" cy="613.4" r="3.5"/><circle cx="1644.9" cy="616.6" r="3.5"/><circle cx="1690.1" cy="616.6" r="3.5"/><circle cx="1600.2" cy="620.8" r="3.5"/><circle cx="1734.8" cy="620.8" r="3.5"/><circle cx="1624.5" cy="627.2" r="3.5"/><circle cx="1710.5" cy="627.2" r="3.5"/><circle cx="1652.7" cy="639.1" r="3.5"/><circle cx="1667.5" cy="639.1" r="3.5"/><circle cx="1682.3" cy="639.1" r="3.5"/></g><text class="t" x="-2" y="23" fill="#000000" stroke="#000000"><tspan class="b" dx="-2" dy="1">[</tspan><tspan dx="0.07" dy="-1">01</tspan><tspan class="b" dx="-1" dy="1">]</tspan><tspan dx="-0.93" dy="-1"> Bra=0.97</tspan></text><text class="t" x="223" y="23" fill="#ff0000" stroke="#ff0000"><tspan class="b" dx="-2" dy="1">[</tspan><tspan dx="0.07" dy="-1">02</tspan><tspan class="b" dx="-1" dy="1">]</tspan><tspan dx="-0.93" dy="-1"> Mus=0.84</tspan></text><text class="t" x="448" y="23" fill="#000000" stroke="#000000"><tspan class="b" dx="-2" dy="1">[</tspan><tspan dx="0.07" dy="-1">03</tspan><tspan class="b" dx="-1" dy="1">]</tspan><tspan dx="-0.93" dy="-1"> Bra=0.77</tspan></text><text class="t" x="673" y="23" fill="#0a7cff" stroke="#0a7cff"><tspan class="b" dx="-2" dy="1">[</tspan><tspan dx="0.07" dy="-1">04</tspan><tspan class="b" dx="-1" dy="1">]</tspan><tspan dx="-0.93" dy="-1"> Hea=0.34</tspan></text><text class="t" x="898" y="23" fill="#000000" stroke="#000000"><tspan class="b" dx="-2" dy="1">[</tspan><tspan dx="0.07" dy="-1">05</tspan><tspan class="b" dx="-1" dy="1">]</tspan><tspan dx="-0.93" dy="-1"> Bra=0.79</tspan></text><text class="t" x="1123" y="23" fill="#000000" stroke="#000000"><tspan class="b" dx="-2" dy="1">[</tspan><tspan dx="0.07" dy="-1">06</tspan><tspan class="b" dx="-1" dy="1">]</tspan><tspan dx="-0.93" dy="-1"> Bra=0.90</tspan></text><text class="t" x="1348" y="23" fill="#000000" stroke="#000000"><tspan class="b" dx="-2" dy="1">[</tspan><tspan dx="0.07" dy="-1">07</tspan><tspan class="b" dx="-1" dy="1">]</tspan><tspan dx="-0.93" dy="-1"> Mus=0.76</tspan></text><text class="t" x="1573" y="23" fill="#0a7cff" stroke="#0a7cff"><tspan class="b" dx="-2" dy="1">[</tspan><tspan dx="0.07" dy="-1">08</tspan><tspan class="b" dx="-1" dy="1">]</tspan><tspan dx="-0.93" dy="-1"> Mus=0.75</tspan></text><text class="t" x="1798" y="23" fill="#000000" stroke="#000000"><tspan class="b" dx="-2" dy="1">[</tspan><tspan dx="0.07" dy="-1">09</tspan><tspan class="b" dx="-1" dy="1">]</tspan><tspan dx="-0.93" dy="-1"> Bra=0.96</tspan></text><text class="t" x="2023" y="23" fill="#ff0000" stroke="#ff0000"><tspan class="b" dx="-2" dy="1">[</tspan><tspan dx="0.07" dy="-1">10</tspan><tspan class="b" dx="-1" dy="1">]</tspan><tspan dx="-0.93" dy="-1"> Mus=0.98</tspan></text><text class="t" x="2248" y="23" fill="#000000" stroke="#000000"><tspan class="b" dx="-2" dy="1">[</tspan><tspan dx="0.07" dy="-1">11</tspan><tspan class="b" dx="-1" dy="1">]</tspan><tspan dx="-0.93" dy="-1"> Bra=0.87</tspan></text><text class="t" x="-2" y="259" fill="#0a7cff" stroke="#0a7cff"><tspan class="b" dx="-2" dy="1">[</tspan><tspan dx="0.07" dy="-1">12</tspan><tspan class="b" dx="-1" dy="1">]</tspan><tspan dx="-0.93" dy="-1"> Lin=0.36</tspan></text><text class="t" x="223" y="259" fill="#000000" stroke="#000000"><tspan class="b" dx="-2" dy="1">[</tspan><tspan dx="0.07" dy="-1">13</tspan><tspan class="b" dx="-1" dy="1">]</tspan><tspan dx="-0.93" dy="-1"> Mus=0.73</tspan></text><text class="t" x="448" y="259" fill="#000000" stroke="#000000"><tspan class="b" dx="-2" dy="1">[</tspan><tspan dx="0.07" dy="-1">14</tspan><tspan class="b" dx="-1" dy="1">]</tspan><tspan dx="-0.93" dy="-1"> Bra=0.92</tspan></text><text class="t" x="673" y="259" fill="#000000" stroke="#000000"><tspan class="b" dx="-2" dy="1">[</tspan><tspan dx="0.07" dy="-1">15</tspan><tspan class="b" dx="-1" dy="1">]</tspan><tspan dx="-0.93" dy="-1"> Bra=0.99</tspan></text><text class="t" x="898" y="259" fill="#000000" stroke="#000000"><tspan class="b" dx="-2" dy="1">[</tspan><tspan dx="0.07" dy="-1">16</tspan><tspan class="b" dx="-1" dy="1">]</tspan><tspan dx="-0.93" dy="-1"> Mus=0.63</tspan></text><text class="t" x="1123" y="259" fill="#ff0000" stroke="#ff0000"><tspan class="b" dx="-2" dy="1">[</tspan><tspan dx="0.07" dy="-1">17</tspan><tspan class="b" dx="-1" dy="1">]</tspan><tspan dx="-0.93" dy="-1"> Mus=0.88</tspan></text><text class="t" x="1348" y="259" fill="#ff0000" stroke="#ff0000"><tspan class="b" dx="-2" dy="1">[</tspan><tspan dx="0.07" dy="-1">18</tspan><tspan class="b" dx="-1" dy="1">]</tspan><tspan dx="-0.93" dy="-1"> Mus=0.99</tspan></text><text class="t" x="1573" y="259" fill="#000000" stroke="#000000"><tspan class="b" dx="-2" dy="1">[</tspan><tspan dx="0.07" dy="-1">19</tspan><tspan class="b" dx="-1" dy="1">]</tspan><tspan dx="-0.93" dy="-1"> Bra=0.89</tspan></text><text class="t" x="1798" y="259" fill="#000000" stroke="#000000"><tspan class="b" dx="-2" dy="1">[</tspan><tspan dx="0.07" dy="-1">20</tspan><tspan class="b" dx="-1" dy="1">]</tspan><tspan dx="-0.93" dy="-1"> Oth=0.70</tspan></text><text class="t" x="2023" y="259" fill="#000000" stroke="#000000"><tspan class="b" dx="-2" dy="1">[</tspan><tspan dx="0.07" dy="-1">21</tspan><tspan class="b" dx="-1" dy="1">]</tspan><tspan dx="-0.93" dy="-1"> Bra=0.56</tspan></text><text class="t" x="2248" y="259" fill="#000000" stroke="#000000"><tspan class="b" dx="-2" dy="1">[</tspan><tspan dx="0.07" dy="-1">22</tspan><tspan class="b" dx="-1" dy="1">]</tspan><tspan dx="-0.93" dy="-1"> Oth=0.87</tspan></text><text class="t" x="-2" y="495" fill="#0a7cff" stroke="#0a7cff"><tspan class="b" dx="-2" dy="1">[</tspan><tspan dx="0.07" dy="-1">23</tspan><tspan class="b" dx="-1" dy="1">]</tspan><tspan dx="-0.93" dy="-1"> Oth=0.79</tspan></text><text class="t" x="223" y="495" fill="#000000" stroke="#000000"><tspan class="b" dx="-2" dy="1">[</tspan><tspan dx="0.07" dy="-1">24</tspan><tspan class="b" dx="-1" dy="1">]</tspan><tspan dx="-0.93" dy="-1"> Bra=0.45</tspan></text><text class="t" x="448" y="495" fill="#000000" stroke="#000000"><tspan class="b" dx="-2" dy="1">[</tspan><tspan dx="0.07" dy="-1">25</tspan><tspan class="b" dx="-1" dy="1">]</tspan><tspan dx="-0.93" dy="-1"> Oth=0.64</tspan></text><text class="t" x="673" y="495" fill="#000000" stroke="#000000"><tspan class="b" dx="-2" dy="1">[</tspan><tspan dx="0.07" dy="-1">26</tspan><tspan class="b" dx="-1" dy="1">]</tspan><tspan dx="-0.93" dy="-1"> Bra=0.70</tspan></text><text class="t" x="898" y="495" fill="#000000" stroke="#000000"><tspan class="b" dx="-2" dy="1">[</tspan><tspan dx="0.07" dy="-1">27</tspan><tspan class="b" dx="-1" dy="1">]</tspan><tspan dx="-0.93" dy="-1"> Oth=0.61</tspan></text><text class="t" x="1123" y="495" fill="#000000" stroke="#000000"><tspan class="b" dx="-2" dy="1">[</tspan><tspan dx="0.07" dy="-1">28</tspan><tspan class="b" dx="-1" dy="1">]</tspan><tspan dx="-0.93" dy="-1"> Bra=0.46</tspan></text><text class="t" x="1348" y="495" fill="#000000" stroke="#000000"><tspan class="b" dx="-2" dy="1">[</tspan><tspan dx="0.07" dy="-1">29</tspan><tspan class="b" dx="-1" dy="1">]</tspan><tspan dx="-0.93" dy="-1"> Oth=0.75</tspan></text><text class="t" x="1573" y="495" fill="#000000" stroke="#000000"><tspan class="b" dx="-2" dy="1">[</tspan><tspan dx="0.07" dy="-1">30</tspan><tspan class="b" dx="-1" dy="1">]</tspan><tspan dx="-0.93" dy="-1"> Oth=0.51</tspan></text></svg></body></html>
